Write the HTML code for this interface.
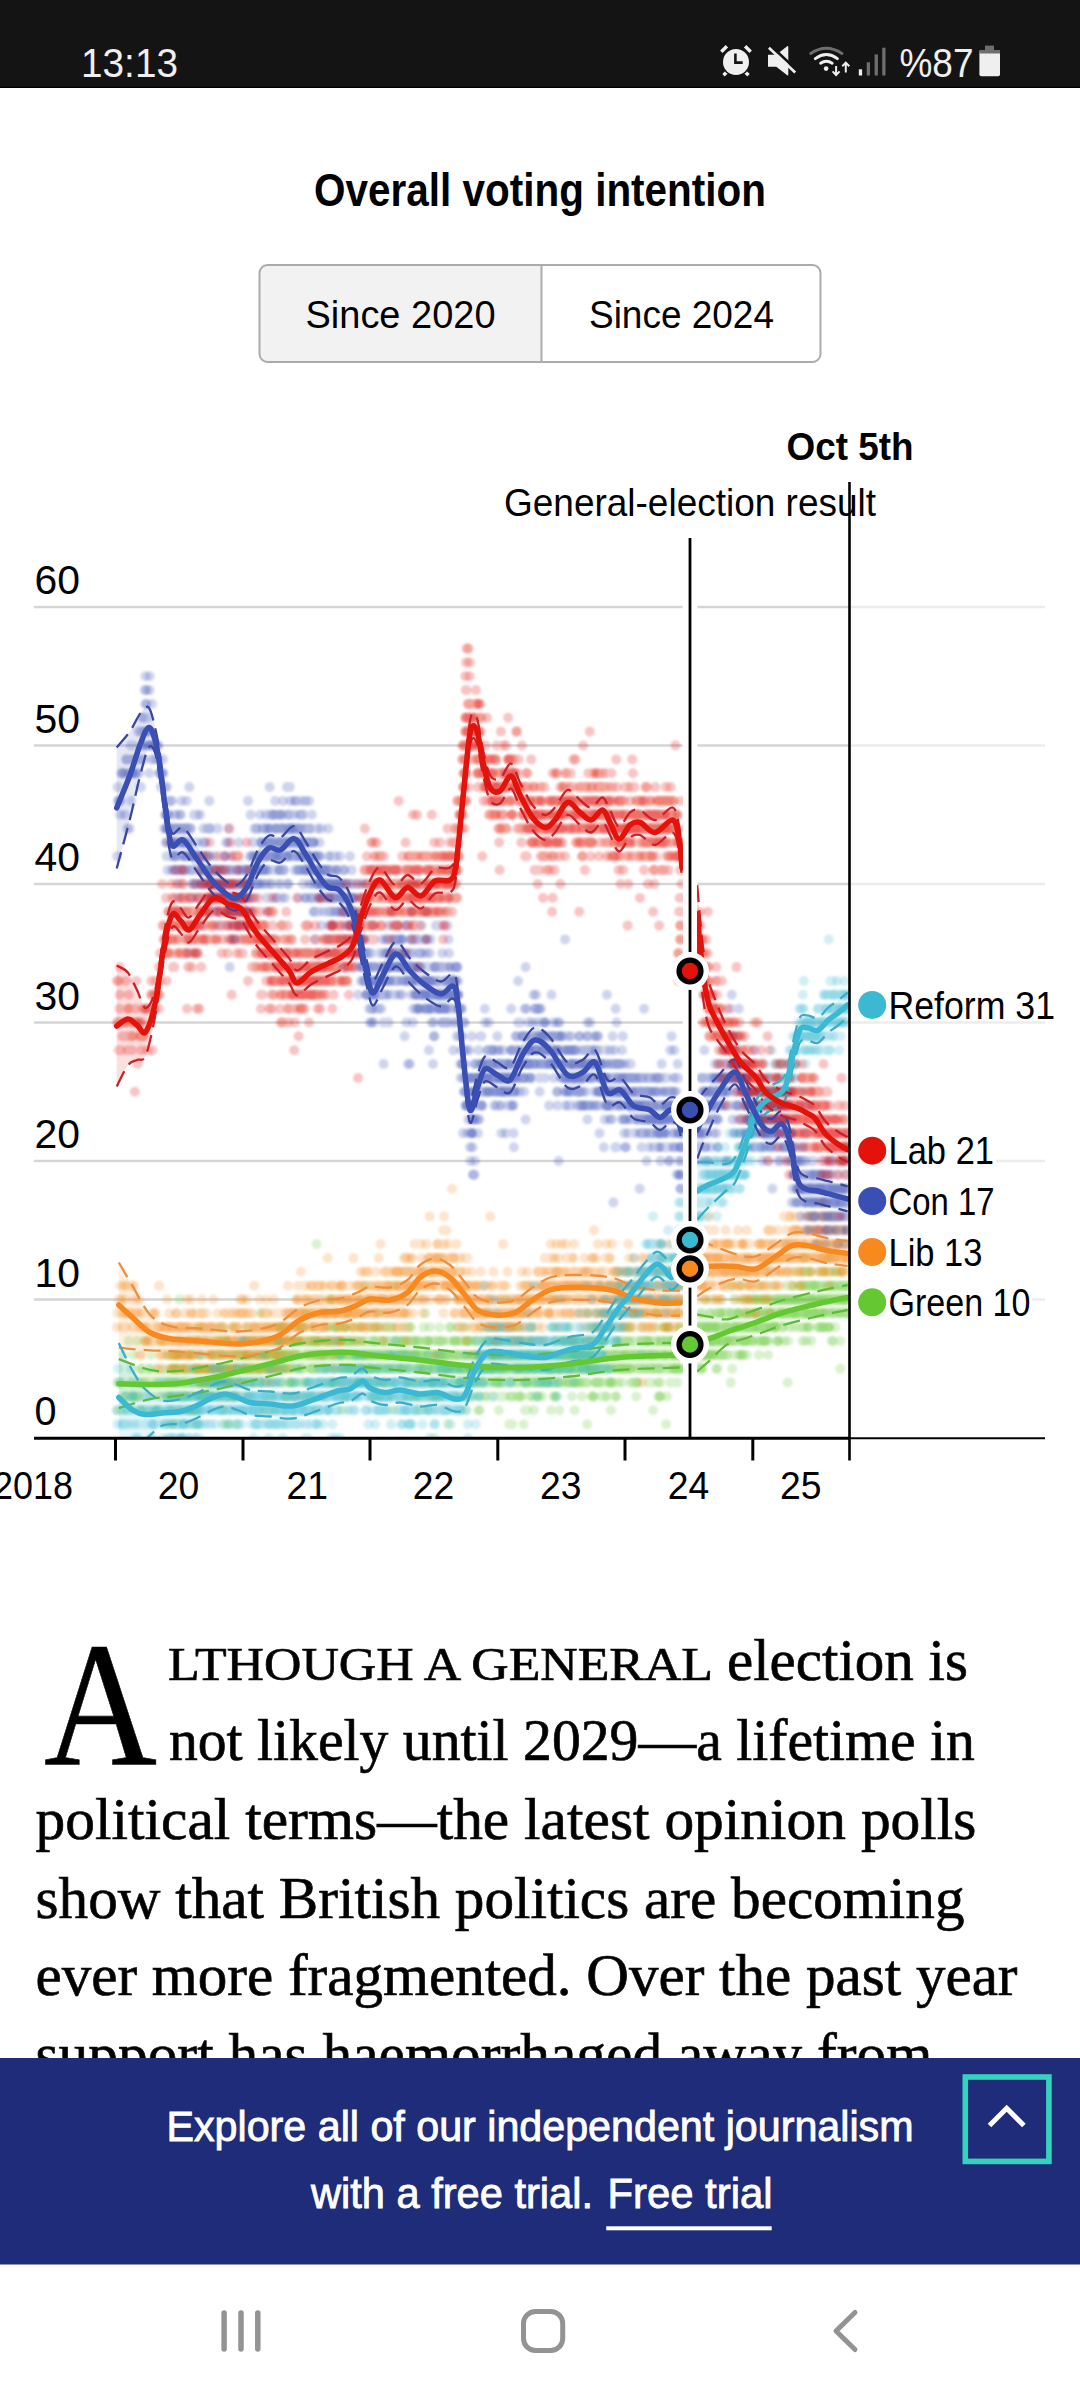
<!DOCTYPE html>
<html><head><meta charset="utf-8"><title>Overall voting intention</title>
<style>
html,body{margin:0;padding:0;background:#fff;width:1080px;height:2400px;overflow:hidden}
svg{display:block;font-family:'Liberation Sans',Arial,sans-serif}
</style></head><body>
<svg width="1080" height="2400" viewBox="0 0 1080 2400">
<rect x="0" y="0" width="1080" height="88" fill="#141414"/><rect x="0" y="86.8" width="1080" height="1.2" fill="#000"/>
<text x="81" y="77.3" font-size="41.5" fill="#efefef" textLength="97" lengthAdjust="spacingAndGlyphs">13:13</text>
<g stroke="#efefef" stroke-width="3.4" fill="none"><path d="M721.3 51.8l5.6-5.6M750.7 51.8l-5.6-5.6M723.5 75.2l4-4M748.5 75.2l-4-4"/></g><circle cx="736" cy="62" r="14.6" fill="#141414"/><circle cx="736" cy="62" r="13" fill="#efefef"/><path d="M735.4 53.5V62.6H742.7" fill="none" stroke="#141414" stroke-width="2.6"/>
<path d="M768 54.8H776.3L787.2 46.2Q788.3 45.6 788.3 47V74.6Q788.3 76 787.2 75.3L776.3 66.7H768Z" fill="#efefef"/><path d="M770.8 45.8L797.1 70.6" stroke="#141414" stroke-width="2.8"/><path d="M768.9 47.8L795.2 72.6" stroke="#efefef" stroke-width="2.7"/>
<g fill="none" stroke-linecap="round" stroke-width="2.9"><path d="M810.7 53.5Q826.3 43 842 53.5" stroke="#6e6e6e"/><path d="M815.3 58.6Q826.4 50.6 837.4 58.6" stroke="#efefef"/><path d="M820.6 63.3Q826.4 59.3 832.2 63.3" stroke="#efefef"/></g><circle cx="826.1" cy="68.6" r="2.3" fill="#efefef"/><path d="M836.1 66v8.2M832.6 71.4l3.5 3.6 3.5-3.6M845.8 72.6v-9M842.3 66.2l3.5-3.6 3.5 3.6" stroke="#efefef" stroke-width="2" fill="none"/>
<rect x="858.8" y="69.3" width="3.3" height="6.2" fill="#efefef"/><rect x="866.7" y="62.3" width="3.3" height="13.2" fill="#6e6e6e"/><rect x="874.6" y="54.4" width="3.3" height="21.1" fill="#6e6e6e"/><rect x="882.2" y="47.7" width="3.3" height="27.8" fill="#6e6e6e"/>
<text x="899.5" y="77.2" font-size="41.5" fill="#efefef" textLength="74" lengthAdjust="spacingAndGlyphs">%87</text>
<rect x="985" y="45.6" width="9" height="6" fill="#6e6e6e"/><rect x="979.4" y="50" width="20.6" height="26.2" rx="2" fill="#efefef"/><rect x="979.4" y="50" width="20.6" height="3.5" fill="#6e6e6e"/>
<text x="540" y="205.7" font-size="46.5" font-weight="700" textLength="452" lengthAdjust="spacingAndGlyphs" text-anchor="middle">Overall voting intention</text>
<path d="M267.5 265h274v97h-274a8 8 0 0 1-8-8v-81a8 8 0 0 1 8-8z" fill="#f2f2f2"/>
<rect x="259.5" y="265" width="561" height="97" rx="8" fill="none" stroke="#ababab" stroke-width="2"/>
<line x1="541.5" y1="265" x2="541.5" y2="362" stroke="#ababab" stroke-width="2"/>
<text x="400.5" y="327.8" font-size="39" textLength="190" lengthAdjust="spacingAndGlyphs" text-anchor="middle">Since 2020</text>
<text x="681.5" y="327.8" font-size="39" textLength="185" lengthAdjust="spacingAndGlyphs" text-anchor="middle">Since 2024</text>
<path d="M34 1299.5H682.5M697.5 1299.5H849" stroke="#d5d5d5" stroke-width="2.6"/>
<path d="M851 1299.5H1045" stroke="#ececec" stroke-width="2.6"/>
<path d="M34 1161H682.5M697.5 1161H849" stroke="#d5d5d5" stroke-width="2.6"/>
<path d="M851 1161H1045" stroke="#ececec" stroke-width="2.6"/>
<path d="M34 1022.5H682.5M697.5 1022.5H849" stroke="#d5d5d5" stroke-width="2.6"/>
<path d="M851 1022.5H1045" stroke="#ececec" stroke-width="2.6"/>
<path d="M34 884H682.5M697.5 884H849" stroke="#d5d5d5" stroke-width="2.6"/>
<path d="M851 884H1045" stroke="#ececec" stroke-width="2.6"/>
<path d="M34 745.5H682.5M697.5 745.5H849" stroke="#d5d5d5" stroke-width="2.6"/>
<path d="M851 745.5H1045" stroke="#ececec" stroke-width="2.6"/>
<path d="M34 607H682.5M697.5 607H849" stroke="#d5d5d5" stroke-width="2.6"/>
<path d="M851 607H1045" stroke="#ececec" stroke-width="2.6"/>
<text x="34.5" y="1425" font-size="40.5" textLength="22" lengthAdjust="spacingAndGlyphs">0</text>
<text x="34.5" y="1286.5" font-size="40.5" textLength="45.5" lengthAdjust="spacingAndGlyphs">10</text>
<text x="34.5" y="1148" font-size="40.5" textLength="45.5" lengthAdjust="spacingAndGlyphs">20</text>
<text x="34.5" y="1009.5" font-size="40.5" textLength="45.5" lengthAdjust="spacingAndGlyphs">30</text>
<text x="34.5" y="871" font-size="40.5" textLength="45.5" lengthAdjust="spacingAndGlyphs">40</text>
<text x="34.5" y="732.5" font-size="40.5" textLength="45.5" lengthAdjust="spacingAndGlyphs">50</text>
<text x="34.5" y="594" font-size="40.5" textLength="45.5" lengthAdjust="spacingAndGlyphs">60</text>
<text x="786.5" y="459.8" font-size="39" font-weight="700" textLength="127" lengthAdjust="spacingAndGlyphs">Oct 5th</text>
<text x="504" y="515.5" font-size="39" textLength="372" lengthAdjust="spacingAndGlyphs">General-election result</text>
<defs><filter id="bl" filterUnits="userSpaceOnUse" x="30" y="540" width="830" height="905"><feGaussianBlur stdDeviation="0.8"/></filter><clipPath id="cc"><rect x="34" y="540" width="815" height="897"/></clipPath></defs>
<g clip-path="url(#cc)"><g filter="url(#bl)"><path d="M170.4 1424.2h0m57.8 0h0m359 0h0M132.1 1410.3h0m55.3 0h0m155 0h0m76.9 0h0m7.8 0h0m39.5 0h0m67.3 0h0m40.8 0h0m36.3 0h0M125.7 1396.5h0m1.5 0h0m2.2 0h0m37.2 0h0m0.8 0h0m17.8 0h0m1 0h0m15.3 0h0m2.5 0h0m4 0h0m5 0h0m22.6 0h0m4.6 0h0m30.9 0h0m14.3 0h0m60.3 0h0m33.7 0h0m59.3 0h0m17 0h0m9 0h0m19.9 0h0m36.8 0h0m16.2 0h0m16.1 0h0m28.3 0h0m9.8 0h0m9.6 0h0m3.9 0h0m53.4 0h0m8.3 0h0M117.3 1382.6h0m1.8 0h0m2.5 0h0m18.6 0h0m6.9 0h0m5.5 0h0m17.4 0h0m1.3 0h0m29.1 0h0m0.4 0h0m5 0h0m1.2 0h0m2.9 0h0m2.6 0h0m1.8 0h0m1.7 0h0m11.7 0h0m0.6 0h0m4 0h0m2.7 0h0m4.9 0h0m2.7 0h0m11.7 0h0m0.8 0h0m1.7 0h0m3.3 0h0m0.7 0h0m10.2 0h0m20 0h0m9.7 0h0m2.1 0h0m17.9 0h0m12.4 0h0m25.4 0h0m22.9 0h0m33.1 0h0m2.3 0h0m0.8 0h0m14.3 0h0m27.9 0h0m0.6 0h0m2.3 0h0m11.1 0h0m1 0h0m0.3 0h0m7 0h0m0.2 0h0m13.5 0h0m1.1 0h0m20.9 0h0m7.2 0h0m1.8 0h0m17.6 0h0m8.6 0h0m4.8 0h0m4.4 0h0m13.1 0h0m3.3 0h0m2.1 0h0m5.1 0h0m0.4 0h0m11.6 0h0m12.6 0h0m0.2 0h0m22.3 0h0m4.8 0h0m32.9 0h0m6.7 0h0M174.4 1368.8h0m12.3 0h0m3 0h0m5.1 0h0m2.7 0h0m1.7 0h0m11.2 0h0m9.8 0h0m10.6 0h0m3.3 0h0m11 0h0m5 0h0m0.8 0h0m4.1 0h0m3.1 0h0m2.9 0h0m8.7 0h0m2.8 0h0m1.2 0h0m8 0h0m2.3 0h0m11.9 0h0m15.6 0h0m1.9 0h0m10.3 0h0m13.3 0h0m11.9 0h0m8.3 0h0m11.5 0h0m2.6 0h0m23.7 0h0m3.4 0h0m0.4 0h0m1.1 0h0m9.3 0h0m3.7 0h0m6.9 0h0m1.3 0h0m12.5 0h0m1.8 0h0m5.5 0h0m4.5 0h0m1.4 0h0m4.3 0h0m5.2 0h0m13 0h0m3.2 0h0m3.9 0h0m2.7 0h0m1.8 0h0m4.7 0h0m2.3 0h0m1.7 0h0m13.6 0h0m0.5 0h0m2.4 0h0m0.5 0h0m3.7 0h0m10.9 0h0m8.1 0h0m4.2 0h0m2.3 0h0m3.7 0h0m8 0h0m12.1 0h0m0.2 0h0m6.8 0h0m1.2 0h0m4.6 0h0m3.4 0h0m1.9 0h0m4.3 0h0m0.7 0h0m3.9 0h0m6.4 0h0m24.2 0h0m3 0h0m7.3 0h0m0.5 0h0m2.7 0h0m5.7 0h0m2.9 0h0m0.7 0h0m1.5 0h0m2 0h0m3.3 0h0m2.3 0h0m1.4 0h0m3.1 0h0m6.4 0h0m1.6 0h0m1.2 0h0m3.3 0h0m2.9 0h0m1.9 0h0m4.7 0h0m0.9 0h0m1.7 0h0m1.2 0h0m0.9 0h0m21.4 0h0m14.4 0h0M151.2 1354.9h0m19.9 0h0m3.8 0h0m15.8 0h0m8.2 0h0m12 0h0m27.8 0h0m0.1 0h0m2.6 0h0m0.5 0h0m24.6 0h0m7.2 0h0m3 0h0m5.4 0h0m4.4 0h0m4.4 0h0m1 0h0m4.3 0h0m19.2 0h0m2.8 0h0m0.5 0h0m2.2 0h0m0.7 0h0m0.4 0h0m3.1 0h0m8.2 0h0m6.7 0h0m0.8 0h0m17.8 0h0m6.4 0h0m2.1 0h0m8.7 0h0m8.9 0h0m0.5 0h0m1.6 0h0m6.2 0h0m7.2 0h0m0.8 0h0m3.4 0h0m0.2 0h0m2.1 0h0m8.6 0h0m0.2 0h0m0.6 0h0m10.6 0h0m7.9 0h0m10.3 0h0m2 0h0m0.6 0h0m3 0h0m6.7 0h0m10.1 0h0m11.6 0h0m0.1 0h0m3 0h0m10.3 0h0m8.8 0h0m6.8 0h0m7.2 0h0m3.9 0h0m0.6 0h0m4.4 0h0m4.8 0h0m5.6 0h0m4.5 0h0m8.1 0h0m8.3 0h0m14.9 0h0m0.2 0h0m3.7 0h0m0.9 0h0m6.6 0h0m2.6 0h0m0.4 0h0m2.1 0h0m29.2 0h0m1 0h0m7.4 0h0m9.1 0h0m2.8 0h0m4.5 0h0m3.7 0h0m7.5 0h0m2.6 0h0m9.4 0h0m0.3 0h0m9.5 0h0m3.7 0h0m0.5 0h0m1.9 0h0m21 0h0m4.6 0h0m6.9 0h0m29.3 0h0m17.3 0h0M144.9 1341h0m81 0h0m16.4 0h0m9.6 0h0m11.9 0h0m0.4 0h0m12.9 0h0m16.9 0h0m6.9 0h0m7.8 0h0m0.8 0h0m1.7 0h0m0.7 0h0m2.9 0h0m0.3 0h0m2.3 0h0m2 0h0m0.1 0h0m10.4 0h0m4.1 0h0m2.4 0h0m2.3 0h0m9.1 0h0m3.4 0h0m1 0h0m13.2 0h0m1.1 0h0m3.9 0h0m4.6 0h0m1 0h0m4.7 0h0m1.8 0h0m20.1 0h0m4.4 0h0m6.9 0h0m11.1 0h0m3.2 0h0m11.5 0h0m14.2 0h0m5.5 0h0m6 0h0m4 0h0m6.4 0h0m1.8 0h0m3.1 0h0m27.9 0h0m3.7 0h0m1 0h0m0.1 0h0m8.5 0h0m6.1 0h0m28 0h0m23.6 0h0m12.4 0h0m1.2 0h0m3.5 0h0m2.2 0h0m4.5 0h0m17.3 0h0m1.6 0h0m8.2 0h0m18 0h0m7.7 0h0m11.4 0h0m3.8 0h0m1 0h0m8.2 0h0m18.2 0h0m3.2 0h0m1.7 0h0m2.5 0h0m4.1 0h0m2.1 0h0m2.5 0h0m0.3 0h0m1.3 0h0m11.6 0h0m2 0h0m3.7 0h0m2.8 0h0m7.6 0h0m7.8 0h0m12.3 0h0m2.8 0h0m10.8 0h0m24.6 0h0M232.8 1327.2h0m40.1 0h0m4.7 0h0m22.3 0h0m3.1 0h0m11.2 0h0m13.5 0h0m32.7 0h0m8.8 0h0m41.9 0h0m12.5 0h0m15.9 0h0m9.8 0h0m61.9 0h0m57.7 0h0m22.5 0h0m27.4 0h0m7.2 0h0m15.9 0h0m0.4 0h0m23 0h0m13.9 0h0m19 0h0m2.8 0h0m2.1 0h0m6.4 0h0m4.4 0h0m12.1 0h0m1.9 0h0m0.9 0h0m3.4 0h0m0.2 0h0m2 0h0m1 0h0m0.1 0h0m0.8 0h0m11.6 0h0m0.4 0h0m0.2 0h0m2.2 0h0m4.1 0h0m3.3 0h0m1.8 0h0m0.5 0h0m2.4 0h0m2.4 0h0m7.3 0h0m0.5 0h0m2 0h0m14.8 0h0m18.8 0h0m1.5 0h0m13.5 0h0m5.3 0h0M346.4 1313.3h0m262.2 0h0m25.8 0h0m6.5 0h0m14.8 0h0m21 0h0m39.5 0h0m4.5 0h0m4.3 0h0m5.1 0h0m6.3 0h0m0.7 0h0m8 0h0m0.6 0h0m1.4 0h0m9.3 0h0m4.3 0h0m1 0h0m1.7 0h0m8.6 0h0m7.3 0h0m0.3 0h0m0.4 0h0m2.5 0h0m2.5 0h0m1.6 0h0m3.4 0h0m1.9 0h0m3.6 0h0m2.9 0h0m1.1 0h0m3.8 0h0m3.2 0h0m1.3 0h0m3.3 0h0m0.8 0h0m0.9 0h0m0.5 0h0m0.8 0h0m1.2 0h0m6.8 0h0m10.6 0h0m1 0h0m12.3 0h0m0.4 0h0m0.9 0h0M711.6 1299.5h0m37.6 0h0m8.4 0h0m9.1 0h0m7.1 0h0m2 0h0m0.9 0h0m4.8 0h0m1.6 0h0m3 0h0m2.6 0h0m5.4 0h0m6 0h0m0.7 0h0m1.6 0h0m4.4 0h0m3.8 0h0m1.8 0h0m10.2 0h0m20 0h0m1.8 0h0M798.6 1285.7h0m10.2 0h0m1.2 0h0m5.8 0h0m12.8 0h0m11.7 0h0m6.4 0h0M628.1 1271.8h0m115.5 0h0m66.5 0h0m8.6 0h0m6.2 0h0m0.3 0h0m5.7 0h0m11.3 0h0M316.6 1244.1h0" stroke="#64c832" stroke-opacity="0.23" stroke-width="10" stroke-linecap="round" fill="none"/><path d="M225 1424.2h0m11.7 0h0m211.1 0h0m75.8 0h0M117 1410.3h0m6.1 0h0m21.1 0h0m14.3 0h0m13.7 0h0m20.8 0h0m0.9 0h0m2.5 0h0m1.3 0h0m280.6 0h0m174.8 0h0M135.7 1396.5h0m2.9 0h0m33.6 0h0m5 0h0m3.2 0h0m4.9 0h0m10.8 0h0m14.1 0h0m8.4 0h0m1 0h0m14 0h0m69.8 0h0m88.2 0h0m25.5 0h0m18.2 0h0m76.4 0h0m21 0h0m61.6 0h0m12.1 0h0m8.9 0h0m45.3 0h0M131.8 1382.6h0m39.9 0h0m3.3 0h0m8.2 0h0m5.1 0h0m14.9 0h0m1.1 0h0m1.9 0h0m8.6 0h0m3.3 0h0m2.8 0h0m0.9 0h0m4.1 0h0m0.1 0h0m1.3 0h0m13.1 0h0m0.5 0h0m7.4 0h0m1.2 0h0m42.3 0h0m2.3 0h0m15.1 0h0m17.9 0h0m3.7 0h0m9.3 0h0m7 0h0m11.6 0h0m10.6 0h0m6.8 0h0m33.9 0h0m6.4 0h0m5.9 0h0m10.1 0h0m13.3 0h0m2.2 0h0m4 0h0m8.3 0h0m7.6 0h0m0.9 0h0m28.8 0h0m13.3 0h0m2.1 0h0m1.9 0h0m2.3 0h0m6.2 0h0m7.2 0h0m2.4 0h0m1.7 0h0m5.9 0h0m9.9 0h0m3.3 0h0m0.6 0h0m2.1 0h0m0.6 0h0m2.2 0h0m5 0h0m3.3 0h0m0.5 0h0m8.9 0h0m18.7 0h0m5.1 0h0m11.1 0h0m6.2 0h0m30.6 0h0m2.8 0h0m136.3 0h0M140.6 1368.8h0m9.6 0h0m19.4 0h0m6.2 0h0m0.1 0h0m17.8 0h0m0 0h0m2.6 0h0m6.6 0h0m3.5 0h0m2.4 0h0m4.8 0h0m1.3 0h0m2.3 0h0m5.6 0h0m1.9 0h0m11.1 0h0m3.4 0h0m0.5 0h0m2.7 0h0m1.4 0h0m0.4 0h0m0.9 0h0m3.6 0h0m0.4 0h0m9.6 0h0m8.3 0h0m1.1 0h0m3.4 0h0m8.1 0h0m0.7 0h0m3.2 0h0m5.6 0h0m0.6 0h0m0.9 0h0m11 0h0m8.4 0h0m6.1 0h0m2.4 0h0m2 0h0m2 0h0m1.7 0h0m9.1 0h0m13.4 0h0m14.1 0h0m2.9 0h0m7.6 0h0m0.9 0h0m4.8 0h0m7.2 0h0m17.8 0h0m0.1 0h0m1.5 0h0m0.7 0h0m0.7 0h0m2.4 0h0m0.5 0h0m9.8 0h0m0.5 0h0m1.7 0h0m3.7 0h0m4.7 0h0m19 0h0m0.7 0h0m1.4 0h0m1.5 0h0m9.4 0h0m3.1 0h0m0.2 0h0m0.4 0h0m10.9 0h0m1.8 0h0m5.5 0h0m0.6 0h0m6.6 0h0m1.5 0h0m1.5 0h0m4.2 0h0m1.8 0h0m7.6 0h0m0.5 0h0m12.8 0h0m1.6 0h0m10.6 0h0m15.7 0h0m3.2 0h0m1 0h0m3 0h0m0.4 0h0m5.5 0h0m1.4 0h0m10.8 0h0m0.3 0h0m3.7 0h0m3.1 0h0m9 0h0m3.1 0h0m16.4 0h0m8.5 0h0m3.5 0h0m1.7 0h0m1 0h0m8.4 0h0m18 0h0m2.9 0h0m6.3 0h0m16 0h0m4.8 0h0m0.3 0h0m23.1 0h0m29.7 0h0m107.8 0h0M166.1 1354.9h0m15 0h0m10.5 0h0m23 0h0m6.1 0h0m11.6 0h0m3.2 0h0m1.8 0h0m8.7 0h0m0.6 0h0m3.1 0h0m1.8 0h0m0.9 0h0m6.5 0h0m4.1 0h0m5 0h0m6.9 0h0m4.1 0h0m8.4 0h0m1.7 0h0m1.3 0h0m5 0h0m2.1 0h0m8.9 0h0m2.7 0h0m5.8 0h0m5.8 0h0m0.7 0h0m1.7 0h0m16.2 0h0m0.3 0h0m9 0h0m5.1 0h0m1.4 0h0m15.1 0h0m12.4 0h0m0.6 0h0m3.7 0h0m1.5 0h0m1.1 0h0m10.2 0h0m2.1 0h0m1.5 0h0m1.5 0h0m3 0h0m4.4 0h0m1.6 0h0m7.5 0h0m16.5 0h0m5.1 0h0m12 0h0m2.2 0h0m5.1 0h0m0.6 0h0m9.3 0h0m0.1 0h0m0.4 0h0m1 0h0m20.2 0h0m4.7 0h0m4.3 0h0m0.8 0h0m11 0h0m0.1 0h0m8.5 0h0m4.7 0h0m3.4 0h0m0.9 0h0m9.2 0h0m2.7 0h0m2.4 0h0m18.8 0h0m7 0h0m3.6 0h0m0.9 0h0m6.7 0h0m5.3 0h0m18.7 0h0m0.5 0h0m3.4 0h0m2.3 0h0m1.2 0h0m7.6 0h0m4.4 0h0m3.7 0h0m0.9 0h0m1.2 0h0m6.2 0h0m1.3 0h0m2.9 0h0m5 0h0m0.5 0h0m2.2 0h0m0.5 0h0m3.4 0h0m13.2 0h0m6.2 0h0m2.4 0h0m1.4 0h0m1.1 0h0m2.1 0h0m21.3 0h0m4.8 0h0m2.8 0h0m6.2 0h0m0.8 0h0m1.9 0h0m1.8 0h0m3.4 0h0m3.1 0h0m11.9 0h0m29 0h0M128.7 1341h0m8.3 0h0m86.5 0h0m2.1 0h0m24.8 0h0m3.3 0h0m8.8 0h0m13.9 0h0m1 0h0m8.8 0h0m1.1 0h0m5.7 0h0m2 0h0m1.4 0h0m0.3 0h0m1 0h0m13.3 0h0m10.4 0h0m21.1 0h0m1.3 0h0m0.3 0h0m3.1 0h0m3.1 0h0m11.2 0h0m13.8 0h0m6.3 0h0m14.5 0h0m4.3 0h0m6.3 0h0m5.4 0h0m2.9 0h0m15.4 0h0m0.8 0h0m2.7 0h0m7.7 0h0m13.1 0h0m13 0h0m19.2 0h0m8.1 0h0m4.7 0h0m20.6 0h0m10.5 0h0m24.9 0h0m1.6 0h0m5.8 0h0m2.4 0h0m7.8 0h0m7 0h0m10.4 0h0m10.1 0h0m0.8 0h0m1.2 0h0m16.6 0h0m1.6 0h0m4.7 0h0m8.1 0h0m5.1 0h0m6.2 0h0m0.2 0h0m2 0h0m13.7 0h0m11.2 0h0m6.1 0h0m1 0h0m20.4 0h0m3.1 0h0m2.9 0h0m7.1 0h0m6.2 0h0m3.4 0h0m3.2 0h0m1.7 0h0m3.4 0h0m0.8 0h0m3.9 0h0m6.3 0h0m3 0h0m2 0h0m12.8 0h0m4.8 0h0m19.9 0h0m27.1 0h0m21.8 0h0M280.8 1327.2h0m1.5 0h0m0.6 0h0m16.4 0h0m1.5 0h0m3.1 0h0m31.5 0h0m11.2 0h0m7.4 0h0m4.1 0h0m16 0h0m55.8 0h0m21.5 0h0m30 0h0m13.8 0h0m20.9 0h0m16.1 0h0m77.2 0h0m54.5 0h0m35.1 0h0m0.9 0h0m1.8 0h0m2.1 0h0m4.2 0h0m1.1 0h0m1.1 0h0m3.8 0h0m4 0h0m1.3 0h0m6.6 0h0m8.9 0h0m6.4 0h0m16.4 0h0m0.2 0h0m0.2 0h0m1.8 0h0m8 0h0m1.9 0h0m4.5 0h0m1.1 0h0m7.5 0h0m11.2 0h0m0.6 0h0m8.4 0h0m14.9 0h0m1.1 0h0m1.8 0h0m3.2 0h0m5.1 0h0M259.9 1313.3h0m47.1 0h0m71.3 0h0m47.2 0h0m192.9 0h0m16.5 0h0m10.4 0h0m11.8 0h0m54 0h0m9 0h0m19 0h0m10.3 0h0m4.1 0h0m3.1 0h0m9.1 0h0m1.2 0h0m3.8 0h0m0.2 0h0m4 0h0m5.7 0h0m9.4 0h0m0.1 0h0m1.1 0h0m5 0h0m7.8 0h0m1.4 0h0m8.8 0h0m10 0h0m16.4 0h0m6.3 0h0m1 0h0M179.4 1299.5h0m150.2 0h0m375.3 0h0m35.7 0h0m10.2 0h0m0.1 0h0m3.1 0h0m9.6 0h0m2.9 0h0m8.1 0h0m3.9 0h0m7 0h0m5.1 0h0m5.3 0h0m5.9 0h0m9.7 0h0m7 0h0m2.3 0h0m1.2 0h0m5.5 0h0m2.3 0h0m5.7 0h0m2.7 0h0m4.8 0h0m2.7 0h0M760.1 1285.7h0m40.5 0h0m1.5 0h0m5.5 0h0m6.3 0h0m5.8 0h0m3.3 0h0m1.8 0h0m0.6 0h0m5.5 0h0m0.5 0h0m3.1 0h0m1.5 0h0m2.5 0h0m0.1 0h0m0.9 0h0m1.6 0h0m0.2 0h0m1.7 0h0m0.8 0h0m1 0h0M802.8 1271.8h0m3.2 0h0m30.2 0h0" stroke="#64c832" stroke-opacity="0.23" stroke-width="10" stroke-linecap="round" fill="none"/><path d="M173.5 1424.2h0m4.1 0h0m0.9 0h0m0 0h0m487.6 0h0M155.5 1410.3h0m24.3 0h0m10.4 0h0m34.3 0h0m40.4 0h0m9.4 0h0m205.4 0h0m45.3 0h0m2.2 0h0M137.5 1396.5h0m31.8 0h0m9.4 0h0m0.2 0h0m2.8 0h0m2.9 0h0m1 0h0m0.3 0h0m17.2 0h0m0.3 0h0m7.2 0h0m8.1 0h0m7.5 0h0m3.2 0h0m4.2 0h0m14.4 0h0m39.8 0h0m24.1 0h0m114.1 0h0m48.1 0h0m35.8 0h0m4.2 0h0m6.2 0h0m21.8 0h0m12.5 0h0m17.3 0h0m20.7 0h0m23.7 0h0m43.2 0h0M145.6 1382.6h0m13.5 0h0m3.2 0h0m1.2 0h0m5.1 0h0m0.3 0h0m0.2 0h0m2.4 0h0m5.5 0h0m6 0h0m0.8 0h0m16.1 0h0m1.4 0h0m0.8 0h0m0.5 0h0m2.7 0h0m11.5 0h0m9.8 0h0m2.8 0h0m18.8 0h0m5.1 0h0m1.2 0h0m1.7 0h0m5.8 0h0m6.3 0h0m13.2 0h0m10.5 0h0m12.6 0h0m53 0h0m26.2 0h0m0.3 0h0m46.9 0h0m0.4 0h0m11.8 0h0m16.6 0h0m6 0h0m8.3 0h0m10.2 0h0m10.3 0h0m0.4 0h0m3.5 0h0m0.1 0h0m0.8 0h0m1.2 0h0m4 0h0m3 0h0m2.3 0h0m15.7 0h0m7.4 0h0m7 0h0m1.5 0h0m3 0h0m1.7 0h0m22.1 0h0m6.1 0h0m9.2 0h0m4 0h0m22.2 0h0m12.6 0h0m14.7 0h0m20.7 0h0M142.5 1368.8h0m6.1 0h0m25.2 0h0m1.1 0h0m1.4 0h0m5.9 0h0m14.8 0h0m11.4 0h0m13.6 0h0m0.5 0h0m5.8 0h0m0.3 0h0m2.7 0h0m0.4 0h0m6.5 0h0m3.6 0h0m1.1 0h0m2.3 0h0m6.8 0h0m0.5 0h0m4.6 0h0m3.1 0h0m5.7 0h0m4.3 0h0m1.5 0h0m0.2 0h0m1.2 0h0m2.1 0h0m11.5 0h0m5.7 0h0m6.7 0h0m43.5 0h0m0.5 0h0m5.9 0h0m1.5 0h0m4.8 0h0m0.6 0h0m3.5 0h0m0.1 0h0m2.2 0h0m1.3 0h0m0.7 0h0m3.8 0h0m1 0h0m2.2 0h0m7 0h0m2.6 0h0m0.1 0h0m1.3 0h0m1.7 0h0m1 0h0m5.1 0h0m5.2 0h0m0.5 0h0m29.2 0h0m18.3 0h0m1.8 0h0m13.2 0h0m4.4 0h0m0.8 0h0m4.5 0h0m0.9 0h0m5.2 0h0m1.1 0h0m7.5 0h0m2.2 0h0m0.5 0h0m0.3 0h0m8 0h0m0.9 0h0m22.9 0h0m9.2 0h0m1.8 0h0m0.9 0h0m5.3 0h0m0.8 0h0m1.3 0h0m12.5 0h0m0.7 0h0m3.2 0h0m7.6 0h0m9.1 0h0m6.7 0h0m2.2 0h0m10.4 0h0m1 0h0m0.1 0h0m6.1 0h0m6.7 0h0m4.1 0h0m2.1 0h0m3.4 0h0m11.1 0h0m0.6 0h0m0.8 0h0m4.5 0h0m0.5 0h0m15 0h0m29.7 0h0m3 0h0m40.2 0h0M133.2 1354.9h0m40.5 0h0m2.7 0h0m1.6 0h0m34.3 0h0m1.1 0h0m4.1 0h0m3.2 0h0m4.2 0h0m21.8 0h0m6.7 0h0m4.8 0h0m7.9 0h0m12.9 0h0m0.7 0h0m5.3 0h0m30.5 0h0m2.4 0h0m5.6 0h0m5 0h0m3.5 0h0m2.3 0h0m2.9 0h0m1.2 0h0m5.8 0h0m4.1 0h0m1.4 0h0m2.7 0h0m1.6 0h0m2.5 0h0m3.2 0h0m2.7 0h0m1.9 0h0m3.2 0h0m4.9 0h0m2.1 0h0m2.1 0h0m2 0h0m0.9 0h0m8.8 0h0m1.4 0h0m11.7 0h0m1.7 0h0m3.2 0h0m6.9 0h0m1.3 0h0m4.9 0h0m0.6 0h0m1 0h0m0.4 0h0m1.8 0h0m5.7 0h0m7 0h0m1 0h0m3.2 0h0m3.4 0h0m5 0h0m3.4 0h0m0.6 0h0m0.5 0h0m5.1 0h0m2.5 0h0m2.5 0h0m1.2 0h0m16.1 0h0m3.1 0h0m6.6 0h0m3 0h0m0.9 0h0m1.6 0h0m4 0h0m9 0h0m2.7 0h0m4.5 0h0m4.4 0h0m0.2 0h0m2.4 0h0m0.9 0h0m6.8 0h0m7.6 0h0m3.7 0h0m2.4 0h0m0.5 0h0m6.2 0h0m9.9 0h0m2.5 0h0m2.9 0h0m3.7 0h0m2.3 0h0m1.1 0h0m4.1 0h0m3.4 0h0m8.8 0h0m0.6 0h0m16.6 0h0m17.9 0h0m27.1 0h0m1.3 0h0m1.1 0h0m4.3 0h0m6.4 0h0m3 0h0m4.8 0h0m31.8 0h0m2.2 0h0m1.4 0h0m2.2 0h0m3.1 0h0m8.9 0h0m4.8 0h0m6.6 0h0m6 0h0m5.9 0h0m1.5 0h0M192.4 1341h0m3.5 0h0m21.3 0h0m9.6 0h0m19 0h0m0.4 0h0m19.2 0h0m2.3 0h0m10.4 0h0m5.2 0h0m0.9 0h0m11.2 0h0m2.9 0h0m0.5 0h0m16 0h0m1.3 0h0m8.2 0h0m2.3 0h0m1.5 0h0m28.6 0h0m31.6 0h0m3.7 0h0m5.1 0h0m0.6 0h0m3.1 0h0m8 0h0m2 0h0m4.1 0h0m4.4 0h0m6.9 0h0m9.8 0h0m1.1 0h0m0.8 0h0m2.3 0h0m3.5 0h0m11.9 0h0m11.4 0h0m9.4 0h0m3.1 0h0m9 0h0m10.5 0h0m13.3 0h0m7.1 0h0m43.3 0h0m4.5 0h0m1.2 0h0m4 0h0m26.5 0h0m2.7 0h0m2.8 0h0m11.4 0h0m25 0h0m2.5 0h0m3.5 0h0m1.3 0h0m12.7 0h0m2.5 0h0m4.2 0h0m2.8 0h0m6.7 0h0m2.9 0h0m31.6 0h0m10.5 0h0m0.1 0h0m0.5 0h0m1.5 0h0m4.9 0h0m3.7 0h0m0.5 0h0m7.7 0h0m3.1 0h0m3.9 0h0m7.1 0h0m2.4 0h0m4.6 0h0m6.4 0h0m10.4 0h0m53.1 0h0m8.6 0h0M199.4 1327.2h0m80.7 0h0m1.1 0h0m49.2 0h0m4.5 0h0m10.1 0h0m36.8 0h0m8.8 0h0m75.2 0h0m23.3 0h0m28.8 0h0m35.2 0h0m41.9 0h0m3.2 0h0m1 0h0m32.1 0h0m37.6 0h0m37.3 0h0m2.5 0h0m7.1 0h0m20.1 0h0m1.4 0h0m5 0h0m2.2 0h0m2.3 0h0m0.6 0h0m1.3 0h0m0.2 0h0m3.8 0h0m18.7 0h0m5.7 0h0m5.8 0h0m24.9 0h0m13.7 0h0m1.9 0h0m11.9 0h0M326.2 1313.3h0m261.3 0h0m115.1 0h0m20.7 0h0m0.8 0h0m1.3 0h0m4.2 0h0m8 0h0m10.6 0h0m1.7 0h0m0.8 0h0m15.6 0h0m2.6 0h0m1.2 0h0m10.3 0h0m3.5 0h0m11.3 0h0m2.6 0h0m5.8 0h0m3.8 0h0m9 0h0m2.2 0h0m2.6 0h0m5.8 0h0m0.1 0h0m1 0h0m6.2 0h0m4.8 0h0M733.7 1299.5h0m0.5 0h0m11.2 0h0m10.2 0h0m5.3 0h0m8.5 0h0m6.7 0h0m1.5 0h0m3.6 0h0m4.2 0h0m3.9 0h0m1.9 0h0m2.6 0h0m1.6 0h0m2 0h0m8.9 0h0m6.2 0h0m5.2 0h0m9 0h0m3.5 0h0m0.3 0h0m0.4 0h0m2.5 0h0m0.5 0h0m3.7 0h0m1 0h0m1.6 0h0m1.7 0h0m1.4 0h0m3.1 0h0M365.3 1285.7h0m367 0h0m54.7 0h0m5 0h0m11.6 0h0m10.3 0h0m11.9 0h0m2.6 0h0m5 0h0M792.9 1271.8h0m0.1 0h0m10.8 0h0m5.9 0h0m25.4 0h0m1.7 0h0M669.5 1258h0m159.5 0h0" stroke="#64c832" stroke-opacity="0.23" stroke-width="10" stroke-linecap="round" fill="none"/><path d="M434.4 1438h0M189.1 1424.2h0m8.4 0h0m311.8 0h0m2.9 0h0M140.9 1410.3h0m11.5 0h0m38.9 0h0m3.2 0h0m197.8 0h0m106.6 0h0m52.1 0h0m8.2 0h0M123.5 1396.5h0m1.7 0h0m8.9 0h0m20.3 0h0m6.5 0h0m9.7 0h0m1.8 0h0m19.6 0h0m8.8 0h0m3.7 0h0m6.9 0h0m18.4 0h0m143 0h0m33.9 0h0m4.7 0h0m7.2 0h0m12 0h0m10.6 0h0m28.8 0h0m10.2 0h0m7.2 0h0m0.3 0h0m6.1 0h0m6.1 0h0m2.9 0h0m1.1 0h0m14.5 0h0m11.5 0h0m8.6 0h0m18.4 0h0m79.4 0h0M119.8 1382.6h0m11.3 0h0m10.1 0h0m15.7 0h0m10.3 0h0m0.9 0h0m5 0h0m2.6 0h0m3.4 0h0m5.2 0h0m1.3 0h0m1.1 0h0m2.1 0h0m4.1 0h0m0.3 0h0m2.2 0h0m2.5 0h0m4.5 0h0m5.1 0h0m1.8 0h0m2.5 0h0m1.6 0h0m1.9 0h0m1 0h0m1.9 0h0m0.1 0h0m5.6 0h0m3.4 0h0m52.6 0h0m4.7 0h0m3.3 0h0m1.3 0h0m0.2 0h0m43.3 0h0m3 0h0m27.7 0h0m2.8 0h0m7.7 0h0m12.6 0h0m4.7 0h0m15.1 0h0m27.1 0h0m3.4 0h0m1.5 0h0m1.6 0h0m19.6 0h0m19.8 0h0m4.1 0h0m7.3 0h0m1.6 0h0m7.3 0h0m1.9 0h0m25.7 0h0m8.2 0h0m1.8 0h0m8.6 0h0m2.7 0h0m10.5 0h0m10.3 0h0m2.2 0h0m7.9 0h0m0.6 0h0m15.1 0h0m5.5 0h0m5.8 0h0m6.8 0h0m17.6 0h0m5.1 0h0m24.3 0h0m70.6 0h0M156.6 1368.8h0m7.8 0h0m9.9 0h0m3.3 0h0m3.2 0h0m5.1 0h0m1 0h0m0.9 0h0m8.9 0h0m1 0h0m1.1 0h0m7.1 0h0m9.8 0h0m6.1 0h0m8.5 0h0m5.8 0h0m7.2 0h0m0 0h0m0.3 0h0m3.8 0h0m5.2 0h0m3 0h0m0.8 0h0m1 0h0m4 0h0m0.2 0h0m1.6 0h0m1.5 0h0m1 0h0m1 0h0m4.7 0h0m2.4 0h0m1 0h0m0.8 0h0m7 0h0m2.1 0h0m16.6 0h0m2.4 0h0m8.8 0h0m3.2 0h0m11.5 0h0m1.8 0h0m12.3 0h0m7.9 0h0m1.9 0h0m0.7 0h0m1.3 0h0m9.8 0h0m4.3 0h0m1 0h0m0.5 0h0m0.8 0h0m2.6 0h0m1.4 0h0m6.5 0h0m8.3 0h0m13.7 0h0m20.8 0h0m0.2 0h0m8.8 0h0m0.9 0h0m6.4 0h0m1.1 0h0m5 0h0m4.2 0h0m11.3 0h0m5.4 0h0m4.8 0h0m15.1 0h0m0.4 0h0m2.6 0h0m2.1 0h0m10.1 0h0m3 0h0m16.4 0h0m0.9 0h0m4 0h0m2.8 0h0m20.9 0h0m0.7 0h0m2.3 0h0m3.2 0h0m2.8 0h0m6.5 0h0m0.3 0h0m4.8 0h0m1.5 0h0m13.1 0h0m0.7 0h0m0.3 0h0m1.5 0h0m0.9 0h0m0.4 0h0m3.5 0h0m3.6 0h0m2.7 0h0m0.4 0h0m1.1 0h0m3.5 0h0m2.4 0h0m1.4 0h0m0.9 0h0m0.5 0h0m5.6 0h0m5.5 0h0m0.3 0h0m2.1 0h0m1 0h0m0.5 0h0m2.3 0h0m1 0h0m11.4 0h0m2.1 0h0m14.2 0h0m1 0h0m2.3 0h0m0.8 0h0m3.8 0h0m0.4 0h0m7 0h0m5.2 0h0m6.2 0h0m17.5 0h0m1.9 0h0M123.6 1354.9h0m54.2 0h0m10.4 0h0m14.7 0h0m17 0h0m4.4 0h0m0.2 0h0m3.5 0h0m6.2 0h0m3.5 0h0m5.3 0h0m2.3 0h0m4.4 0h0m16.7 0h0m4.2 0h0m5.2 0h0m5.2 0h0m2.2 0h0m2.7 0h0m7.4 0h0m4.5 0h0m7.9 0h0m1.9 0h0m2.2 0h0m3.3 0h0m4.1 0h0m3 0h0m2.1 0h0m1.7 0h0m0.2 0h0m1 0h0m0.5 0h0m3.1 0h0m0.5 0h0m3 0h0m1.1 0h0m4.5 0h0m4.3 0h0m0.2 0h0m7 0h0m2.6 0h0m3.5 0h0m0.7 0h0m4.6 0h0m1.2 0h0m4.6 0h0m1 0h0m4.6 0h0m6.1 0h0m2.8 0h0m12.4 0h0m0.3 0h0m2.2 0h0m0.9 0h0m1.8 0h0m1.8 0h0m4.4 0h0m4.8 0h0m6.8 0h0m0.8 0h0m12 0h0m3.2 0h0m8.7 0h0m0.6 0h0m0.6 0h0m4 0h0m24.1 0h0m6.7 0h0m3.6 0h0m12.1 0h0m0.4 0h0m15.1 0h0m0.7 0h0m6.6 0h0m0.4 0h0m3.5 0h0m8.1 0h0m2 0h0m16.6 0h0m5.4 0h0m3.5 0h0m0.2 0h0m5.3 0h0m1.9 0h0m3.5 0h0m9.6 0h0m6.7 0h0m3.4 0h0m10.8 0h0m5.6 0h0m1.4 0h0m1.4 0h0m7.9 0h0m1.5 0h0m1.9 0h0m3.7 0h0m7.2 0h0m0.1 0h0m2 0h0m4.1 0h0m5.2 0h0m6.1 0h0m0.2 0h0m3.3 0h0m1.7 0h0m10.4 0h0m3.3 0h0m10.6 0h0m0.2 0h0m4.1 0h0m0.5 0h0m2.6 0h0m17.4 0h0m6 0h0m5.5 0h0m7.1 0h0m4.6 0h0m20.9 0h0M160 1341h0m38.3 0h0m20.7 0h0m36.4 0h0m0.5 0h0m3.6 0h0m9.5 0h0m0.6 0h0m5.5 0h0m3.3 0h0m1.3 0h0m8.8 0h0m0.9 0h0m1.9 0h0m0.3 0h0m1.4 0h0m9.3 0h0m0.4 0h0m2.6 0h0m1.7 0h0m1.3 0h0m2 0h0m1.2 0h0m2.6 0h0m1.8 0h0m1.6 0h0m8.2 0h0m6 0h0m2.3 0h0m8 0h0m0.3 0h0m3.4 0h0m0.6 0h0m2.1 0h0m9.3 0h0m0.1 0h0m14.7 0h0m1.8 0h0m9.8 0h0m3.2 0h0m8.1 0h0m8 0h0m14.4 0h0m1.2 0h0m9.1 0h0m21.2 0h0m10.4 0h0m2.6 0h0m5.5 0h0m3.8 0h0m15.2 0h0m0.6 0h0m2.5 0h0m6.8 0h0m5.1 0h0m0.3 0h0m3.4 0h0m32.7 0h0m5.3 0h0m20.6 0h0m6.1 0h0m15.1 0h0m14.9 0h0m3.6 0h0m14 0h0m9.9 0h0m14 0h0m2.8 0h0m2.1 0h0m5.2 0h0m0 0h0m0.9 0h0m0.5 0h0m3.1 0h0m0.9 0h0m6.9 0h0m1 0h0m6.8 0h0m27.9 0h0m11.5 0h0m2.7 0h0m1.5 0h0m4.1 0h0m1.6 0h0m3.8 0h0m2.1 0h0m16.7 0h0m0.5 0h0m3.7 0h0m3.9 0h0m10.1 0h0m2.2 0h0m12.4 0h0m11.6 0h0m17.5 0h0m0.5 0h0M221.6 1327.2h0m25.4 0h0m88.9 0h0m2.5 0h0m6.9 0h0m31.2 0h0m9.1 0h0m1.7 0h0m5.1 0h0m11.1 0h0m2 0h0m3.8 0h0m48.6 0h0m166.5 0h0m4.2 0h0m27.7 0h0m11.4 0h0m12 0h0m21.3 0h0m3.5 0h0m3.3 0h0m1.9 0h0m4.6 0h0m0.3 0h0m2.1 0h0m4.6 0h0m6.8 0h0m10.1 0h0m1.7 0h0m2.6 0h0m3.3 0h0m1.3 0h0m0.2 0h0m2.5 0h0m1.8 0h0m3.3 0h0m0.9 0h0m5.3 0h0m4.2 0h0m9 0h0m1.5 0h0m23.6 0h0m1.9 0h0m5.7 0h0m12.1 0h0m9.3 0h0M597.3 1313.3h0m103.1 0h0m9.4 0h0m7.2 0h0m2.8 0h0m0.2 0h0m11.1 0h0m1.3 0h0m5.7 0h0m1.5 0h0m2.4 0h0m1 0h0m1.9 0h0m8.1 0h0m4 0h0m2.2 0h0m11.1 0h0m11.7 0h0m0.3 0h0m1 0h0m1.3 0h0m1.5 0h0m2.1 0h0m5.7 0h0m14.5 0h0m0.9 0h0m5.5 0h0m1.7 0h0m0.9 0h0m6.3 0h0m6.9 0h0m9 0h0m5.6 0h0m0.9 0h0m1.6 0h0M331.8 1299.5h0m173.8 0h0m215.4 0h0m35.5 0h0m6.5 0h0m2.6 0h0m14 0h0m1.3 0h0m2.3 0h0m5.3 0h0m3.9 0h0m4.4 0h0m2.2 0h0m9.9 0h0m3.1 0h0m5.5 0h0m2.1 0h0m3.5 0h0m1.1 0h0m1.7 0h0m1.7 0h0m4.7 0h0m4.5 0h0m2.2 0h0m4 0h0m1 0h0m3 0h0M394.3 1285.7h0m347.5 0h0m31.5 0h0m20.3 0h0m11.3 0h0m5.5 0h0m2.4 0h0m4.3 0h0m3.3 0h0m11.6 0h0m2.8 0h0m6.4 0h0m5.3 0h0M823.7 1271.8h0M804.5 1258h0" stroke="#64c832" stroke-opacity="0.23" stroke-width="10" stroke-linecap="round" fill="none"/><path d="M220.3 1396.5h0m75 0h0M201.5 1382.6h0m24.3 0h0m3.9 0h0m42.4 0h0M172.8 1368.8h0m12.3 0h0m17.7 0h0m11.4 0h0m2.5 0h0m18.2 0h0m11.8 0h0m6.2 0h0m30.8 0h0m5.5 0h0m44.5 0h0m183.3 0h0M141.5 1354.9h0m31.8 0h0m1.8 0h0m0.5 0h0m4.1 0h0m3.5 0h0m6.9 0h0m3 0h0m17.3 0h0m18.6 0h0m0.4 0h0m18.5 0h0m1.3 0h0m7.6 0h0m4.7 0h0m13.9 0h0m87.7 0h0m130.9 0h0m7.4 0h0M148.3 1341h0m28.4 0h0m1.5 0h0m1.7 0h0m6.2 0h0m13.3 0h0m1.6 0h0m0.5 0h0m2.2 0h0m11.6 0h0m2.8 0h0m10.5 0h0m6.8 0h0m7.5 0h0m6.1 0h0m7.2 0h0m2.3 0h0m7.6 0h0m16.2 0h0m1.9 0h0m13.8 0h0m9.6 0h0m9.5 0h0m23.2 0h0m43.1 0h0m82.4 0h0m29.7 0h0m2.7 0h0m0.6 0h0m13 0h0m5 0h0m54.7 0h0m17 0h0m91 0h0M132.6 1327.2h0m3.8 0h0m9.9 0h0m8.4 0h0m1.6 0h0m3.7 0h0m10.8 0h0m5.5 0h0m5.3 0h0m4.4 0h0m6.7 0h0m9.7 0h0m7.7 0h0m9.1 0h0m36.3 0h0m4.8 0h0m8 0h0m2.7 0h0m0.5 0h0m6 0h0m5.4 0h0m2.2 0h0m2.3 0h0m14.7 0h0m2.1 0h0m9.7 0h0m3.5 0h0m8.8 0h0m12.8 0h0m12.7 0h0m9.8 0h0m24.7 0h0m93.7 0h0m0.7 0h0m0.6 0h0m6.5 0h0m4.1 0h0m5.1 0h0m7.1 0h0m3.8 0h0m21.7 0h0m29.2 0h0m26.3 0h0m25.6 0h0m13.3 0h0m28.7 0h0m1.1 0h0m8.8 0h0M128.3 1313.3h0m1.6 0h0m12.3 0h0m34.4 0h0m14.7 0h0m41.6 0h0m1.4 0h0m14.3 0h0m14.9 0h0m4.3 0h0m23.3 0h0m4.5 0h0m7.9 0h0m18.9 0h0m13 0h0m0.4 0h0m13.2 0h0m3.6 0h0m6.8 0h0m11.7 0h0m2.6 0h0m12.8 0h0m7.3 0h0m0.5 0h0m4 0h0m6.4 0h0m3.3 0h0m55.3 0h0m5.2 0h0m10 0h0m5.4 0h0m0.4 0h0m1.2 0h0m1.5 0h0m1 0h0m21.8 0h0m0.2 0h0m2.8 0h0m2.6 0h0m2.7 0h0m3.8 0h0m5.8 0h0m4 0h0m17.3 0h0m21.4 0h0m12.5 0h0m5 0h0m15.4 0h0m17.7 0h0m0.6 0h0m6 0h0m7.4 0h0m5.7 0h0m0.4 0h0m15.3 0h0m8.8 0h0m12.3 0h0m1.5 0h0m76.5 0h0M118.6 1299.5h0m72.5 0h0m51.3 0h0m24 0h0m31.3 0h0m4 0h0m1.7 0h0m5 0h0m0.6 0h0m5.6 0h0m0.3 0h0m3.7 0h0m1.4 0h0m2.8 0h0m2.4 0h0m8.7 0h0m8.5 0h0m4.8 0h0m12.7 0h0m6.7 0h0m3.9 0h0m1 0h0m0 0h0m8.6 0h0m1 0h0m8.2 0h0m7.6 0h0m0.4 0h0m2.9 0h0m5.9 0h0m4.8 0h0m14.4 0h0m12.9 0h0m2.9 0h0m17.2 0h0m5.8 0h0m0.1 0h0m6.9 0h0m2.4 0h0m1.7 0h0m6.6 0h0m6 0h0m0.1 0h0m11.5 0h0m11.6 0h0m5.3 0h0m3 0h0m3 0h0m0.6 0h0m5.4 0h0m5 0h0m21.7 0h0m9.1 0h0m9.2 0h0m5.8 0h0m0.5 0h0m2 0h0m3.3 0h0m2 0h0m4.1 0h0m14.2 0h0m7.1 0h0m5.9 0h0m15.2 0h0m4.1 0h0m1.3 0h0m11 0h0m2 0h0m1.2 0h0m5.5 0h0m18.9 0h0m1.1 0h0m1.4 0h0m37.3 0h0m18.4 0h0m13.4 0h0m11.9 0h0m8.3 0h0M124.4 1285.7h0m9.6 0h0m198.1 0h0m9.5 0h0m4.9 0h0m3.9 0h0m8.3 0h0m29.9 0h0m6.8 0h0m13.2 0h0m0.1 0h0m0.2 0h0m4.8 0h0m3.4 0h0m2.8 0h0m10.5 0h0m15 0h0m3.8 0h0m0.5 0h0m4 0h0m1.6 0h0m1.8 0h0m1.9 0h0m4.2 0h0m5 0h0m9.1 0h0m4.2 0h0m0.4 0h0m1.5 0h0m16.5 0h0m6 0h0m20.5 0h0m17.1 0h0m1.9 0h0m13.2 0h0m6.7 0h0m1.8 0h0m3.2 0h0m2.1 0h0m8.8 0h0m1.8 0h0m2.4 0h0m2.7 0h0m12.9 0h0m8.2 0h0m3.9 0h0m4.6 0h0m3.8 0h0m3 0h0m3.7 0h0m2.7 0h0m4.6 0h0m0.7 0h0m2.2 0h0m1.5 0h0m0.8 0h0m10.2 0h0m1.3 0h0m4.6 0h0m2.3 0h0m4.4 0h0m16.4 0h0m22.9 0h0m6.8 0h0m0 0h0m1.1 0h0m14.3 0h0m11.8 0h0m1 0h0m12.5 0h0m3.9 0h0m5.8 0h0m8.8 0h0m8.2 0h0m52.4 0h0M364.1 1271.8h0m5.4 0h0m6.4 0h0m10.3 0h0m8.6 0h0m5.4 0h0m6.6 0h0m2.4 0h0m14.4 0h0m3.9 0h0m0.6 0h0m4.8 0h0m7.3 0h0m2.3 0h0m9.2 0h0m3.2 0h0m4.2 0h0m0.8 0h0m77.6 0h0m5.8 0h0m13.9 0h0m8.2 0h0m9.1 0h0m3.3 0h0m9.7 0h0m12.6 0h0m12.9 0h0m5.1 0h0m19.4 0h0m6.2 0h0m12.2 0h0m0.8 0h0m0.9 0h0m8.7 0h0m5.1 0h0m7.4 0h0m0.8 0h0m20.6 0h0m0.3 0h0m1.2 0h0m0.2 0h0m2.3 0h0m20.6 0h0m9.4 0h0m1.6 0h0m3.8 0h0m1.3 0h0m1.1 0h0m0.5 0h0m3.5 0h0m2 0h0m0.4 0h0m5.3 0h0m17.8 0h0m5.3 0h0m10.2 0h0m0.9 0h0m2.8 0h0m6.9 0h0m5.9 0h0m5.5 0h0m18.4 0h0m5.2 0h0m10.2 0h0m4.2 0h0M410.3 1258h0m17.8 0h0m3.3 0h0m3 0h0m4.1 0h0m1.4 0h0m5.7 0h0m5.5 0h0m2.8 0h0m10.5 0h0m2.9 0h0m91.3 0h0m26.1 0h0m116.3 0h0m3.2 0h0m0.4 0h0m1.3 0h0m3.8 0h0m3.3 0h0m7 0h0m4 0h0m2.5 0h0m3.6 0h0m0.2 0h0m0.5 0h0m0.1 0h0m18.2 0h0m3.1 0h0m2.7 0h0m7.4 0h0m0.1 0h0m0.7 0h0m0.6 0h0m0.7 0h0m0.7 0h0m0.5 0h0m5 0h0m5.8 0h0m2.9 0h0m0.1 0h0m0.5 0h0m0.9 0h0m1 0h0m1.5 0h0m0.3 0h0m3.7 0h0m3.1 0h0m4.9 0h0m0.6 0h0m2 0h0m2.7 0h0m0.6 0h0m0.2 0h0m7 0h0m7.6 0h0m3.9 0h0m1.1 0h0m5.7 0h0m1 0h0m1.7 0h0m1.5 0h0m0.1 0h0m2.1 0h0m0.5 0h0m2 0h0m0.3 0h0m7.8 0h0M437.9 1244.1h0m128 0h0m102.1 0h0m30.4 0h0m20.8 0h0m8.6 0h0m2.2 0h0m12.3 0h0m20.9 0h0m3.8 0h0m7.6 0h0m10.1 0h0m7.1 0h0m3.3 0h0m2.4 0h0m7.2 0h0m13.8 0h0m10.6 0h0m9.9 0h0M698.5 1230.2h0m94.1 0h0m4.1 0h0m12.3 0h0m3.3 0h0m0.6 0h0m1.2 0h0m3.3 0h0m8.1 0h0m4.6 0h0m3.7 0h0m6.4 0h0m2.8 0h0M444.2 1216.4h0m265 0h0m87 0h0m3.5 0h0m24.4 0h0" stroke="#f7891f" stroke-opacity="0.23" stroke-width="10" stroke-linecap="round" fill="none"/><path d="M233.7 1396.5h0M202.6 1382.6h0m9.7 0h0m3.7 0h0m2.6 0h0m3.6 0h0m2.7 0h0m12.3 0h0m28.3 0h0M161.1 1368.8h0m11.1 0h0m5.9 0h0m21.7 0h0m6.3 0h0m6.5 0h0m8.1 0h0m5 0h0m1.1 0h0m17.5 0h0m7 0h0m7.8 0h0m10 0h0M168.6 1354.9h0m2.5 0h0m2.7 0h0m0.8 0h0m3.4 0h0m4 0h0m4.1 0h0m2.4 0h0m1 0h0m2.8 0h0m1.3 0h0m1 0h0m16.3 0h0m6.3 0h0m5.5 0h0m7.1 0h0m3.6 0h0m6.6 0h0m5 0h0m11.6 0h0m0.9 0h0m51.9 0h0m0.4 0h0m12.2 0h0m10.6 0h0m103.8 0h0M144.4 1341h0m19.8 0h0m13.2 0h0m3.9 0h0m15.5 0h0m2.1 0h0m5 0h0m0.4 0h0m2.9 0h0m2.4 0h0m21.5 0h0m0.5 0h0m0.6 0h0m1 0h0m7.9 0h0m4.2 0h0m0.2 0h0m4.8 0h0m2.9 0h0m4.2 0h0m2.3 0h0m0.3 0h0m2.5 0h0m7.4 0h0m2.7 0h0m6.5 0h0m9 0h0m0.7 0h0m5.3 0h0m4.4 0h0m28.6 0h0m2.2 0h0m8.1 0h0m1.8 0h0m2 0h0m12.9 0h0m52.6 0h0m89.8 0h0m16.9 0h0m19.1 0h0M144.3 1327.2h0m1.6 0h0m16.8 0h0m0.1 0h0m2.8 0h0m1.7 0h0m0.7 0h0m3.4 0h0m8.3 0h0m2.9 0h0m0.2 0h0m6.4 0h0m6.5 0h0m2 0h0m1.8 0h0m0.9 0h0m7.2 0h0m1.2 0h0m1.1 0h0m0.5 0h0m2 0h0m19.1 0h0m0.9 0h0m4.2 0h0m18.1 0h0m0.6 0h0m11.6 0h0m17.4 0h0m1 0h0m11 0h0m27 0h0m29.5 0h0m7.5 0h0m3.4 0h0m15.5 0h0m91.6 0h0m3.3 0h0m7.3 0h0m8.4 0h0m5.9 0h0m1.4 0h0m9.8 0h0m6 0h0m1.3 0h0m1.5 0h0m3 0h0m23.8 0h0m58.1 0h0m7.9 0h0m6 0h0m8.1 0h0m6.3 0h0m0.8 0h0m14.1 0h0m3.5 0h0m17.9 0h0m6.1 0h0m3.8 0h0M126.6 1313.3h0m4.3 0h0m7 0h0m18.1 0h0m20.1 0h0m25.8 0h0m22.2 0h0m16.4 0h0m22.1 0h0m3.8 0h0m21.7 0h0m1.7 0h0m4.7 0h0m2.4 0h0m2.7 0h0m1.9 0h0m8.8 0h0m5.9 0h0m1.9 0h0m5.7 0h0m2 0h0m5.5 0h0m3 0h0m3.1 0h0m0.7 0h0m5.4 0h0m0.7 0h0m2.3 0h0m5.9 0h0m0.6 0h0m1.1 0h0m0.2 0h0m0.4 0h0m3.4 0h0m3.7 0h0m3.4 0h0m10 0h0m6.9 0h0m5.7 0h0m3.9 0h0m7.4 0h0m1.4 0h0m3.1 0h0m19.4 0h0m31.1 0h0m21.6 0h0m6.5 0h0m2.2 0h0m6.2 0h0m10.4 0h0m11.4 0h0m9.6 0h0m4.1 0h0m3.2 0h0m2.8 0h0m4 0h0m0.3 0h0m0.6 0h0m11.3 0h0m12.3 0h0m36.8 0h0m0.8 0h0m6.9 0h0m28.3 0h0m4.9 0h0m10.5 0h0m21.5 0h0m8.5 0h0m1.6 0h0M273.9 1299.5h0m33.2 0h0m22.8 0h0m10.5 0h0m6.8 0h0m0.7 0h0m3.1 0h0m6.7 0h0m10.2 0h0m0.9 0h0m0.3 0h0m3.8 0h0m2.1 0h0m1 0h0m2.4 0h0m0.2 0h0m6.2 0h0m0.7 0h0m5 0h0m0.3 0h0m1.5 0h0m0.4 0h0m25.2 0h0m12.8 0h0m26.6 0h0m1.2 0h0m10.5 0h0m1.1 0h0m2 0h0m1.5 0h0m7.4 0h0m1.1 0h0m3.5 0h0m3.6 0h0m5.1 0h0m7.5 0h0m3.8 0h0m14 0h0m3 0h0m0.6 0h0m7.1 0h0m4 0h0m6.6 0h0m10.3 0h0m1.2 0h0m2.4 0h0m2.6 0h0m3.7 0h0m44 0h0m2.8 0h0m8.6 0h0m2.5 0h0m1.3 0h0m1 0h0m6.7 0h0m5.6 0h0m5.8 0h0m6.7 0h0m3 0h0m15.8 0h0m0.8 0h0m2.1 0h0m11.3 0h0m2 0h0m25.7 0h0m7 0h0m30.7 0h0m8 0h0m12.9 0h0M120.3 1285.7h0m133.9 0h0m33.8 0h0m10.2 0h0m4.8 0h0m2.5 0h0m12.4 0h0m3.4 0h0m9 0h0m0.6 0h0m5.7 0h0m19.6 0h0m0.9 0h0m6.7 0h0m8.1 0h0m9.6 0h0m8.4 0h0m2.9 0h0m4.1 0h0m3.8 0h0m4 0h0m2.4 0h0m10.5 0h0m6.1 0h0m3 0h0m1.7 0h0m0.3 0h0m4.9 0h0m5.5 0h0m1.1 0h0m5.7 0h0m2.7 0h0m6.7 0h0m1.6 0h0m1 0h0m9.6 0h0m3.9 0h0m1.8 0h0m18.1 0h0m32.4 0h0m4.3 0h0m2.3 0h0m0.5 0h0m6.5 0h0m6.6 0h0m0.3 0h0m3.1 0h0m3.7 0h0m4.3 0h0m0.8 0h0m11.4 0h0m0.2 0h0m7 0h0m3 0h0m3.9 0h0m4.5 0h0m4 0h0m5.4 0h0m3.1 0h0m11.6 0h0m6.9 0h0m19.3 0h0m1.2 0h0m18.8 0h0m2.2 0h0m3.7 0h0m3.3 0h0m7.3 0h0m4.7 0h0m2.1 0h0m22.3 0h0m49 0h0m29.2 0h0m21 0h0M360.8 1271.8h0m36 0h0m5.9 0h0m2.1 0h0m1 0h0m4.8 0h0m1.8 0h0m4.5 0h0m0.9 0h0m1.6 0h0m21.7 0h0m7 0h0m2.7 0h0m2.2 0h0m18.5 0h0m50.6 0h0m16.3 0h0m3.1 0h0m8.9 0h0m7.6 0h0m5.7 0h0m20 0h0m19.3 0h0m0.6 0h0m0.5 0h0m2.7 0h0m8.3 0h0m0.7 0h0m7.3 0h0m12.2 0h0m24.3 0h0m8.9 0h0m7.1 0h0m36.4 0h0m0.7 0h0m2.8 0h0m9.8 0h0m1.1 0h0m2.6 0h0m0.1 0h0m2.4 0h0m3.1 0h0m1 0h0m0.8 0h0m12.7 0h0m8.3 0h0m7.6 0h0m0.1 0h0m0.6 0h0m12 0h0m9 0h0m13.5 0h0m11.6 0h0m10.2 0h0m1.6 0h0m0.1 0h0m16.5 0h0M327.7 1258h0m25.8 0h0m25.3 0h0m26.6 0h0m24.6 0h0m0.2 0h0m6.4 0h0m5.6 0h0m7.7 0h0m0.5 0h0m2.2 0h0m3.3 0h0m4.3 0h0m94.1 0h0m19.1 0h0m18.6 0h0m18.2 0h0m19 0h0m12.6 0h0m37 0h0m26.9 0h0m11.2 0h0m1 0h0m16.2 0h0m4.6 0h0m4.6 0h0m0.3 0h0m5.3 0h0m11.4 0h0m4.2 0h0m1.7 0h0m0.7 0h0m1.5 0h0m5.6 0h0m4.2 0h0m0.3 0h0m3.5 0h0m1.5 0h0m0.2 0h0m5.8 0h0m13.7 0h0m1.4 0h0m18.6 0h0m1 0h0m0.2 0h0m4.6 0h0m1.2 0h0m8.1 0h0m1.6 0h0m4 0h0m3.7 0h0M414.6 1244.1h0m6.3 0h0m140.7 0h0m36.2 0h0m62.3 0h0m52.4 0h0m14.6 0h0m17.8 0h0m4.7 0h0m11.2 0h0m7.1 0h0m2.8 0h0m14.2 0h0m0.7 0h0m0.8 0h0m19.1 0h0m2.1 0h0m3.2 0h0m0.4 0h0m6.3 0h0m0.5 0h0m6.9 0h0m9.8 0h0m3.5 0h0M725.8 1230.2h0m20.7 0h0m48.6 0h0m9.2 0h0m5.9 0h0m8.7 0h0m6.3 0h0m0.8 0h0m9.9 0h0m6.3 0h0m2.8 0h0m2.3 0h0M808.2 1216.4h0m13.6 0h0m11.5 0h0M820.4 1202.5h0M452.1 1188.7h0m347.9 0h0" stroke="#f7891f" stroke-opacity="0.23" stroke-width="10" stroke-linecap="round" fill="none"/><path d="M322.2 1396.5h0M158.1 1368.8h0m12.9 0h0m6.6 0h0m3.6 0h0m14 0h0m1.8 0h0m5.2 0h0m4.5 0h0m5.5 0h0m8.6 0h0m3.9 0h0m0.8 0h0m8.7 0h0m0.3 0h0m4.5 0h0m37.6 0h0M159.7 1354.9h0m1.8 0h0m4.9 0h0m3.4 0h0m4.3 0h0m8.5 0h0m1 0h0m0.4 0h0m3.9 0h0m19.8 0h0m40 0h0m1.2 0h0m8.1 0h0m4 0h0m3.4 0h0m4.2 0h0m4.7 0h0m2.4 0h0m2.3 0h0m3.3 0h0m13.8 0h0M146.9 1341h0m14 0h0m3.7 0h0m7.2 0h0m8.8 0h0m5.9 0h0m1.8 0h0m16.6 0h0m17.7 0h0m3.8 0h0m1.4 0h0m0.3 0h0m0.8 0h0m6.2 0h0m11.3 0h0m23.8 0h0m1.9 0h0m7.4 0h0m4.8 0h0m2.9 0h0m0.1 0h0m26.9 0h0m1.2 0h0m13.3 0h0m2.5 0h0m9.8 0h0m21.3 0h0m163.7 0h0m151.1 0h0M117 1327.2h0m22.9 0h0m2.9 0h0m15.7 0h0m7.6 0h0m0.7 0h0m0.6 0h0m11.4 0h0m0.6 0h0m5.3 0h0m18.5 0h0m8.4 0h0m7.4 0h0m1 0h0m1.8 0h0m1.8 0h0m11 0h0m3.5 0h0m0.4 0h0m6.4 0h0m1.1 0h0m5.5 0h0m0.3 0h0m3 0h0m7.4 0h0m2.3 0h0m9 0h0m2 0h0m4.7 0h0m1.2 0h0m0.4 0h0m3 0h0m2.1 0h0m4 0h0m0.3 0h0m2.3 0h0m0.2 0h0m6.4 0h0m0.4 0h0m11.3 0h0m3.3 0h0m8.4 0h0m2 0h0m17.3 0h0m11.7 0h0m11.8 0h0m6.9 0h0m4.7 0h0m18.8 0h0m10.8 0h0m50.2 0h0m5.3 0h0m11.4 0h0m0.6 0h0m12.8 0h0m16.6 0h0m0.4 0h0m4.3 0h0m3.6 0h0m8.4 0h0m14.4 0h0m2.2 0h0m60.8 0h0m11.3 0h0m38.4 0h0m20.9 0h0m2.6 0h0m4.7 0h0m4.3 0h0M122.1 1313.3h0m31.7 0h0m15.5 0h0m22.4 0h0m25.7 0h0m20.1 0h0m6.4 0h0m42 0h0m6.5 0h0m2.1 0h0m0.7 0h0m6 0h0m3.4 0h0m3.4 0h0m3.5 0h0m0.3 0h0m0.2 0h0m1.1 0h0m8.9 0h0m2.6 0h0m3.4 0h0m8.2 0h0m8.4 0h0m5 0h0m5.8 0h0m1.2 0h0m9.7 0h0m6.1 0h0m0.5 0h0m1.9 0h0m10.5 0h0m2.2 0h0m3.9 0h0m0.2 0h0m6.3 0h0m6.6 0h0m39 0h0m21.1 0h0m4.3 0h0m7.2 0h0m6.9 0h0m3.4 0h0m6.3 0h0m2.3 0h0m2.7 0h0m1.9 0h0m3.9 0h0m1.8 0h0m8.7 0h0m3 0h0m0.1 0h0m4.3 0h0m16.6 0h0m1 0h0m11.1 0h0m3.2 0h0m2.7 0h0m8.9 0h0m8.3 0h0m3.2 0h0m0.4 0h0m13.1 0h0m5.5 0h0m6.9 0h0m29.6 0h0m13.2 0h0m1 0h0m5.8 0h0m5.9 0h0m5.3 0h0m6.1 0h0m1.3 0h0m0.4 0h0m4.7 0h0m0.4 0h0m3.1 0h0m66.3 0h0m10.3 0h0m14.3 0h0M121.6 1299.5h0m12.9 0h0m52.4 0h0m14.9 0h0m38.3 0h0m1.9 0h0m54.4 0h0m16.7 0h0m2.7 0h0m0.9 0h0m3.8 0h0m11.3 0h0m5.2 0h0m8.8 0h0m2.5 0h0m6.9 0h0m7.3 0h0m4.8 0h0m3.3 0h0m12.2 0h0m9.3 0h0m1 0h0m1.6 0h0m3.8 0h0m3.4 0h0m7.7 0h0m5.8 0h0m4.2 0h0m2.1 0h0m17.1 0h0m7.5 0h0m11.4 0h0m8.7 0h0m22.5 0h0m2.1 0h0m9.4 0h0m5.5 0h0m2.4 0h0m2.7 0h0m6.3 0h0m3.7 0h0m3.9 0h0m1 0h0m14.5 0h0m6 0h0m2.9 0h0m4.3 0h0m14.6 0h0m8.9 0h0m2.6 0h0m7.7 0h0m1.2 0h0m0.6 0h0m2.1 0h0m2 0h0m1.3 0h0m4.5 0h0m27.5 0h0m4.8 0h0m10 0h0m4 0h0m3.3 0h0m2.7 0h0m3.6 0h0m0.1 0h0m1.2 0h0m1.5 0h0m0.5 0h0m0.1 0h0m1 0h0m1.7 0h0m2.6 0h0m0.6 0h0m0.5 0h0m2 0h0m9.7 0h0m3 0h0m18.3 0h0m24.2 0h0M127.3 1285.7h0m4.8 0h0m27 0h0m151.8 0h0m2.7 0h0m5.4 0h0m23.1 0h0m34.8 0h0m0.2 0h0m7.3 0h0m1.4 0h0m13.7 0h0m2.2 0h0m9.3 0h0m0.6 0h0m0 0h0m4.4 0h0m2.4 0h0m4.1 0h0m0.9 0h0m0.6 0h0m11 0h0m9.5 0h0m2.9 0h0m9 0h0m0.1 0h0m2.5 0h0m1.6 0h0m0 0h0m1.5 0h0m1.4 0h0m0.6 0h0m2.6 0h0m0.7 0h0m0.4 0h0m1.5 0h0m9.4 0h0m6 0h0m2.7 0h0m16.3 0h0m30.1 0h0m1.8 0h0m2.5 0h0m1.9 0h0m2.6 0h0m9.9 0h0m10.1 0h0m3.7 0h0m1.8 0h0m0.6 0h0m5 0h0m1.9 0h0m8.5 0h0m3.9 0h0m11.1 0h0m8.1 0h0m4.3 0h0m4.3 0h0m2.2 0h0m5.6 0h0m2 0h0m17.1 0h0m3.6 0h0m20.1 0h0m8.8 0h0m3.3 0h0m20.3 0h0m7.4 0h0m8 0h0m6.2 0h0m0.6 0h0m0.4 0h0m1.5 0h0m9.1 0h0m0.4 0h0m8.9 0h0m5.6 0h0m10.1 0h0m8 0h0m10.5 0h0m25 0h0M367 1271.8h0m16.9 0h0m4.1 0h0m1.6 0h0m1.4 0h0m7.5 0h0m20.1 0h0m3.4 0h0m11.4 0h0m32.5 0h0m27.5 0h0m33.9 0h0m19.9 0h0m6.8 0h0m5.6 0h0m26.5 0h0m0.1 0h0m8.6 0h0m22.1 0h0m0.7 0h0m7.5 0h0m72.9 0h0m8.1 0h0m0.1 0h0m1.5 0h0m0.3 0h0m0.9 0h0m2.2 0h0m3.5 0h0m0.3 0h0m4.3 0h0m1 0h0m0.6 0h0m1.9 0h0m4.2 0h0m1.6 0h0m4.1 0h0m1.2 0h0m1.1 0h0m5.2 0h0m6.7 0h0m9.8 0h0m0.1 0h0m1.6 0h0m1.6 0h0m2.8 0h0m5.4 0h0m3.9 0h0m8.2 0h0m6.8 0h0m9.6 0h0m2.7 0h0m23.3 0h0m20.7 0h0M403.9 1258h0m3.4 0h0m13.9 0h0m15.7 0h0m4.8 0h0m103.2 0h0m2.8 0h0m3.8 0h0m44.5 0h0m9.6 0h0m3.3 0h0m25.2 0h0m10.4 0h0m16.2 0h0m42.9 0h0m6.5 0h0m5.6 0h0m2.6 0h0m12.9 0h0m0.2 0h0m1.6 0h0m0.2 0h0m0.7 0h0m0.6 0h0m10.3 0h0m5.1 0h0m1.6 0h0m2.2 0h0m2.4 0h0m1.7 0h0m1.1 0h0m2.2 0h0m1.4 0h0m1.8 0h0m3.2 0h0m2 0h0m1 0h0m1.5 0h0m0.3 0h0m1.9 0h0m0.5 0h0m1.2 0h0m0.7 0h0m3.2 0h0m5.3 0h0m5.8 0h0m1.7 0h0m6.2 0h0m2.3 0h0m3.7 0h0m1.3 0h0m0.6 0h0m7.7 0h0m6.6 0h0m1 0h0m4.3 0h0m3.3 0h0m2.1 0h0m1 0h0m2.3 0h0m9.1 0h0m1.6 0h0m1.7 0h0M380.6 1244.1h0m67.7 0h0m8.1 0h0m46.6 0h0m47.8 0h0m23.3 0h0m37.8 0h0m16.3 0h0m71 0h0m0.5 0h0m0.3 0h0m14.1 0h0m10.7 0h0m3.3 0h0m14.5 0h0m16.2 0h0m0.7 0h0m13.5 0h0m0.5 0h0m3.7 0h0m5.6 0h0m5 0h0m3 0h0m2.8 0h0m2 0h0m3.2 0h0m3.3 0h0m0.5 0h0m14.4 0h0m2.5 0h0m16.9 0h0m0.5 0h0m4.4 0h0m2.3 0h0m1.3 0h0m0.5 0h0M593.9 1230.2h0m111.6 0h0m3.1 0h0m5.7 0h0m53.6 0h0m3.8 0h0m22.5 0h0m3.3 0h0m16.2 0h0m14.5 0h0m2.2 0h0m0.8 0h0m3.2 0h0m4.8 0h0m2.7 0h0M784.2 1216.4h0m4.1 0h0m0.7 0h0m20.8 0h0m3.6 0h0m10.3 0h0m7.6 0h0M823.1 1202.5h0" stroke="#f7891f" stroke-opacity="0.23" stroke-width="10" stroke-linecap="round" fill="none"/><path d="M239 1382.6h0m403.2 0h0M184.2 1368.8h0m3.3 0h0m6.7 0h0m5.5 0h0m6 0h0m2.6 0h0m21.4 0h0m18 0h0m12.3 0h0m7.5 0h0m3.1 0h0m4.2 0h0M139.1 1354.9h0m1 0h0m21.6 0h0m15.2 0h0m8.8 0h0m5.1 0h0m7.8 0h0m14.6 0h0m2.7 0h0m5.4 0h0m14.5 0h0m4.1 0h0m3.4 0h0m22.3 0h0m10.7 0h0m2.8 0h0m1.6 0h0m5.9 0h0m3.1 0h0m182.8 0h0m5 0h0m35.9 0h0M149.9 1341h0m1.6 0h0m6.1 0h0m5.6 0h0m7 0h0m19.7 0h0m2.3 0h0m0.3 0h0m3 0h0m13.4 0h0m5.1 0h0m0.5 0h0m5.2 0h0m1.8 0h0m2.3 0h0m3.5 0h0m8.8 0h0m7.6 0h0m4 0h0m2.2 0h0m1 0h0m3 0h0m4.2 0h0m2.6 0h0m2.5 0h0m1 0h0m7.7 0h0m1.3 0h0m4.7 0h0m3 0h0m2.5 0h0m2.2 0h0m1.1 0h0m3.8 0h0m0.8 0h0m1.7 0h0m9.7 0h0m16.9 0h0m18.6 0h0m1.8 0h0m153.2 0h0m26.4 0h0m23.7 0h0M122.5 1327.2h0m3.3 0h0m39.8 0h0m2.2 0h0m1.2 0h0m3.8 0h0m7.7 0h0m7.1 0h0m10.7 0h0m2.1 0h0m1.2 0h0m3.1 0h0m0.6 0h0m6.6 0h0m3.3 0h0m8.2 0h0m11.4 0h0m2.1 0h0m10.7 0h0m4.7 0h0m6.8 0h0m3.1 0h0m3 0h0m3.6 0h0m6.1 0h0m0.7 0h0m1.6 0h0m1.3 0h0m2.5 0h0m0.4 0h0m0.4 0h0m1.1 0h0m13.4 0h0m2.6 0h0m5.7 0h0m1.9 0h0m0.5 0h0m5 0h0m8.6 0h0m14.4 0h0m1.2 0h0m2.6 0h0m4.7 0h0m0.9 0h0m18.5 0h0m5.5 0h0m6.1 0h0m21.5 0h0m5.4 0h0m60.3 0h0m34.7 0h0m4.2 0h0m2.2 0h0m3.8 0h0m2.9 0h0m3.6 0h0m11.7 0h0m68.3 0h0m34.8 0h0m2.4 0h0m1.2 0h0m1.7 0h0m6.9 0h0m3.4 0h0m6.4 0h0m2.3 0h0m15.7 0h0M117.4 1313.3h0m6.8 0h0m11.4 0h0m17.2 0h0m32.7 0h0m0.4 0h0m10.3 0h0m3.3 0h0m2.8 0h0m4 0h0m19.9 0h0m4 0h0m0.1 0h0m11.3 0h0m3.7 0h0m6.7 0h0m22.2 0h0m3 0h0m2.9 0h0m5.5 0h0m6 0h0m0.3 0h0m1 0h0m6.2 0h0m4.5 0h0m0.4 0h0m0.3 0h0m8.4 0h0m6.5 0h0m1.4 0h0m0.4 0h0m5.6 0h0m2 0h0m1.1 0h0m3.5 0h0m2.1 0h0m8 0h0m2 0h0m0.2 0h0m1.1 0h0m3.6 0h0m5.8 0h0m1.5 0h0m1.1 0h0m0.2 0h0m3.8 0h0m1.9 0h0m0.4 0h0m1.1 0h0m12.4 0h0m26.6 0h0m8.1 0h0m42 0h0m4.5 0h0m2.8 0h0m2.7 0h0m11.8 0h0m1.2 0h0m1.4 0h0m3.2 0h0m3.5 0h0m10.8 0h0m8.3 0h0m5.3 0h0m9.1 0h0m7.4 0h0m2.4 0h0m10.1 0h0m0.5 0h0m3.8 0h0m5.4 0h0m0.4 0h0m15.9 0h0m3.9 0h0m9.3 0h0m1 0h0m3 0h0m17.8 0h0m7 0h0m3.3 0h0m8.9 0h0m1.1 0h0m1.4 0h0m8.1 0h0m3.9 0h0m11 0h0m2 0h0m6.1 0h0m1.7 0h0m0.1 0h0m5.6 0h0m1.4 0h0m0.9 0h0m0.5 0h0m1.8 0h0m2 0h0m2.4 0h0M125.4 1299.5h0m13.8 0h0m27.9 0h0m46.2 0h0m33.5 0h0m12.4 0h0m38.3 0h0m7.3 0h0m0.3 0h0m34.5 0h0m2.8 0h0m6.9 0h0m2.2 0h0m8 0h0m10.8 0h0m6.2 0h0m3.2 0h0m3 0h0m0.6 0h0m12.9 0h0m6 0h0m20.9 0h0m17.5 0h0m6.2 0h0m13.4 0h0m1.7 0h0m4.8 0h0m2.5 0h0m1 0h0m2.7 0h0m6.7 0h0m8.9 0h0m1.1 0h0m25.1 0h0m3.5 0h0m10.7 0h0m3.8 0h0m2.1 0h0m1.6 0h0m6.5 0h0m3.1 0h0m6.6 0h0m7.4 0h0m3 0h0m1.5 0h0m2.4 0h0m25.7 0h0m1.3 0h0m0.4 0h0m3.7 0h0m6.3 0h0m9 0h0m0.5 0h0m12.2 0h0m10 0h0m2 0h0m5.9 0h0m3.5 0h0m2.9 0h0m3.7 0h0m0.3 0h0m0.6 0h0m0.7 0h0m6.6 0h0m6.1 0h0m3.8 0h0m1.4 0h0m0.9 0h0m0.9 0h0m29.2 0h0m13.2 0h0m25 0h0m4.4 0h0M311.5 1285.7h0m12.9 0h0m16.3 0h0m17.8 0h0m2.9 0h0m3.3 0h0m5.3 0h0m7.5 0h0m9.6 0h0m0.2 0h0m1.7 0h0m9.4 0h0m1.1 0h0m3.6 0h0m1.3 0h0m0.6 0h0m4.3 0h0m4.7 0h0m1 0h0m9.5 0h0m1.3 0h0m5.2 0h0m1.2 0h0m13.2 0h0m5 0h0m5.8 0h0m1.9 0h0m7.2 0h0m9.5 0h0m1.8 0h0m16.2 0h0m27.6 0h0m5.1 0h0m3 0h0m13.6 0h0m5.1 0h0m1.3 0h0m3.6 0h0m10 0h0m3.7 0h0m5.4 0h0m3.5 0h0m1.3 0h0m4.6 0h0m0.4 0h0m3.6 0h0m8.1 0h0m0.1 0h0m0.4 0h0m3.7 0h0m3.9 0h0m0.9 0h0m0.3 0h0m5.7 0h0m3.8 0h0m9 0h0m6.1 0h0m0 0h0m1 0h0m3.1 0h0m1.3 0h0m0.5 0h0m10.8 0h0m15.2 0h0m0.5 0h0m9.4 0h0m5.8 0h0m6 0h0m21.7 0h0m21.7 0h0m6.1 0h0m8.9 0h0m1.2 0h0m8.8 0h0m15.4 0h0m27.6 0h0M300.9 1271.8h0m94.4 0h0m3.6 0h0m6.4 0h0m5.5 0h0m2.1 0h0m7.6 0h0m2.7 0h0m1.8 0h0m7 0h0m2.6 0h0m1.1 0h0m0.4 0h0m8.8 0h0m9.9 0h0m6.4 0h0m19.5 0h0m26.8 0h0m48.3 0h0m13.8 0h0m4.6 0h0m8.1 0h0m6.6 0h0m1 0h0m0.4 0h0m24.7 0h0m2.1 0h0m11.4 0h0m1.7 0h0m10.8 0h0m1.8 0h0m10.6 0h0m19.1 0h0m6.6 0h0m21.5 0h0m2.3 0h0m0.5 0h0m1.1 0h0m0.6 0h0m2 0h0m2 0h0m4 0h0m0.3 0h0m6.2 0h0m6.1 0h0m6.8 0h0m4.6 0h0m1.1 0h0m5.5 0h0m1.8 0h0m5.2 0h0m2.1 0h0m2 0h0m0.5 0h0m10.7 0h0m15 0h0m38 0h0m9.6 0h0m10.4 0h0m1.6 0h0m0.8 0h0M412.1 1258h0m17.1 0h0m7.1 0h0m0.9 0h0m16.1 0h0m113.2 0h0m2 0h0m3.4 0h0m21 0h0m85.7 0h0m23.6 0h0m7.6 0h0m1.9 0h0m3.7 0h0m1 0h0m7.2 0h0m16.1 0h0m1.2 0h0m0.6 0h0m1.5 0h0m3.3 0h0m15.8 0h0m6.7 0h0m4.1 0h0m0.9 0h0m1.4 0h0m4.3 0h0m9.3 0h0m0.4 0h0m2.7 0h0m0.6 0h0m0.5 0h0m1.8 0h0m2.3 0h0m6.2 0h0m0.5 0h0m6.9 0h0m0.1 0h0m4.1 0h0m6.7 0h0m2.2 0h0m4.6 0h0m6.9 0h0m10.9 0h0m0.4 0h0M426.6 1244.1h0m10.8 0h0m6.5 0h0m112.6 0h0m49.8 0h0m99.3 0h0m11 0h0m5.3 0h0m5.2 0h0m7.3 0h0m7.2 0h0m17.4 0h0m2 0h0m0.9 0h0m27.6 0h0m3 0h0m1.8 0h0m19.8 0h0m1.8 0h0m1.5 0h0m4.9 0h0m0.7 0h0m8.5 0h0m5.9 0h0m0.6 0h0m1.7 0h0m6.1 0h0m1.6 0h0M443.1 1230.2h0m3.2 0h0m291.6 0h0m31.2 0h0m9.1 0h0m7.8 0h0m12.4 0h0m7.8 0h0m1.4 0h0m7.8 0h0m1.6 0h0m10.1 0h0m2.7 0h0M429.6 1216.4h0m60.6 0h0m300.1 0h0m19.3 0h0m2.3 0h0m0.4 0h0m4.1 0h0" stroke="#f7891f" stroke-opacity="0.23" stroke-width="10" stroke-linecap="round" fill="none"/><path d="M150.7 1438h0m18.5 0h0m1.8 0h0m11 0h0m149.4 0h0M122.1 1424.2h0m3 0h0m28.2 0h0m3.5 0h0m1.3 0h0m13.6 0h0m11.9 0h0m14.8 0h0m8.9 0h0m8 0h0m22.8 0h0m17.8 0h0m13 0h0m5.3 0h0m3.3 0h0m1.7 0h0m0.6 0h0m1.7 0h0m24 0h0m0.6 0h0m11.8 0h0m50.5 0h0m41.3 0h0M117 1410.3h0m9.1 0h0m23.1 0h0m9.6 0h0m9.5 0h0m2.1 0h0m5 0h0m4.4 0h0m0.7 0h0m2.5 0h0m12.1 0h0m0.5 0h0m4.4 0h0m12.2 0h0m8.5 0h0m2.4 0h0m6.8 0h0m6.9 0h0m5.8 0h0m8.7 0h0m3.7 0h0m4 0h0m1.4 0h0m0.7 0h0m0.5 0h0m8.4 0h0m1.1 0h0m2.2 0h0m0.3 0h0m11.7 0h0m0.6 0h0m1.4 0h0m5.3 0h0m5.7 0h0m0.9 0h0m2.5 0h0m1.3 0h0m7.7 0h0m3.8 0h0m1.8 0h0m4.4 0h0m1.5 0h0m4.1 0h0m1.2 0h0m0.3 0h0m27.1 0h0m10.2 0h0m0.8 0h0m11.1 0h0m5 0h0m1.1 0h0m16.5 0h0m1.2 0h0m5.3 0h0m5.4 0h0m0.2 0h0m2.6 0h0m15.2 0h0m8.4 0h0m3.3 0h0m1.9 0h0m2 0h0m1.6 0h0m18.7 0h0M131.6 1396.5h0m35 0h0m0.4 0h0m5.7 0h0m0.7 0h0m8.3 0h0m7.3 0h0m9.9 0h0m2.9 0h0m0.3 0h0m2.4 0h0m5.5 0h0m38.9 0h0m5.2 0h0m4.8 0h0m0.5 0h0m4.2 0h0m12.1 0h0m8.1 0h0m5.5 0h0m4.5 0h0m5.8 0h0m2.1 0h0m0.5 0h0m0.4 0h0m6.7 0h0m4.2 0h0m3.3 0h0m5.1 0h0m3 0h0m7.9 0h0m8.1 0h0m0.3 0h0m1.5 0h0m2.2 0h0m1 0h0m0.2 0h0m2.3 0h0m6.4 0h0m2.4 0h0m4.8 0h0m7.4 0h0m4.1 0h0m7.3 0h0m2.6 0h0m2.7 0h0m1.1 0h0m2.2 0h0m2.4 0h0m2.3 0h0m2.4 0h0m1.8 0h0m5.1 0h0m11.4 0h0m15.2 0h0m3 0h0m11.1 0h0m0.4 0h0m16.9 0h0m0.9 0h0m1.3 0h0m0.3 0h0m92.7 0h0M119 1382.6h0m41.4 0h0m15.4 0h0m2 0h0m16.2 0h0m3 0h0m2.1 0h0m4.8 0h0m1.6 0h0m5.9 0h0m6.5 0h0m0.9 0h0m3.4 0h0m6.6 0h0m20.5 0h0m0.6 0h0m57.8 0h0m6.5 0h0m4.5 0h0m5.5 0h0m1.7 0h0m4.6 0h0m0.3 0h0m0.4 0h0m12.1 0h0m0.5 0h0m0.6 0h0m5.4 0h0m4.4 0h0m3.1 0h0m0.2 0h0m0.8 0h0m3.9 0h0m2.9 0h0m1.5 0h0m5.3 0h0m2.6 0h0m10.2 0h0m10.3 0h0m7.4 0h0m1.7 0h0m0.9 0h0m2.7 0h0m3.3 0h0m0.3 0h0m2.4 0h0m9.4 0h0m0.6 0h0m0.2 0h0m1 0h0m0.3 0h0m0.5 0h0m0.4 0h0m4.5 0h0m8.8 0h0m2.8 0h0m0.8 0h0m0.2 0h0m10.1 0h0m2.6 0h0m2.1 0h0m1.7 0h0m7.1 0h0m1.8 0h0m78.5 0h0m26.3 0h0M192.5 1368.8h0m20.3 0h0m1.6 0h0m22 0h0m9.1 0h0m23.6 0h0m28.1 0h0m32.3 0h0m4.6 0h0m4 0h0m8.8 0h0m11.2 0h0m0.1 0h0m1.6 0h0m1.1 0h0m24.3 0h0m4.3 0h0m3 0h0m7.9 0h0m1.7 0h0m15.7 0h0m35.4 0h0m3.4 0h0m30.3 0h0m1.3 0h0m3.8 0h0m21.6 0h0m1.3 0h0m1.4 0h0m9.2 0h0m1.4 0h0m0.7 0h0m12.2 0h0m9.8 0h0m2.2 0h0m0.3 0h0m6.9 0h0m0.4 0h0m7.6 0h0m2.4 0h0m8.2 0h0m13.3 0h0m6.5 0h0m3.1 0h0m2.8 0h0M339.8 1354.9h0m15.7 0h0m8.6 0h0m7.8 0h0m5.8 0h0m8.3 0h0m2.3 0h0m26 0h0m59.7 0h0m11.8 0h0m9.2 0h0m7.7 0h0m1.1 0h0m2 0h0m3.2 0h0m1 0h0m9.5 0h0m8.3 0h0m0.5 0h0m2.7 0h0m1.7 0h0m3.6 0h0m2.4 0h0m1.1 0h0m1.1 0h0m2.1 0h0m8.3 0h0m5.6 0h0m0.2 0h0m1.4 0h0m1.9 0h0m14.1 0h0m0.5 0h0m1.7 0h0m1.2 0h0m1.7 0h0m2.6 0h0m2.4 0h0m7.1 0h0m0.7 0h0m8.3 0h0m1.5 0h0M190 1341h0m51.5 0h0m36.9 0h0m210.4 0h0m1 0h0m0.8 0h0m3.4 0h0m6.5 0h0m6.1 0h0m0.9 0h0m5.7 0h0m0.8 0h0m2.9 0h0m5.4 0h0m11.8 0h0m5.3 0h0m2.6 0h0m1.9 0h0m2.9 0h0m16 0h0m8 0h0m2.1 0h0m2 0h0m11.4 0h0m6 0h0m2.2 0h0m7.5 0h0m13.4 0h0M290.9 1327.2h0m279.5 0h0m6 0h0m3.3 0h0m26.8 0h0m0.4 0h0m2.6 0h0m0.6 0h0m10.4 0h0M496.8 1313.3h0m105.5 0h0m7.4 0h0m2.3 0h0m10.4 0h0m8.1 0h0m1.3 0h0m3.1 0h0m30.9 0h0M559.4 1299.5h0m44.8 0h0m15.4 0h0m5.1 0h0m1.8 0h0m0.3 0h0m1.3 0h0m9.6 0h0m6.2 0h0m6.2 0h0m14.2 0h0m17.3 0h0M533.9 1285.7h0m96.4 0h0m11.7 0h0m3 0h0m3.8 0h0m18.1 0h0m1.8 0h0m5.6 0h0m4.4 0h0M640.4 1271.8h0m1.1 0h0m6.6 0h0m1.5 0h0m6.3 0h0m10.8 0h0m1.5 0h0m3 0h0m3.9 0h0m1.1 0h0m4.7 0h0M652 1258h0m2.8 0h0m2.1 0h0m0.3 0h0m0.6 0h0m3.3 0h0m11.8 0h0m2.6 0h0m2.9 0h0M645.8 1244.1h0m15.9 0h0m17.2 0h0m1.1 0h0M681 1230.2h0M653 1216.4h0m45.7 0h0m18 0h0M681.2 1202.5h0M702.6 1188.7h0m1.1 0h0m5.3 0h0m3.2 0h0m0.8 0h0m10.1 0h0M708.5 1174.8h0m1.7 0h0m2.5 0h0m2.1 0h0m0.6 0h0m4.5 0h0m0.5 0h0m5.8 0h0m3.5 0h0m0.4 0h0m1.2 0h0m1.4 0h0m2.6 0h0m5.5 0h0m3 0h0M706.4 1161h0m15 0h0m0.4 0h0m2.1 0h0m4.7 0h0m19.7 0h0M739.5 1147.2h0m2.8 0h0m1.8 0h0m1.7 0h0m15.3 0h0M737.5 1133.3h0m10.7 0h0m5.1 0h0M756.9 1119.5h0m1.4 0h0M752.1 1105.6h0m1.6 0h0m0.1 0h0m2.6 0h0m5.6 0h0m2.4 0h0m4.3 0h0m6.1 0h0m1.1 0h0M760.1 1091.8h0m1.4 0h0m2.1 0h0m3.1 0h0m7 0h0m2.8 0h0m2 0h0m2.2 0h0m0.3 0h0m0.8 0h0m1.6 0h0m2.4 0h0m1.5 0h0m3 0h0M791.7 1077.9h0m1.8 0h0M783.1 1064h0m13.1 0h0M795.9 1050.2h0m9.4 0h0m4.4 0h0M792.7 1036.3h0m3.1 0h0m1 0h0m3.6 0h0m6.2 0h0m2.2 0h0m2.5 0h0m4 0h0m1.3 0h0m2.7 0h0m0.5 0h0m0.2 0h0m3.1 0h0m12.4 0h0m4.2 0h0m0.8 0h0M798.6 1022.5h0m8.4 0h0m4.8 0h0m0.6 0h0m0.4 0h0m0.5 0h0m5 0h0m2 0h0m0.9 0h0m0.1 0h0m0.3 0h0m8.2 0h0m7.8 0h0m4 0h0m1.4 0h0m2.3 0h0m0.9 0h0M817.4 1008.7h0m3.3 0h0m1.4 0h0m1.8 0h0m8.7 0h0m3.8 0h0m0.8 0h0m3.6 0h0m6.9 0h0M824.7 994.8h0m4.1 0h0m5.2 0h0m1.7 0h0m5.3 0h0m3.7 0h0m3.2 0h0M837 981h0M828.8 939.4h0" stroke="#3bb9d3" stroke-opacity="0.23" stroke-width="10" stroke-linecap="round" fill="none"/><path d="M167.7 1438h0m0 0h0m2.2 0h0m6.8 0h0m6 0h0m5.2 0h0m8.7 0h0m2.8 0h0m83.4 0h0m57.4 0h0m89.3 0h0M117.5 1424.2h0m20.9 0h0m6.9 0h0m7.3 0h0m13.4 0h0m10.5 0h0m2.7 0h0m3 0h0m2 0h0m0.7 0h0m2.5 0h0m6.5 0h0m5.7 0h0m23 0h0m32.9 0h0m0.5 0h0m1.9 0h0m3.8 0h0m9 0h0m4.1 0h0m12.3 0h0m1.2 0h0m6.7 0h0m0.8 0h0m0.6 0h0m14 0h0m4.5 0h0m8.2 0h0m52.2 0h0m15.6 0h0m0.6 0h0m16.7 0h0m4 0h0M120.7 1410.3h0m15.7 0h0m6.1 0h0m4.7 0h0m10.6 0h0m9.6 0h0m4.8 0h0m1 0h0m6.7 0h0m7 0h0m1.5 0h0m4.7 0h0m0.6 0h0m0.3 0h0m2.1 0h0m5.4 0h0m10.3 0h0m8.5 0h0m5.1 0h0m5 0h0m2.9 0h0m6.9 0h0m1.5 0h0m3.1 0h0m3.6 0h0m6.1 0h0m2.7 0h0m10.3 0h0m2.2 0h0m0.3 0h0m11.2 0h0m2.3 0h0m1.8 0h0m8.3 0h0m9.1 0h0m12.8 0h0m4.3 0h0m8.2 0h0m19.9 0h0m18.8 0h0m20.8 0h0m18.9 0h0m8.9 0h0m2.1 0h0m4.8 0h0m14.2 0h0m6.4 0h0m4.4 0h0m0.3 0h0m10.5 0h0m1.2 0h0m1 0h0M133.1 1396.5h0m15.8 0h0m11.4 0h0m13.6 0h0m2.5 0h0m0.7 0h0m13.1 0h0m4 0h0m3.7 0h0m5.6 0h0m1.6 0h0m1.7 0h0m2.6 0h0m1.5 0h0m2.7 0h0m8 0h0m3.4 0h0m2.4 0h0m1.1 0h0m0.3 0h0m3.2 0h0m0.8 0h0m1.7 0h0m0.3 0h0m3 0h0m5.6 0h0m8.2 0h0m3.4 0h0m1.1 0h0m8.7 0h0m0.9 0h0m4.8 0h0m2.5 0h0m4.4 0h0m5 0h0m0.4 0h0m0.6 0h0m3.8 0h0m1.1 0h0m2.1 0h0m3.4 0h0m1.4 0h0m3 0h0m1 0h0m0.4 0h0m9.7 0h0m0.8 0h0m15 0h0m2.9 0h0m7 0h0m6 0h0m6.4 0h0m5.4 0h0m4.7 0h0m2.3 0h0m0.1 0h0m7.8 0h0m0.8 0h0m1.9 0h0m2.2 0h0m2.4 0h0m4.3 0h0m1.7 0h0m1.7 0h0m1.7 0h0m0.2 0h0m2.8 0h0m11.6 0h0m2 0h0m0.5 0h0m2.7 0h0m1 0h0m4.1 0h0m3.3 0h0m21.4 0h0m1 0h0m0.1 0h0m0.2 0h0m9.3 0h0m5.8 0h0m1.6 0h0m2.2 0h0m1.4 0h0m23.6 0h0m13.8 0h0m43.4 0h0M138.1 1382.6h0m79.3 0h0m2.4 0h0m0.4 0h0m0.7 0h0m0.3 0h0m1.4 0h0m0.2 0h0m4 0h0m2.5 0h0m5.8 0h0m2.9 0h0m3 0h0m2.9 0h0m11.6 0h0m6.7 0h0m0.9 0h0m4.7 0h0m7.7 0h0m19.3 0h0m11.9 0h0m6 0h0m8.1 0h0m3.1 0h0m8.4 0h0m1.8 0h0m1.6 0h0m0.6 0h0m1.1 0h0m1.1 0h0m3.5 0h0m4 0h0m1.6 0h0m2.1 0h0m1 0h0m1.1 0h0m0.2 0h0m0.8 0h0m4.1 0h0m2 0h0m2 0h0m2.4 0h0m7.5 0h0m1.2 0h0m1.3 0h0m4 0h0m16 0h0m2.9 0h0m4.6 0h0m5.4 0h0m6.9 0h0m0.9 0h0m3.3 0h0m3.7 0h0m0.9 0h0m10.6 0h0m5.7 0h0m7 0h0m8.8 0h0m3.9 0h0m1.1 0h0m1.3 0h0m6.3 0h0m6.7 0h0m0.5 0h0m6.1 0h0m2.5 0h0m6.2 0h0m21.8 0h0m47.5 0h0M118.3 1368.8h0m101.3 0h0m20.3 0h0m40.4 0h0m40.2 0h0m4.3 0h0m10 0h0m6.2 0h0m1.6 0h0m8.6 0h0m14.2 0h0m0.5 0h0m3 0h0m7.5 0h0m43.7 0h0m12.4 0h0m4.9 0h0m8.5 0h0m6.6 0h0m6.5 0h0m13.2 0h0m4.2 0h0m1.3 0h0m2.2 0h0m13.5 0h0m6.5 0h0m3.5 0h0m18.9 0h0m2.1 0h0m0.7 0h0m1.7 0h0m8.2 0h0m6.7 0h0m0.6 0h0m0.8 0h0m4.2 0h0m2.9 0h0m2.5 0h0m2.7 0h0m5 0h0m1.9 0h0m0.8 0h0m0.8 0h0m4 0h0m14.2 0h0m4.4 0h0m8.9 0h0M394.6 1354.9h0m85.6 0h0m16.4 0h0m7.5 0h0m2.1 0h0m0.8 0h0m3.4 0h0m0.9 0h0m10.2 0h0m1.1 0h0m7.8 0h0m0.4 0h0m1.3 0h0m1.1 0h0m3.4 0h0m7.9 0h0m2.1 0h0m1.9 0h0m9.8 0h0m1.1 0h0m1.7 0h0m0.2 0h0m2.7 0h0m3.1 0h0m0.1 0h0m9.4 0h0m1.2 0h0m2.3 0h0m0.7 0h0m0.8 0h0m4.1 0h0m5.4 0h0m9.2 0h0M335.9 1341h0m59.3 0h0m80.9 0h0m13.1 0h0m15.6 0h0m13.9 0h0m10.3 0h0m7 0h0m2 0h0m3.3 0h0m2.8 0h0m4.2 0h0m1.7 0h0m4.8 0h0m6.1 0h0m4 0h0m10.9 0h0m3.9 0h0m5.1 0h0m0.7 0h0m1.9 0h0m1.7 0h0m8.6 0h0m5.6 0h0m2 0h0m1.8 0h0m5.5 0h0m4.4 0h0M492.8 1327.2h0m5.2 0h0m2.7 0h0m29.5 0h0m26 0h0m4.9 0h0m2.7 0h0m32.8 0h0m1.5 0h0m7.3 0h0m3.2 0h0m1.6 0h0m0.6 0h0m5.2 0h0m4.4 0h0m2.5 0h0M487.6 1313.3h0m117.4 0h0m0.8 0h0m2.2 0h0m9.3 0h0m5.5 0h0m17 0h0M618.5 1299.5h0m3.6 0h0m2 0h0m3.7 0h0m2.3 0h0m0.5 0h0m4.6 0h0m4.7 0h0m6.5 0h0m12.7 0h0m4.9 0h0M484.1 1285.7h0m103.1 0h0m33.8 0h0m2.6 0h0m10.9 0h0m0.1 0h0m2.8 0h0m2.2 0h0m8.1 0h0m24.9 0h0m2.1 0h0M627.2 1271.8h0m15.4 0h0m2.9 0h0m14.5 0h0m7.5 0h0m2.6 0h0m10.6 0h0M650.3 1258h0m10.8 0h0m1.9 0h0m3.3 0h0m0 0h0m2 0h0m7.8 0h0m1.3 0h0M648.3 1244.1h0m4.3 0h0m7.8 0h0m18.6 0h0m0.7 0h0M678.9 1216.4h0m20.4 0h0m2.5 0h0m1.1 0h0m4 0h0M711.5 1202.5h0M700.7 1188.7h0m0.7 0h0m4.7 0h0m11.6 0h0m5.1 0h0m5 0h0M704.9 1174.8h0m0.8 0h0m2.3 0h0m1.5 0h0m6.8 0h0m0.1 0h0m1.8 0h0m0.3 0h0m4.2 0h0m9 0h0m1.6 0h0m1.2 0h0m1.3 0h0m5.5 0h0m4.5 0h0M713.6 1161h0m15.2 0h0m0.1 0h0m1.3 0h0m3.2 0h0m1.3 0h0m0.4 0h0m1.1 0h0m1 0h0m1.6 0h0m1 0h0m1.8 0h0m0.4 0h0M738 1147.2h0m9.7 0h0M744.6 1133.3h0m2.6 0h0m0.3 0h0m3.7 0h0m3.2 0h0m13.6 0h0M747.7 1119.5h0m13.3 0h0m10.2 0h0m1.9 0h0M751.7 1105.6h0m8.7 0h0m6.7 0h0m3 0h0m14.1 0h0M757.9 1091.8h0m8.1 0h0m18.2 0h0m2.2 0h0m17 0h0M770.8 1077.9h0m14 0h0m1.9 0h0M779.1 1064h0m1.2 0h0m8.2 0h0m2.2 0h0m2.2 0h0m2.2 0h0m10.7 0h0M791.2 1050.2h0m3.7 0h0m15.8 0h0m9.4 0h0m4.2 0h0m6.3 0h0M798.3 1036.3h0m2.9 0h0m3.3 0h0m1.2 0h0m5.9 0h0m4.1 0h0m3.2 0h0m12.8 0h0m1.3 0h0M801.8 1022.5h0m5.5 0h0m0.6 0h0m0.4 0h0m3 0h0m2.4 0h0m4.5 0h0m4.3 0h0m1.3 0h0m2.1 0h0m0.7 0h0m15.4 0h0M803.9 1008.7h0m23.5 0h0m1.8 0h0m1.9 0h0m2.6 0h0m0.7 0h0m0.4 0h0m5.1 0h0m5.5 0h0M823.7 994.8h0m9.2 0h0m13.7 0h0" stroke="#3bb9d3" stroke-opacity="0.23" stroke-width="10" stroke-linecap="round" fill="none"/><path d="M137.8 1438h0m14.6 0h0m28.9 0h0m72.4 0h0m15 0h0m36.6 0h0m2.4 0h0M133.8 1424.2h0m30 0h0m10.7 0h0m9.1 0h0m12.5 0h0m14.9 0h0m20.4 0h0m5.6 0h0m4.8 0h0m9.5 0h0m5 0h0m1.8 0h0m0.3 0h0m6.6 0h0m1.6 0h0m2.8 0h0m14.5 0h0m2.4 0h0m4.2 0h0m1 0h0m6.3 0h0m2.5 0h0m15.7 0h0m85.2 0h0m34.1 0h0m32.5 0h0M127.8 1410.3h0m2.6 0h0m9.7 0h0m15.9 0h0m5.4 0h0m9.5 0h0m0 0h0m2.1 0h0m2.2 0h0m2.3 0h0m1.1 0h0m10.7 0h0m8.9 0h0m3.2 0h0m1.3 0h0m2.9 0h0m0.4 0h0m0.2 0h0m1.5 0h0m1.4 0h0m7.8 0h0m5 0h0m12.2 0h0m8.2 0h0m10.3 0h0m4.9 0h0m1.7 0h0m17.6 0h0m7.7 0h0m4.2 0h0m2.4 0h0m0.8 0h0m0.9 0h0m11.6 0h0m0.6 0h0m0.2 0h0m0.4 0h0m1.9 0h0m8.4 0h0m3.1 0h0m9.5 0h0m6.7 0h0m3.5 0h0m33.8 0h0m5.3 0h0m4.1 0h0m3.4 0h0m18.8 0h0m24.7 0h0m2.1 0h0m2.1 0h0m10.7 0h0m2.3 0h0m1.4 0h0m3.7 0h0m1 0h0m4.6 0h0m3.7 0h0M178.7 1396.5h0m3.6 0h0m0.8 0h0m15.2 0h0m1.9 0h0m1 0h0m4.7 0h0m7.3 0h0m3.1 0h0m2 0h0m5.5 0h0m2.2 0h0m0.3 0h0m7.7 0h0m2 0h0m0.7 0h0m11.2 0h0m2.9 0h0m7.7 0h0m5.5 0h0m2.2 0h0m5.6 0h0m13.3 0h0m8.9 0h0m13.1 0h0m0.3 0h0m5.5 0h0m4.8 0h0m1.7 0h0m0.7 0h0m16.5 0h0m1.8 0h0m6.8 0h0m10.8 0h0m17.9 0h0m5.6 0h0m2.1 0h0m5.1 0h0m1.9 0h0m19.4 0h0m11.4 0h0m2.2 0h0m14.1 0h0m3 0h0m12.7 0h0m0.2 0h0m2.1 0h0m4.9 0h0m5.4 0h0m2.9 0h0m11.5 0h0M165.1 1382.6h0m43.8 0h0m6 0h0m1 0h0m2.2 0h0m1 0h0m10.8 0h0m3.2 0h0m0.3 0h0m0.5 0h0m6.4 0h0m3.7 0h0m8.9 0h0m7.6 0h0m11.6 0h0m0.9 0h0m3 0h0m13.6 0h0m20.3 0h0m9.4 0h0m1.1 0h0m0.6 0h0m1 0h0m0.7 0h0m2.5 0h0m1.7 0h0m6.6 0h0m9.3 0h0m10 0h0m0.7 0h0m4.4 0h0m0.9 0h0m2.9 0h0m2.7 0h0m3.2 0h0m13.5 0h0m1.6 0h0m6.1 0h0m6.4 0h0m9.9 0h0m19 0h0m2.6 0h0m4.9 0h0m0.7 0h0m4.3 0h0m0.6 0h0m2.4 0h0m6.4 0h0m2.5 0h0m0.5 0h0m13.8 0h0m1.1 0h0m0.3 0h0m4.5 0h0m0.3 0h0m0.5 0h0m1 0h0m3.8 0h0m7.7 0h0m0.5 0h0m18.6 0h0m3.6 0h0m6.1 0h0m29.1 0h0m13.5 0h0M223.4 1368.8h0m0.6 0h0m95 0h0m24.8 0h0m1.9 0h0m5 0h0m10.3 0h0m10.1 0h0m22.5 0h0m5 0h0m0.6 0h0m7.5 0h0m34.1 0h0m4.1 0h0m3 0h0m0.8 0h0m14.2 0h0m2.8 0h0m0.2 0h0m2.2 0h0m2 0h0m4.1 0h0m4.6 0h0m4.6 0h0m6.8 0h0m0.8 0h0m4.5 0h0m4.9 0h0m8.2 0h0m7 0h0m3.3 0h0m1.8 0h0m12.5 0h0m7.5 0h0m3.6 0h0m1.8 0h0m2.8 0h0m33.9 0h0m5.6 0h0m10.2 0h0m12 0h0M200.6 1354.9h0m62 0h0m79.4 0h0m14.8 0h0m6.7 0h0m34.3 0h0m3.9 0h0m26.1 0h0m38.1 0h0m16.4 0h0m7.4 0h0m1.4 0h0m1.1 0h0m5.8 0h0m0.5 0h0m9.4 0h0m4.1 0h0m1.1 0h0m1.4 0h0m3.1 0h0m0.3 0h0m2.1 0h0m3.3 0h0m0.1 0h0m0.2 0h0m2.3 0h0m0.5 0h0m12.7 0h0m6.5 0h0m7.4 0h0m2.8 0h0m18 0h0m7.4 0h0m2.5 0h0m9.3 0h0m4.2 0h0m4.4 0h0M244.3 1341h0m251.8 0h0m7 0h0m7.9 0h0m1.5 0h0m2.2 0h0m17.3 0h0m6.4 0h0m7 0h0m2.4 0h0m6.3 0h0m10.4 0h0m3.9 0h0m4.9 0h0m1.1 0h0m1.1 0h0m11.4 0h0m2.7 0h0m0.2 0h0m2.1 0h0m2.3 0h0m17.2 0h0m4.9 0h0M502 1327.2h0m3.5 0h0m3.9 0h0m14.6 0h0m5.6 0h0m2.9 0h0m20.3 0h0m2.6 0h0m10.6 0h0m0.6 0h0m14.2 0h0m7.1 0h0m2.3 0h0m6.1 0h0m9.3 0h0m3.9 0h0M614 1313.3h0m0.8 0h0m10.6 0h0m5.7 0h0m0.4 0h0m4 0h0M620 1299.5h0m1.7 0h0m11.1 0h0m1 0h0m1.5 0h0m5.7 0h0m6 0h0m15.5 0h0m5.2 0h0m2 0h0M599.3 1285.7h0m10 0h0m11 0h0m8.4 0h0m1.1 0h0m1.3 0h0m7.2 0h0m6 0h0m6.9 0h0m3.2 0h0m8.9 0h0m7.7 0h0m0.5 0h0m2.3 0h0m1.1 0h0m5.7 0h0M619 1271.8h0m12.2 0h0m0.4 0h0m1.7 0h0m3.5 0h0m6 0h0m4 0h0m3.8 0h0m1.1 0h0m3.7 0h0m9 0h0m2.6 0h0m0.6 0h0m3.5 0h0m1.2 0h0m4.4 0h0m2.6 0h0m0.9 0h0M663.8 1258h0m0.9 0h0m9.4 0h0m5.2 0h0m1.9 0h0M662.2 1244.1h0m9.8 0h0M668.2 1230.2h0m10.5 0h0m0.1 0h0M698 1216.4h0m2.5 0h0M719.9 1202.5h0m1.1 0h0M704.7 1188.7h0m0.6 0h0m1.5 0h0m3 0h0m0.7 0h0m1.5 0h0m2.1 0h0m0.4 0h0m2.8 0h0m9.3 0h0m3.2 0h0m2.4 0h0m0.3 0h0m7.9 0h0M703.2 1174.8h0m1.8 0h0m1.1 0h0m0.5 0h0m9.3 0h0m3.4 0h0m1.6 0h0m0.9 0h0m0.8 0h0m2.1 0h0m0.5 0h0m4.6 0h0m0.8 0h0m7.6 0h0m4.5 0h0M706.5 1161h0m11.6 0h0m9.9 0h0m9.5 0h0m1.6 0h0m2.9 0h0m2.4 0h0m8.1 0h0M718.9 1147.2h0m6.2 0h0m15.6 0h0m2.8 0h0m2.1 0h0m0.8 0h0m0.4 0h0M729.4 1133.3h0m10.8 0h0m9.3 0h0m1.1 0h0m5.3 0h0M749.8 1119.5h0m3.1 0h0m1.6 0h0m0.5 0h0m4 0h0m0.8 0h0m3 0h0m7.5 0h0M751.8 1105.6h0m1.7 0h0m11.7 0h0m8.8 0h0m6.2 0h0M757.8 1091.8h0m0.2 0h0m0.9 0h0m8.5 0h0m0.7 0h0m4 0h0m0.7 0h0m2.5 0h0m0.7 0h0m1.6 0h0m4 0h0m2.1 0h0m5.4 0h0m3.1 0h0M779.7 1077.9h0m3.2 0h0m1 0h0m1.5 0h0m2.4 0h0m2 0h0m1 0h0M776.9 1064h0m5 0h0m9.4 0h0m2.6 0h0m1.2 0h0M771.6 1050.2h0m25 0h0m1.4 0h0m5.4 0h0m10.6 0h0m14.5 0h0m10.8 0h0M796.3 1036.3h0m0.7 0h0m2.2 0h0m1.1 0h0m8.2 0h0m0.7 0h0m1.3 0h0m5.8 0h0m2.6 0h0m2.7 0h0m3.8 0h0m2.7 0h0M805 1022.5h0m4.9 0h0m13.3 0h0m0.5 0h0m1 0h0m11.8 0h0m5 0h0M800.8 1008.7h0m1.8 0h0m15.8 0h0m13.6 0h0m6.6 0h0m3.7 0h0m1.7 0h0m1.4 0h0m1.7 0h0M827 994.8h0m6.2 0h0m2.8 0h0m2.1 0h0m0.6 0h0m4.7 0h0m1.9 0h0M830.4 981h0m2 0h0" stroke="#3bb9d3" stroke-opacity="0.23" stroke-width="10" stroke-linecap="round" fill="none"/><path d="M135.6 1438h0m26.6 0h0m10.8 0h0m8.1 0h0m8.6 0h0m4.9 0h0m0.4 0h0m140.6 0h0m132.4 0h0M123.1 1424.2h0m5.7 0h0m23.2 0h0m13.5 0h0m1.9 0h0m15.8 0h0m8.8 0h0m5.3 0h0m1.6 0h0m4 0h0m25.7 0h0m49.1 0h0m54.7 0h0m70.5 0h0m6.9 0h0m12.6 0h0m11.6 0h0m16.6 0h0m25.2 0h0M141 1410.3h0m14.7 0h0m11.6 0h0m1.6 0h0m16 0h0m0.4 0h0m0.6 0h0m4.9 0h0m2.3 0h0m3 0h0m1.2 0h0m10.7 0h0m0.1 0h0m9.9 0h0m3.2 0h0m7.9 0h0m9.9 0h0m7.5 0h0m3.4 0h0m2.8 0h0m0.3 0h0m3.3 0h0m6.6 0h0m3.9 0h0m2.8 0h0m10.1 0h0m5.1 0h0m0.7 0h0m6.7 0h0m3 0h0m5.3 0h0m2.9 0h0m4.5 0h0m3.1 0h0m17.7 0h0m7.9 0h0m14.3 0h0m2.4 0h0m25.8 0h0m17.1 0h0m4.2 0h0m6.6 0h0m1.5 0h0m5.1 0h0m2.3 0h0m3 0h0m8 0h0m0.3 0h0m1.2 0h0m26.3 0h0m5 0h0M124.8 1396.5h0m0.5 0h0m7.6 0h0m11.3 0h0m2.4 0h0m23.2 0h0m12.8 0h0m2.9 0h0m0.9 0h0m4.9 0h0m6.2 0h0m5.3 0h0m2.9 0h0m1.7 0h0m1.1 0h0m1.1 0h0m2.9 0h0m2.9 0h0m8.9 0h0m3.5 0h0m3 0h0m0.3 0h0m4.5 0h0m11.8 0h0m4.7 0h0m12.2 0h0m3.7 0h0m10.6 0h0m15.5 0h0m7.1 0h0m2.7 0h0m2.8 0h0m4.7 0h0m0.6 0h0m1.4 0h0m1.7 0h0m6.7 0h0m3.9 0h0m1.5 0h0m10.3 0h0m4.3 0h0m6.4 0h0m7.8 0h0m14.2 0h0m0.9 0h0m3.1 0h0m0.6 0h0m1.4 0h0m3.9 0h0m2.2 0h0m2.8 0h0m5 0h0m7.1 0h0m1.1 0h0m0.7 0h0m0.9 0h0m2.9 0h0m0.3 0h0m4.6 0h0m0.7 0h0m2.6 0h0m5.5 0h0m2.2 0h0m4.9 0h0m2.3 0h0m4.6 0h0m1.3 0h0m5.6 0h0m2.6 0h0m0.6 0h0m7.9 0h0m1.5 0h0m0.2 0h0m4.4 0h0m10.9 0h0m4.1 0h0m1.5 0h0m0.7 0h0M192 1382.6h0m1 0h0m6.1 0h0m10.9 0h0m4.3 0h0m6.3 0h0m11.8 0h0m5.4 0h0m0.9 0h0m7.3 0h0m0.2 0h0m0.8 0h0m5 0h0m7.9 0h0m6 0h0m11.3 0h0m1.1 0h0m2.4 0h0m16.8 0h0m10.8 0h0m8.9 0h0m12.5 0h0m3.7 0h0m5.8 0h0m2.7 0h0m0.3 0h0m6.9 0h0m9.9 0h0m3.5 0h0m1.5 0h0m4.8 0h0m0.3 0h0m5.5 0h0m1.2 0h0m1.2 0h0m6.9 0h0m4.2 0h0m5.2 0h0m3 0h0m11.5 0h0m1.9 0h0m1.2 0h0m2.4 0h0m1.6 0h0m1 0h0m1.4 0h0m0.9 0h0m3.2 0h0m0.2 0h0m5.2 0h0m7.9 0h0m7.5 0h0m19.1 0h0m0.9 0h0m0.6 0h0m2.3 0h0m2.2 0h0m5.5 0h0m1.7 0h0m2.9 0h0m47.2 0h0m2.1 0h0m10.5 0h0m5 0h0m3.7 0h0m0.7 0h0m1.6 0h0M131.1 1368.8h0m82.8 0h0m56.9 0h0m55.7 0h0m28.1 0h0m0.6 0h0m6.4 0h0m16.9 0h0m10 0h0m22 0h0m17.9 0h0m10.8 0h0m7.1 0h0m24.6 0h0m4.4 0h0m1.4 0h0m1.5 0h0m2.8 0h0m0.5 0h0m3.8 0h0m12.7 0h0m0.7 0h0m2.3 0h0m13.2 0h0m1.1 0h0m1.2 0h0m0.6 0h0m18.3 0h0m8.1 0h0m0.8 0h0m5 0h0m1.8 0h0m1 0h0m1.4 0h0m5.4 0h0m0.9 0h0m5.9 0h0m6 0h0m11.7 0h0m1.7 0h0m17.6 0h0m5 0h0M360.2 1354.9h0m0.7 0h0m29.7 0h0m15.3 0h0m33.6 0h0m38.7 0h0m2.3 0h0m0.2 0h0m2.4 0h0m1.2 0h0m6.3 0h0m3.9 0h0m4.9 0h0m15.2 0h0m6 0h0m0.9 0h0m5.6 0h0m2.2 0h0m0.1 0h0m2.1 0h0m3.3 0h0m2.8 0h0m5.5 0h0m0.9 0h0m4.1 0h0m10 0h0m4.7 0h0m5.9 0h0m0.9 0h0m1.9 0h0m1.2 0h0m6.1 0h0m5 0h0m0.6 0h0m9.3 0h0m7.8 0h0m40.3 0h0M483 1341h0m2 0h0m1.9 0h0m2.7 0h0m5.9 0h0m1.9 0h0m11.2 0h0m9.6 0h0m5.5 0h0m0.9 0h0m6.2 0h0m8 0h0m15.7 0h0m1.3 0h0m0.4 0h0m2.5 0h0m7 0h0m4.3 0h0m2.1 0h0m7.3 0h0m24 0h0m0.4 0h0M486.2 1327.2h0m1.3 0h0m1.9 0h0m4.7 0h0m4.3 0h0m52.3 0h0m9.7 0h0m1.6 0h0m3.4 0h0m23.3 0h0m7 0h0m3.2 0h0m1 0h0m3.9 0h0m0.8 0h0m0.6 0h0m1 0h0m4.8 0h0m2.5 0h0m0.3 0h0m0.9 0h0m2.8 0h0M527.3 1313.3h0m51.8 0h0m7.6 0h0m8.3 0h0m8.4 0h0m6.3 0h0m3.3 0h0m2.8 0h0m9.6 0h0m13.3 0h0M494.2 1299.5h0m97.5 0h0m15.3 0h0m7.5 0h0m6.8 0h0m1.4 0h0m1.5 0h0m0.7 0h0m7.5 0h0m1.6 0h0m2.1 0h0m14.2 0h0m20.3 0h0m2.1 0h0M617.9 1285.7h0m11.5 0h0m4.7 0h0m2.1 0h0m7 0h0m5.5 0h0m0.5 0h0m3.9 0h0m4.3 0h0m1.9 0h0m8.2 0h0M623.3 1271.8h0m2.7 0h0m3.2 0h0m8.4 0h0m1.5 0h0m0.1 0h0m2.6 0h0m2.7 0h0m3 0h0m9 0h0m3 0h0m1.1 0h0m4.7 0h0m3.9 0h0m6.7 0h0m0.8 0h0m1.3 0h0m0.5 0h0M633.9 1258h0m18.2 0h0m3.3 0h0m3 0h0m0.4 0h0m1.5 0h0m13.3 0h0m4 0h0m2 0h0M649.3 1244.1h0m2.3 0h0m1.3 0h0m0.9 0h0m3.3 0h0m22.6 0h0M680.6 1216.4h0M678.8 1202.5h0m19.4 0h0m0.2 0h0m2.6 0h0m1 0h0m2.2 0h0m2.5 0h0m0.5 0h0m16.2 0h0M698.7 1188.7h0m1.2 0h0m0.8 0h0m7.1 0h0m4.8 0h0m1.4 0h0m1.8 0h0m6.6 0h0m2.3 0h0m8.5 0h0m0.2 0h0m0.6 0h0m4.8 0h0M710.6 1174.8h0m0.5 0h0m2 0h0m8.5 0h0m2.8 0h0m1.6 0h0m0.9 0h0m4.5 0h0m1 0h0m12.4 0h0M704 1161h0m11.2 0h0m12 0h0m0.9 0h0m8.5 0h0M717.4 1147.2h0m23.4 0h0m4.4 0h0m4 0h0M733.9 1133.3h0m12.8 0h0m2 0h0m2.9 0h0m10.9 0h0M750.3 1119.5h0m7 0h0m1.9 0h0m1.5 0h0m2.4 0h0m0.4 0h0m4.7 0h0m1.1 0h0m0.3 0h0M755.5 1105.6h0m1.4 0h0m7.1 0h0m9.2 0h0m3.8 0h0m0.9 0h0m7.2 0h0m1.1 0h0m0.4 0h0M764.7 1091.8h0m1.9 0h0m2.3 0h0m1.6 0h0m2.1 0h0m3.8 0h0m1.4 0h0m0.4 0h0m0.7 0h0m6.9 0h0m2.5 0h0M765.7 1077.9h0m13.5 0h0m3.2 0h0m6.4 0h0m3.1 0h0m2.6 0h0M764.4 1064h0m10.1 0h0m17.4 0h0m1.6 0h0M789.5 1050.2h0m3.3 0h0m13.4 0h0m10.7 0h0m1.1 0h0M797.5 1036.3h0m4.7 0h0m7.2 0h0m5.4 0h0M807.6 1022.5h0m5.2 0h0m1.6 0h0m2.8 0h0m15.4 0h0m1 0h0m1 0h0m4.9 0h0m7.7 0h0M799.6 1008.7h0m26.4 0h0m0.3 0h0m14.4 0h0m2.5 0h0M802.9 994.8h0m39.5 0h0M803.8 981h0m40.5 0h0" stroke="#3bb9d3" stroke-opacity="0.23" stroke-width="10" stroke-linecap="round" fill="none"/><path d="M815.9 1244.1h0M825.8 1230.2h0m4.7 0h0M806.4 1216.4h0m8.1 0h0m15.3 0h0m1 0h0m0.4 0h0m2.9 0h0m2.6 0h0m9 0h0M613.4 1202.5h0m195.2 0h0m0.5 0h0m2.6 0h0m4.6 0h0m0.9 0h0m3.7 0h0m5.8 0h0m13.7 0h0m2.3 0h0m0.8 0h0m3.1 0h0m1.1 0h0M639.7 1188.7h0m153 0h0m2.4 0h0m2.6 0h0m0.5 0h0m1.6 0h0m2 0h0m1.9 0h0m1.3 0h0m3.1 0h0m1.4 0h0m0.1 0h0m1.8 0h0m1.9 0h0m3.5 0h0m2.5 0h0m0.9 0h0m0.9 0h0m11.5 0h0m9.2 0h0m0.2 0h0M679.9 1174.8h0m116.2 0h0m0.7 0h0m1.2 0h0m12.6 0h0m3.9 0h0m3.1 0h0m3.9 0h0M558.7 1161h0m110.1 0h0m98.2 0h0m1 0h0m9.8 0h0m12.4 0h0m4.1 0h0m4.5 0h0m0.8 0h0m0.5 0h0m44.6 0h0M472.6 1147.2h0m187.1 0h0m15.4 0h0m23.6 0h0m1.1 0h0m53.5 0h0m7.6 0h0m9.6 0h0m8.5 0h0m12.3 0h0m0.1 0h0m2.9 0h0m1 0h0M472.4 1133.3h0m127.1 0h0m28.7 0h0m6.4 0h0m22.7 0h0m2.2 0h0m5.6 0h0m13.9 0h0m0.7 0h0m21 0h0m12.8 0h0m20.5 0h0m29.1 0h0m4.4 0h0m2.6 0h0m0.9 0h0m0.9 0h0m4.4 0h0m3.2 0h0m1.1 0h0m3.4 0h0m4.4 0h0M468.4 1119.5h0m2.8 0h0m5.4 0h0m1.1 0h0m134.1 0h0m9.9 0h0m6.9 0h0m8.4 0h0m5 0h0m4.6 0h0m3.4 0h0m0.5 0h0m1.3 0h0m1.1 0h0m5.3 0h0m3.5 0h0m2.6 0h0m8.5 0h0m6.1 0h0m1.4 0h0m0.9 0h0m16.8 0h0m16.2 0h0m0.9 0h0m26.4 0h0m0.7 0h0m4.2 0h0m9.1 0h0m0.1 0h0m3.6 0h0m2.3 0h0m0.8 0h0m12.9 0h0m0.5 0h0m3.5 0h0m1.6 0h0m0.7 0h0m0.9 0h0m0.9 0h0M466.1 1105.6h0m5.4 0h0m10.6 0h0m12.1 0h0m19.3 0h0m71.3 0h0m8.1 0h0m14.7 0h0m0.5 0h0m10 0h0m1.4 0h0m11.1 0h0m4.1 0h0m0.5 0h0m0.4 0h0m2.7 0h0m5.6 0h0m6.6 0h0m1.5 0h0m3 0h0m9.3 0h0m5.1 0h0m3.1 0h0m3.9 0h0m0.6 0h0m23.5 0h0m3.2 0h0m7.4 0h0m1.8 0h0m0.9 0h0m7 0h0m27.1 0h0m0.6 0h0m1.4 0h0m1.3 0h0m0.3 0h0m1.5 0h0m1.3 0h0m1.4 0h0m3.5 0h0m0.9 0h0m2.8 0h0m6.9 0h0m3.2 0h0m1.4 0h0m0.7 0h0m0.1 0h0m5.1 0h0m4.7 0h0m2.4 0h0m0.5 0h0M463.7 1091.8h0m1 0h0m0.9 0h0m0.9 0h0m1.7 0h0m7 0h0m3.3 0h0m0.8 0h0m4.1 0h0m2.2 0h0m0.7 0h0m3.3 0h0m10.5 0h0m4.9 0h0m1.6 0h0m1.6 0h0m3.3 0h0m2.4 0h0m43.4 0h0m12 0h0m2.2 0h0m5.1 0h0m1.6 0h0m1.3 0h0m6.2 0h0m8.2 0h0m7.7 0h0m3 0h0m3.2 0h0m0.3 0h0m1 0h0m8.8 0h0m3.8 0h0m0.5 0h0m12.2 0h0m2.1 0h0m3.8 0h0m6.8 0h0m4.1 0h0m12.7 0h0m39.7 0h0m0.7 0h0m5.5 0h0m0.4 0h0m0.6 0h0m7.7 0h0m5.8 0h0m0.5 0h0m1.1 0h0m0.5 0h0m17.3 0h0m0.5 0h0m4.7 0h0m1.2 0h0m4.5 0h0m0.5 0h0m16.7 0h0m8.4 0h0m2 0h0m7.4 0h0M470.1 1077.9h0m6.8 0h0m0.3 0h0m1.8 0h0m8.3 0h0m12.8 0h0m0.8 0h0m3.4 0h0m1.4 0h0m2.8 0h0m2.3 0h0m1.5 0h0m1 0h0m2.1 0h0m0.6 0h0m14 0h0m34 0h0m2.2 0h0m8.1 0h0m4.4 0h0m3.8 0h0m6.7 0h0m2.2 0h0m1.3 0h0m7.4 0h0m5.8 0h0m2.5 0h0m1 0h0m4.7 0h0m0.5 0h0m1.4 0h0m3.2 0h0m5.6 0h0m2.8 0h0m0.3 0h0m6.6 0h0m2.1 0h0m11.6 0h0m5.8 0h0m2.2 0h0m3.7 0h0m42.7 0h0m8.7 0h0m0.3 0h0m5.9 0h0m3.2 0h0m0.3 0h0m0.6 0h0m3.5 0h0m2.1 0h0m2.6 0h0m1.2 0h0m5 0h0m0.4 0h0m1.8 0h0m1.5 0h0m3.3 0h0m1.9 0h0m23.6 0h0M408 1064h0m25 0h0m27.3 0h0m1.1 0h0m1.1 0h0m1.8 0h0m1.2 0h0m17 0h0m4.1 0h0m5.4 0h0m17.8 0h0m9.4 0h0m0.4 0h0m0.2 0h0m0.7 0h0m6.4 0h0m4.6 0h0m4.1 0h0m7 0h0m2 0h0m2.5 0h0m5.1 0h0m6.1 0h0m0.6 0h0m1.3 0h0m1.5 0h0m10.9 0h0m4.9 0h0m6.7 0h0m0.7 0h0m3.6 0h0m3.8 0h0m8.7 0h0m12.1 0h0m1.9 0h0m2.4 0h0m7.3 0h0m106.8 0h0m5.4 0h0m1 0h0m1.3 0h0m1.3 0h0m0.5 0h0M460.8 1050.2h0m2.9 0h0m14.8 0h0m14.5 0h0m0.6 0h0m1.1 0h0m2.6 0h0m13.4 0h0m6.2 0h0m0.4 0h0m0.3 0h0m11.6 0h0m13.7 0h0m1.4 0h0m3.1 0h0m0.3 0h0m7.6 0h0m2 0h0m10 0h0m1.6 0h0m1.7 0h0m12.8 0h0m5 0h0m2.5 0h0m1 0h0m18.6 0h0m125.9 0h0M404.7 1036.3h0m55 0h0m2.1 0h0m9.8 0h0m45.2 0h0m4.4 0h0m2.7 0h0m0.8 0h0m10.9 0h0m6.8 0h0m1.6 0h0m6.6 0h0m3.8 0h0m1.6 0h0m4.3 0h0m19.7 0h0m16.1 0h0m1.3 0h0m25.4 0h0m105.3 0h0m4.5 0h0M369.8 1022.5h0m13.6 0h0m4.8 0h0m0.4 0h0m24.3 0h0m18.9 0h0m24 0h0m4.3 0h0m4 0h0m21 0h0m33 0h0m2.1 0h0m12.7 0h0m12.6 0h0m14.1 0h0m30.7 0h0M413.2 1008.7h0m4.3 0h0m8.7 0h0m4.9 0h0m4 0h0m2.2 0h0m4.4 0h0m3.8 0h0m13.1 0h0m0.7 0h0m1.9 0h0m74.6 0h0m3.7 0h0M366.4 994.8h0m10.2 0h0m0.5 0h0m0.5 0h0m1.2 0h0m1.2 0h0m4.2 0h0m0.5 0h0m14.7 0h0m16.2 0h0m3.9 0h0m3.1 0h0m4 0h0m5.7 0h0m4.3 0h0m0.5 0h0m2.7 0h0m2.8 0h0m9 0h0m0.4 0h0m0.2 0h0m0.4 0h0m1.5 0h0m0.4 0h0m4.2 0h0m148.2 0h0M371.8 981h0m3.2 0h0m0.3 0h0m3.6 0h0m1.4 0h0m8.1 0h0m20.2 0h0m5.9 0h0m7.3 0h0m6.1 0h0m10.1 0h0m5.4 0h0m1.5 0h0m1.5 0h0m5.3 0h0m1.8 0h0m4.7 0h0M362.4 967.1h0m3.4 0h0m17 0h0m4.1 0h0m5 0h0m7.7 0h0m1.6 0h0m1.2 0h0m15.4 0h0m0.7 0h0m1.3 0h0m15.3 0h0m5 0h0m3.6 0h0m1.7 0h0m10.6 0h0M326.4 953.2h0m33.6 0h0m23.7 0h0m6.5 0h0m1.8 0h0m4.4 0h0m0.4 0h0m6.3 0h0m5.5 0h0m0.6 0h0m4.3 0h0m2.7 0h0m5.7 0h0m20.3 0h0M230.6 939.4h0m84.2 0h0m41.1 0h0m8.1 0h0m23.1 0h0m0.5 0h0m4.1 0h0m6.9 0h0m16.7 0h0m0.6 0h0m10.1 0h0M218.3 925.6h0m0.2 0h0m1.9 0h0m8.3 0h0m12 0h0m4.2 0h0m76.2 0h0m23.3 0h0m3.7 0h0m99.4 0h0M227.4 911.7h0m0.2 0h0m13.2 0h0m8.6 0h0m17.2 0h0m46.9 0h0m22.3 0h0m8.7 0h0m2.5 0h0m0.7 0h0m5.6 0h0m0.5 0h0m0.3 0h0M206.5 897.9h0m9.3 0h0m3.5 0h0m2.2 0h0m2.3 0h0m10.4 0h0m1.1 0h0m4.4 0h0m6.2 0h0m20.6 0h0m2.9 0h0m15.8 0h0m19.8 0h0m6.7 0h0m9.9 0h0m4 0h0m6.1 0h0m2.4 0h0m12.6 0h0m5.8 0h0m9.5 0h0M178.3 884h0m13.7 0h0m0.7 0h0m7 0h0m6.4 0h0m6.4 0h0m9.7 0h0m18 0h0m5.9 0h0m4 0h0m0.2 0h0m4 0h0m1.8 0h0m2 0h0m7.5 0h0m43.3 0h0m0.1 0h0m8.7 0h0m1.4 0h0m2.7 0h0m0.4 0h0m4 0h0m1.6 0h0m2.2 0h0m0.8 0h0m7.2 0h0m1.2 0h0m6.2 0h0m0.5 0h0m0.4 0h0m15.3 0h0M172 870.1h0m11.6 0h0m7.5 0h0m14.7 0h0m5 0h0m1.4 0h0m2.7 0h0m0.7 0h0m1.8 0h0m1.1 0h0m13.4 0h0m6.1 0h0m9.6 0h0m3.2 0h0m0.8 0h0m6.6 0h0m0.5 0h0m0.3 0h0m8.4 0h0m5.1 0h0m6.3 0h0m26.2 0h0m6.1 0h0m7.2 0h0m3.9 0h0m1.8 0h0m3.8 0h0m1.8 0h0m5.2 0h0m9.7 0h0M183.7 856.3h0m0.5 0h0m1.3 0h0m2 0h0m4.7 0h0m2.2 0h0m5.9 0h0m1.2 0h0m3 0h0m51.3 0h0m1.3 0h0m1.4 0h0m3.7 0h0m5.7 0h0m6.4 0h0m0.1 0h0m1.1 0h0m16 0h0m3.8 0h0m0.4 0h0m3.9 0h0m2.2 0h0m7.3 0h0m7.2 0h0m2.8 0h0m12.1 0h0m4.2 0h0m14.6 0h0M166.1 842.5h0m2 0h0m8.1 0h0m3.6 0h0m0.3 0h0m3.9 0h0m4.6 0h0m72.6 0h0m19.8 0h0m0.1 0h0m3.7 0h0m1.2 0h0m2.1 0h0m5.3 0h0m3.7 0h0m22.5 0h0M167.8 828.6h0m86.6 0h0m3.4 0h0m7.1 0h0m3.5 0h0m7.4 0h0m6.2 0h0m4.3 0h0m5.1 0h0m0.2 0h0m36.6 0h0M120.2 814.8h0m46 0h0m1.8 0h0m13 0h0m79.1 0h0m14 0h0m0.8 0h0m2 0h0m5.9 0h0m5.9 0h0m12.6 0h0M120.1 800.9h0m0.6 0h0m10.5 0h0m38.7 0h0m78.2 0h0m48.1 0h0M122.4 773.2h0m13.1 0h0m1 0h0m24.9 0h0M126.2 759.4h0m4.2 0h0m28.3 0h0M130.6 745.5h0m2.3 0h0m10.3 0h0m10.2 0h0m4 0h0M138.5 731.6h0m4.7 0h0m3.4 0h0M145.4 704h0M149.7 676.2h0" stroke="#3a4fb4" stroke-opacity="0.23" stroke-width="10" stroke-linecap="round" fill="none"/><path d="M809.4 1230.2h0m18.2 0h0m9.5 0h0m5.2 0h0M810.6 1216.4h0m2.5 0h0m2 0h0m6 0h0m4 0h0m3.9 0h0m6.9 0h0m1.6 0h0m3.1 0h0M791.8 1202.5h0m6.7 0h0m6.5 0h0m5.6 0h0m6.6 0h0m1.6 0h0m1.6 0h0m2.3 0h0m9.3 0h0m3.4 0h0m3.4 0h0m0.6 0h0m1.7 0h0M681 1188.7h0m115.5 0h0m4.4 0h0m2.5 0h0m0.5 0h0m6.2 0h0m1.8 0h0m4.6 0h0m3.7 0h0m2.1 0h0m1.8 0h0m2.7 0h0m0.8 0h0m1.9 0h0m6.8 0h0m6.1 0h0m0.4 0h0m3.3 0h0M676.8 1174.8h0m116.4 0h0m0.7 0h0m1.9 0h0m6.7 0h0m3.5 0h0m6.7 0h0m4.9 0h0m6.7 0h0m3.3 0h0M470.5 1161h0m309.7 0h0m0.8 0h0m10.9 0h0m2.8 0h0m2.3 0h0m27.5 0h0m19.4 0h0M615.2 1147.2h0m1.4 0h0m64.4 0h0m24.6 0h0m60.2 0h0m17.1 0h0m7 0h0m1.8 0h0m11.3 0h0M470.8 1133.3h0m168.8 0h0m3.9 0h0m7 0h0m1.8 0h0m6.6 0h0m9.1 0h0m6.3 0h0m24.9 0h0m2.4 0h0m1.3 0h0m4 0h0m57.7 0h0m2.1 0h0m9.8 0h0m0.9 0h0m8.4 0h0m4.3 0h0m2.1 0h0M474.9 1119.5h0m129.9 0h0m18.9 0h0m14.2 0h0m2.5 0h0m3.7 0h0m5.4 0h0m2.3 0h0m1.9 0h0m0.2 0h0m0.3 0h0m6.3 0h0m3.8 0h0m2.5 0h0m3.3 0h0m3 0h0m7.3 0h0m29.4 0h0m7.8 0h0m29.6 0h0m3.5 0h0m4.3 0h0m1.8 0h0m1.4 0h0m1.9 0h0m3.4 0h0m1 0h0m7.9 0h0m0.9 0h0m1.9 0h0m1 0h0m7.7 0h0m1.1 0h0m0.3 0h0m0.4 0h0m0.9 0h0m3.7 0h0M465.5 1105.6h0m4 0h0m0.3 0h0m10.7 0h0m16.3 0h0m2 0h0m9.1 0h0m2.8 0h0m71.2 0h0m14 0h0m8.3 0h0m3.4 0h0m15.6 0h0m0.9 0h0m0.4 0h0m5.6 0h0m0.5 0h0m1.4 0h0m0.4 0h0m1.9 0h0m7 0h0m1 0h0m2 0h0m0.7 0h0m0.9 0h0m0.8 0h0m19.6 0h0m0.2 0h0m1.1 0h0m1.5 0h0m8.6 0h0m1.1 0h0m1.6 0h0m1.1 0h0m20.1 0h0m2 0h0m0.6 0h0m5.3 0h0m3.4 0h0m1.9 0h0m9.5 0h0m13.7 0h0m7.5 0h0m5.6 0h0m1.6 0h0m2.2 0h0m3.2 0h0m3.9 0h0m9.7 0h0m4.1 0h0m2.9 0h0M466 1091.8h0m2.7 0h0m3.2 0h0m15.4 0h0m7.9 0h0m7.5 0h0m0.1 0h0m1.9 0h0m4.4 0h0m7.3 0h0m7.8 0h0m42.3 0h0m10.2 0h0m3.1 0h0m3.1 0h0m16 0h0m3 0h0m3.2 0h0m6.4 0h0m6.8 0h0m3.2 0h0m12 0h0m7.7 0h0m1.4 0h0m0.7 0h0m0.6 0h0m2.1 0h0m1.7 0h0m8.8 0h0m8.1 0h0m3.6 0h0m2.6 0h0m1.2 0h0m30.2 0h0m2.8 0h0m1.1 0h0m2.5 0h0m1.9 0h0m1 0h0m3.3 0h0m0.9 0h0m0.3 0h0m1 0h0m1 0h0m0.2 0h0m0.4 0h0m4.7 0h0m3.7 0h0m6.9 0h0m0 0h0m1.8 0h0m13.3 0h0m2.8 0h0m26.4 0h0m1.5 0h0M463.4 1077.9h0m8.9 0h0m3.8 0h0m9.5 0h0m7.8 0h0m2.5 0h0m6.3 0h0m0.2 0h0m1 0h0m2 0h0m4.1 0h0m0.3 0h0m4.2 0h0m4.6 0h0m6.6 0h0m6.5 0h0m7.9 0h0m5.3 0h0m15.9 0h0m0.4 0h0m2.2 0h0m6 0h0m4 0h0m0.6 0h0m8.8 0h0m6.8 0h0m9.9 0h0m3.4 0h0m0.5 0h0m2.1 0h0m18.2 0h0m5.3 0h0m3.4 0h0m23.4 0h0m1.2 0h0m19.3 0h0m1.9 0h0m23.1 0h0m5.1 0h0m1.1 0h0m3.8 0h0m1.9 0h0m6.3 0h0m1 0h0m1.9 0h0m2.1 0h0m7.3 0h0m4 0h0m7.7 0h0m2.1 0h0m0.9 0h0m0.4 0h0M462.3 1064h0m12.3 0h0m6.7 0h0m16.8 0h0m1.6 0h0m4.2 0h0m3.8 0h0m1.3 0h0m14.2 0h0m0.1 0h0m4.5 0h0m1.4 0h0m11.1 0h0m3.2 0h0m1.7 0h0m6.4 0h0m2.9 0h0m0.4 0h0m4.1 0h0m11.2 0h0m2 0h0m8.5 0h0m2.5 0h0m1.1 0h0m4.4 0h0m1.9 0h0m5.8 0h0m2.2 0h0m0.2 0h0m2.2 0h0m9 0h0m1.7 0h0m2.5 0h0m5.7 0h0m41.8 0h0m57.4 0h0m0.8 0h0m12 0h0m0 0h0m3.3 0h0m4.4 0h0M453.2 1050.2h0m34.9 0h0m3.4 0h0m1.2 0h0m10.1 0h0m0.5 0h0m17.6 0h0m9.8 0h0m5.6 0h0m0.4 0h0m12.7 0h0m7.5 0h0m2.9 0h0m3.9 0h0m1.6 0h0m6.3 0h0m3.7 0h0m3.8 0h0m6.7 0h0m2.1 0h0m5.7 0h0m1.7 0h0m1.5 0h0m77.5 0h0m48.5 0h0m4.5 0h0m5.2 0h0M433.9 1036.3h0m88.6 0h0m5.9 0h0m0.7 0h0m3.5 0h0m7.3 0h0m2.7 0h0m1.1 0h0m1.1 0h0m1.4 0h0m2.4 0h0m4.1 0h0m6.8 0h0m3 0h0m16.5 0h0m8.8 0h0M406.3 1022.5h0m55.1 0h0m2.8 0h0m24.6 0h0m54.7 0h0m44 0h0m29 0h0M375.9 1008.7h0m2.6 0h0m41.1 0h0m10.9 0h0m2.2 0h0m8.2 0h0m5.2 0h0m2.1 0h0m2 0h0m0.4 0h0m6.9 0h0m53.7 0h0m15.4 0h0m12 0h0m2.3 0h0M358 994.8h0m13.5 0h0m0.9 0h0m0.9 0h0m2.1 0h0m1.2 0h0m3 0h0m3.1 0h0m0.7 0h0m4.4 0h0m27.1 0h0m9.1 0h0m0.4 0h0m3 0h0m4.2 0h0m5.5 0h0m0.6 0h0m2 0h0m0.2 0h0m1.4 0h0m4 0h0m3.2 0h0m3.2 0h0m1.2 0h0m3 0h0m1.5 0h0m76.1 0h0m18 0h0M360.9 981h0m1.3 0h0m7.4 0h0m6.2 0h0m0.5 0h0m0.6 0h0m1.1 0h0m7.1 0h0m4.5 0h0m12.7 0h0m0.4 0h0m14.1 0h0m7.1 0h0m1 0h0m3.4 0h0m0.1 0h0m1.9 0h0m3.3 0h0m2.2 0h0m0.5 0h0m0.8 0h0m11 0h0m3 0h0m2.1 0h0m2 0h0M343.8 967.1h0m18.3 0h0m4.5 0h0m7.5 0h0m13.6 0h0m1.2 0h0m3.4 0h0m1.6 0h0m2 0h0m0.5 0h0m2.3 0h0m3.6 0h0m2.2 0h0m4.2 0h0m3.9 0h0m2.6 0h0m0.3 0h0m6.3 0h0m3.6 0h0m2.4 0h0m5.5 0h0m1.5 0h0m0.7 0h0m3.2 0h0m3 0h0m7.7 0h0m76.2 0h0M196.4 953.2h0m152.9 0h0m10.7 0h0m4.8 0h0m3.2 0h0m0.5 0h0m0.1 0h0m1.7 0h0m1.3 0h0m8.3 0h0m5.6 0h0m1.9 0h0m5.4 0h0m5.3 0h0m0.1 0h0m0.9 0h0m6.6 0h0m20.5 0h0M328.4 939.4h0m31.2 0h0m26.5 0h0m8.6 0h0m6.1 0h0m10.1 0h0m4.1 0h0m4.3 0h0m3.8 0h0M200.5 925.6h0m32.3 0h0m1.9 0h0m1.4 0h0m4.4 0h0m3.9 0h0m2.9 0h0m81.3 0h0m1.4 0h0m2.1 0h0m1 0h0m17.2 0h0m0.9 0h0m6.2 0h0m0.9 0h0m0.7 0h0m29.5 0h0m47.5 0h0m3.8 0h0M206 911.7h0m22.2 0h0m4.8 0h0m0.8 0h0m13.2 0h0m81.8 0h0m3.2 0h0m7 0h0m1.7 0h0m3 0h0m2.5 0h0m8.9 0h0M210.4 897.9h0m1.5 0h0m5.3 0h0m0.7 0h0m3 0h0m1.4 0h0m1.7 0h0m0.4 0h0m0.2 0h0m1.1 0h0m5.4 0h0m0.6 0h0m1.4 0h0m10.4 0h0m0.4 0h0m1.4 0h0m3.6 0h0m27.5 0h0m22.1 0h0m19.9 0h0m10.8 0h0m12.5 0h0m6.7 0h0m3.6 0h0m1 0h0M201 884h0m2.7 0h0m12.2 0h0m0.9 0h0m4.8 0h0m1.5 0h0m7.2 0h0m0 0h0m5.1 0h0m4 0h0m9.2 0h0m14.4 0h0m7.1 0h0m7.4 0h0m10 0h0m24.7 0h0m4.2 0h0m1.8 0h0m8.7 0h0m1 0h0m2.5 0h0m2.2 0h0m3.6 0h0m0.5 0h0m0.8 0h0m3.7 0h0M174.1 870.1h0m4.5 0h0m6.8 0h0m16.2 0h0m3.1 0h0m6.7 0h0m1.9 0h0m1 0h0m0.7 0h0m6.9 0h0m6 0h0m1.6 0h0m1.1 0h0m8.8 0h0m1.8 0h0m4.8 0h0m6.5 0h0m5.1 0h0m2.7 0h0m1.5 0h0m1.6 0h0m31.2 0h0m5.9 0h0m4.4 0h0m17.8 0h0m2.1 0h0m13.7 0h0m5 0h0M166.7 856.3h0m1.7 0h0m2.9 0h0m1.1 0h0m1.3 0h0m1.9 0h0m11.6 0h0m3.4 0h0m0.3 0h0m4.3 0h0m19.3 0h0m9.4 0h0m25.7 0h0m1.4 0h0m7 0h0m20.6 0h0m1.7 0h0m1.4 0h0m6.1 0h0m10.3 0h0m1.8 0h0m4.2 0h0m2.9 0h0m0.6 0h0m0.5 0h0m5.1 0h0m1.8 0h0m5.1 0h0m19.8 0h0M170.4 842.5h0m0.6 0h0m3.1 0h0m8.1 0h0m3.7 0h0m9.2 0h0m0.5 0h0m1.6 0h0m31 0h0m24 0h0m1.1 0h0m6.5 0h0m9.1 0h0m3 0h0m6.2 0h0m1.2 0h0m0.7 0h0m4.2 0h0m1.3 0h0m1.1 0h0m3.4 0h0m0.6 0h0m1.3 0h0m3.1 0h0m3.5 0h0m0.1 0h0m2.4 0h0m2.5 0h0m3.9 0h0m1.6 0h0m5 0h0M167.2 828.6h0m3.3 0h0m2.4 0h0m3.8 0h0m3.6 0h0m4.7 0h0m2.9 0h0m1 0h0m2 0h0m12.4 0h0m6.5 0h0m52.9 0h0m1.7 0h0m12.1 0h0m5.9 0h0m10.5 0h0m4.7 0h0m2.6 0h0m20.8 0h0M175.1 814.8h0m95.4 0h0m3 0h0m5.4 0h0m9.6 0h0m5.1 0h0M118.8 800.9h0m90.5 0h0m65.9 0h0m15 0h0m15.4 0h0M117.6 787.1h0m23.4 0h0m26 0h0m22.3 0h0m97.7 0h0m2.8 0h0M121.2 773.2h0m1.7 0h0m8 0h0m1.3 0h0m1.4 0h0M137.8 759.4h0m2.6 0h0m11 0h0m10.8 0h0m0.9 0h0M141.5 745.5h0m8.5 0h0m8.2 0h0M140.9 731.6h0M149.6 690.1h0M145.5 676.2h0" stroke="#3a4fb4" stroke-opacity="0.23" stroke-width="10" stroke-linecap="round" fill="none"/><path d="M844.8 1244.1h0M806.3 1230.2h0m9.6 0h0m4.8 0h0m3.8 0h0m22.4 0h0M800.5 1216.4h0m12.9 0h0m2.1 0h0m7.9 0h0m5.1 0h0m2.5 0h0m2 0h0m0.5 0h0m0.3 0h0m1.9 0h0m2.7 0h0M795.4 1202.5h0m8.8 0h0m9.1 0h0m1 0h0m10.2 0h0m0.8 0h0m9 0h0m0.5 0h0m0.2 0h0m3.1 0h0m1.4 0h0m4.9 0h0m3.1 0h0M680.2 1188.7h0m117 0h0m0.1 0h0m1.6 0h0m0.3 0h0m2.5 0h0m1.6 0h0m4.3 0h0m1.1 0h0m0.6 0h0m0.9 0h0m0.9 0h0m6.9 0h0m5 0h0m0.8 0h0m2.6 0h0m2.6 0h0m7.6 0h0m0.3 0h0m0.2 0h0m3.2 0h0m0.9 0h0m1.9 0h0m2.5 0h0m2.4 0h0M472.9 1174.8h0m1.6 0h0m204.1 0h0m115 0h0m20.8 0h0m3.7 0h0m1.4 0h0m5.2 0h0m7.5 0h0m5.4 0h0m7.5 0h0m2 0h0M474.9 1161h0m171.7 0h0m23 0h0m9.1 0h0m21.3 0h0m8.3 0h0m17.2 0h0m36.8 0h0m25.9 0h0m5.5 0h0m4.1 0h0m3.9 0h0m3.8 0h0m26.7 0h0m7.9 0h0m1.5 0h0M470 1147.2h0m43.9 0h0m89.9 0h0m21.2 0h0m16.6 0h0m7.3 0h0m13.4 0h0m3.2 0h0m0.4 0h0m2.5 0h0m11.1 0h0m1 0h0m30.3 0h0m43 0h0m4.3 0h0m5.3 0h0m0.2 0h0m10.9 0h0m9.1 0h0m3.4 0h0m2.3 0h0m12.8 0h0M463 1133.3h0m10 0h0m5.1 0h0m27.8 0h0m7.6 0h0m135 0h0m4.6 0h0m1.7 0h0m4.1 0h0m3.9 0h0m11 0h0m6.6 0h0m0.4 0h0m0.5 0h0m17.7 0h0m17.7 0h0m22.9 0h0m3.1 0h0m7.4 0h0m14.2 0h0m1 0h0m3.1 0h0m0.6 0h0m0.1 0h0m0.9 0h0m3.3 0h0m0.7 0h0m9.9 0h0m2 0h0m1.3 0h0m1.7 0h0m2.2 0h0m14.7 0h0M471.1 1119.5h0m1.8 0h0m0.3 0h0m114.3 0h0m42.8 0h0m4.6 0h0m1.1 0h0m6.9 0h0m0.2 0h0m2.9 0h0m1.3 0h0m1.1 0h0m6.2 0h0m1 0h0m3.5 0h0m1.7 0h0m8.2 0h0m6.9 0h0m3.7 0h0m18.7 0h0m5.1 0h0m1.3 0h0m1.8 0h0m0.5 0h0m11 0h0m20.2 0h0m5.2 0h0m6.8 0h0m1.5 0h0m2.5 0h0m6 0h0m4 0h0m1.9 0h0m2.9 0h0m8 0h0m0.3 0h0m6.7 0h0m2.5 0h0M467.1 1105.6h0m3.7 0h0m1 0h0m29.3 0h0m10.8 0h0m0.6 0h0m36.6 0h0m19.4 0h0m2.4 0h0m9.2 0h0m6.1 0h0m2.1 0h0m18.1 0h0m0.1 0h0m4.1 0h0m9.6 0h0m9.1 0h0m0.7 0h0m0.6 0h0m8 0h0m18.4 0h0m2 0h0m5.3 0h0m5.9 0h0m8.7 0h0m22.6 0h0m4.3 0h0m2 0h0m1.1 0h0m3.2 0h0m1.9 0h0m0.4 0h0m5.3 0h0m15.3 0h0m1.5 0h0m9.5 0h0m6.7 0h0m0.6 0h0m3.3 0h0m0.7 0h0m6.5 0h0m20.7 0h0m22.4 0h0M464.8 1091.8h0m3.1 0h0m2.4 0h0m0.7 0h0m17.4 0h0m7 0h0m0.6 0h0m4.9 0h0m3.2 0h0m2.8 0h0m0.3 0h0m12.3 0h0m37.7 0h0m10.4 0h0m29.7 0h0m0.8 0h0m4 0h0m3.1 0h0m8.7 0h0m1.4 0h0m5.4 0h0m1.9 0h0m4.5 0h0m10.1 0h0m0.3 0h0m1.7 0h0m2.4 0h0m5.4 0h0m2.5 0h0m1.8 0h0m7 0h0m1.7 0h0m14 0h0m32.6 0h0m21.7 0h0m10.1 0h0m4.1 0h0m5.4 0h0m2.4 0h0m15.6 0h0m15.8 0h0M466.5 1077.9h0m1.4 0h0m1.9 0h0m1.3 0h0m6.9 0h0m2.9 0h0m4.9 0h0m1.8 0h0m1.5 0h0m1.2 0h0m6.3 0h0m0.9 0h0m1.6 0h0m3.2 0h0m7.7 0h0m10.4 0h0m1.4 0h0m1.3 0h0m1.3 0h0m4.9 0h0m24.6 0h0m15.5 0h0m2.1 0h0m2.8 0h0m2.9 0h0m3 0h0m1.7 0h0m4.7 0h0m12.3 0h0m3.8 0h0m0.7 0h0m2.1 0h0m12.7 0h0m1.6 0h0m5.9 0h0m0.9 0h0m4.3 0h0m1.6 0h0m3.5 0h0m2.5 0h0m0.3 0h0m3.5 0h0m16.3 0h0m4.6 0h0m1.5 0h0m2 0h0m47.8 0h0m0.9 0h0m8.2 0h0m1.2 0h0m3.2 0h0m0.6 0h0m4 0h0m0.1 0h0m2.9 0h0m3.2 0h0m1.3 0h0m3.2 0h0m4.3 0h0m12 0h0M410 1064h0m69.9 0h0m2 0h0m8.2 0h0m0.6 0h0m0.5 0h0m4.8 0h0m2.7 0h0m4.9 0h0m2.9 0h0m6.7 0h0m1.7 0h0m0.5 0h0m3.6 0h0m7.6 0h0m1.1 0h0m1.5 0h0m5.9 0h0m4.3 0h0m8.1 0h0m3.7 0h0m12.1 0h0m5.2 0h0m0.2 0h0m1.5 0h0m2.9 0h0m0.6 0h0m8.2 0h0m11.5 0h0m1.9 0h0m3.2 0h0m4.9 0h0m4.3 0h0m21.5 0h0m1.5 0h0m84.3 0h0m10.8 0h0m4.9 0h0m6.9 0h0m0.1 0h0m5.1 0h0m3.6 0h0M428.9 1050.2h0m40.5 0h0m29.7 0h0m13.7 0h0m4.5 0h0m10.2 0h0m3.5 0h0m2.5 0h0m0.3 0h0m1.1 0h0m1.8 0h0m4.3 0h0m4.6 0h0m0.8 0h0m11.3 0h0m11.1 0h0m6 0h0m47.3 0h0m82.3 0h0m23 0h0m27.4 0h0M480.5 1036.3h0m0.8 0h0m16.1 0h0m18.2 0h0m23.7 0h0m2.7 0h0m20 0h0m6.1 0h0m18.8 0h0m7.3 0h0m77.4 0h0M373.6 1022.5h0m68.3 0h0m5.5 0h0m81.1 0h0m0.6 0h0m28.5 0h0M371.4 1008.7h0m1.7 0h0m8.2 0h0m37 0h0m5.9 0h0m2.5 0h0m1.7 0h0m10.5 0h0m8.1 0h0m7.5 0h0m5 0h0m0.2 0h0m25.1 0h0m39.7 0h0m9.9 0h0m0.5 0h0m2.5 0h0M366.6 994.8h0m0.4 0h0m3.8 0h0m18.8 0h0m5.5 0h0m16.2 0h0m5.2 0h0m4.6 0h0m2.5 0h0m1.5 0h0m13.2 0h0m0.3 0h0m1 0h0m0.6 0h0m4.1 0h0m4.6 0h0m8.2 0h0m0.5 0h0m78.5 0h0M363.4 981h0m4.9 0h0m6.2 0h0m6.5 0h0m4.8 0h0m5.8 0h0m1.6 0h0m4.5 0h0m7.7 0h0m1.4 0h0m4.8 0h0m13.4 0h0m6.6 0h0m22.5 0h0m1.5 0h0m62.5 0h0M229.8 967.1h0m131 0h0m4.2 0h0m5.6 0h0m0.1 0h0m7.9 0h0m2.3 0h0m6.2 0h0m2.9 0h0m7.5 0h0m2.5 0h0m7.6 0h0m7.8 0h0m39.7 0h0m1.5 0h0M188.7 953.2h0m176.9 0h0m23.6 0h0m14.6 0h0m15.7 0h0m0.4 0h0m0.5 0h0m28.6 0h0M235.1 939.4h0m106.7 0h0m19.9 0h0m32.1 0h0m2.6 0h0m4.2 0h0m1 0h0m9.1 0h0m19.8 0h0m134.6 0h0M347.2 925.6h0m0.3 0h0m3.5 0h0m4.7 0h0m0.5 0h0m1.2 0h0m1.5 0h0m48.4 0h0m1 0h0m13.4 0h0M216.8 911.7h0m2.9 0h0m5.3 0h0m4.1 0h0m6.6 0h0m2.7 0h0m0.3 0h0m5.5 0h0m2.2 0h0m2 0h0m75.5 0h0m7.3 0h0m6.9 0h0m1.5 0h0m5.4 0h0m3.3 0h0m43.4 0h0m19.2 0h0m15.1 0h0M197.6 897.9h0m15.3 0h0m5.5 0h0m1.3 0h0m5.4 0h0m4 0h0m3.3 0h0m0.2 0h0m0.2 0h0m3.5 0h0m0.9 0h0m2.7 0h0m2.7 0h0m0.4 0h0m1.1 0h0m4.6 0h0m3 0h0m3.1 0h0m55.9 0h0m3.7 0h0m2.4 0h0m8.8 0h0m7.2 0h0m1 0h0m7.5 0h0m1.9 0h0m2 0h0m8.2 0h0M195.8 884h0m3.4 0h0m1 0h0m0.4 0h0m1.8 0h0m4.3 0h0m3.8 0h0m8.2 0h0m2.4 0h0m2 0h0m5.4 0h0m1.6 0h0m0.1 0h0m12.1 0h0m0.5 0h0m1.7 0h0m2 0h0m3.7 0h0m1.1 0h0m2.2 0h0m3.4 0h0m3.7 0h0m58.8 0h0m1.3 0h0m0.7 0h0m3.8 0h0m3.1 0h0m0.4 0h0m1.1 0h0m4.5 0h0m0.7 0h0m1.7 0h0m0.2 0h0m5.2 0h0m1.9 0h0m7 0h0m5.1 0h0m57.7 0h0M175.9 870.1h0m27.1 0h0m5.5 0h0m4 0h0m1.4 0h0m2.5 0h0m5.3 0h0m4.8 0h0m10.2 0h0m8.4 0h0m5.3 0h0m3 0h0m0.5 0h0m4.4 0h0m5.7 0h0m0.7 0h0m14.4 0h0m5 0h0m13.6 0h0m5.1 0h0m0.8 0h0m1.8 0h0m1.9 0h0m4.9 0h0m3.8 0h0m4 0h0m4.4 0h0m2 0h0m0.2 0h0m3.8 0h0M117 856.3h0m56.9 0h0m0.3 0h0m3.4 0h0m3.1 0h0m11 0h0m1.4 0h0m1.7 0h0m2.5 0h0m0.7 0h0m0.6 0h0m6.3 0h0m4 0h0m22.1 0h0m22.1 0h0m12.9 0h0m5.4 0h0m0.4 0h0m1.5 0h0m0.5 0h0m4.1 0h0m1.9 0h0m7.5 0h0m15.3 0h0m14.6 0h0M177.5 842.5h0m5.1 0h0m19.6 0h0m2.9 0h0m21 0h0m40.3 0h0m2.1 0h0m3.6 0h0m17.6 0h0m11.7 0h0m2.2 0h0m4.8 0h0m2.1 0h0m1.2 0h0m0.9 0h0M129.5 828.6h0m36.5 0h0m3.8 0h0m4.6 0h0m2.6 0h0m3 0h0m2.6 0h0m3.8 0h0m0.1 0h0m21.2 0h0m2.4 0h0m7.6 0h0m39 0h0m13.9 0h0m5.6 0h0m6 0h0m7.4 0h0m7.4 0h0m8.2 0h0m4.5 0h0M124.9 814.8h0m40.7 0h0m13.4 0h0m15 0h0m3 0h0m68.9 0h0m1 0h0m5.9 0h0m8.6 0h0m17.8 0h0m4.6 0h0m8 0h0M169.5 800.9h0m2.6 0h0m14.6 0h0m107.7 0h0m7.6 0h0m7.2 0h0M269.8 787.1h0M123.8 773.2h0m8.3 0h0m27.1 0h0m3.1 0h0M126.6 759.4h0m0.1 0h0m6.1 0h0m2.6 0h0m8.4 0h0M146.3 745.5h0m1.7 0h0m2.6 0h0M148.8 731.6h0M142.2 717.8h0M152.1 704h0M144.7 690.1h0" stroke="#3a4fb4" stroke-opacity="0.23" stroke-width="10" stroke-linecap="round" fill="none"/><path d="M825.7 1244.1h0m11.5 0h0M835.4 1230.2h0m10.8 0h0M827.1 1216.4h0m16.1 0h0m2.7 0h0M797.4 1202.5h0m7 0h0m0.3 0h0m2 0h0m0.6 0h0m0.8 0h0m3.9 0h0m2 0h0m8.4 0h0m3.7 0h0m1.8 0h0m4.8 0h0m0.5 0h0m1.5 0h0M772.4 1188.7h0m25.8 0h0m4.1 0h0m6 0h0m1.5 0h0m4.1 0h0m0.9 0h0m2.7 0h0m1.2 0h0m0.2 0h0m1.3 0h0m0.2 0h0m2.7 0h0m1 0h0m4.6 0h0m0.2 0h0m2.6 0h0m0.1 0h0m0.4 0h0m5.4 0h0m1.4 0h0m4.6 0h0M473.4 1174.8h0m208 0h0m111.5 0h0m0.5 0h0m2.3 0h0m9 0h0m6.6 0h0m10.6 0h0m6.4 0h0M660.4 1161h0m20.8 0h0m118.2 0h0m1.8 0h0m3 0h0m6.9 0h0m1.3 0h0m1.2 0h0m16.6 0h0m1.3 0h0M626.1 1147.2h0m27.4 0h0m4.2 0h0m15.3 0h0m7.2 0h0m1.3 0h0m23.8 0h0m12.3 0h0m53.2 0h0m14.6 0h0m2 0h0m1.6 0h0m2.4 0h0m1.6 0h0m52 0h0M467.5 1133.3h0m4.3 0h0m29.6 0h0m122.9 0h0m16.9 0h0m4 0h0m15.1 0h0m1.1 0h0m2.6 0h0m14.6 0h0m1.5 0h0m22.6 0h0m2.7 0h0m1 0h0m38.7 0h0m11.2 0h0m1.4 0h0m3.5 0h0m4.2 0h0m1.2 0h0m0.5 0h0m2.1 0h0m1.8 0h0m1.9 0h0m2.3 0h0m2.9 0h0m0.6 0h0m6.1 0h0m0.8 0h0m1.1 0h0m5.6 0h0M474.1 1119.5h0m5.3 0h0m46.2 0h0m84 0h0m15.8 0h0m23.7 0h0m5.6 0h0m4.8 0h0m3.4 0h0m2.6 0h0m0.3 0h0m0.4 0h0m0.3 0h0m8.9 0h0m1 0h0m4.6 0h0m19 0h0m0.9 0h0m3.8 0h0m27.9 0h0m16.6 0h0m2.3 0h0m5.9 0h0m1.2 0h0m17.2 0h0m0.8 0h0m0.2 0h0m9.3 0h0M467.2 1105.6h0m2.1 0h0m0.8 0h0m5.4 0h0m0.2 0h0m6.5 0h0m75.4 0h0m8.1 0h0m11.3 0h0m1.5 0h0m2.8 0h0m2.4 0h0m6.2 0h0m0.1 0h0m8.2 0h0m9.3 0h0m0.6 0h0m0.9 0h0m2.7 0h0m0.5 0h0m1.1 0h0m3.1 0h0m10.1 0h0m6.6 0h0m2.6 0h0m1.6 0h0m6.1 0h0m5.9 0h0m1 0h0m2.8 0h0m1.7 0h0m5.2 0h0m1.9 0h0m10.2 0h0m28.2 0h0m5 0h0m4.9 0h0m15.7 0h0m3.4 0h0m8.3 0h0m3.4 0h0m0.4 0h0m2.2 0h0m0.7 0h0m9 0h0m20.8 0h0m9.1 0h0M474.5 1091.8h0m2.2 0h0m3.6 0h0m2.6 0h0m0.9 0h0m7.9 0h0m5.5 0h0m4.6 0h0m10.3 0h0m2.2 0h0m25.4 0h0m24.5 0h0m7.1 0h0m8.6 0h0m18.8 0h0m10.1 0h0m1.2 0h0m2.1 0h0m2.7 0h0m2.3 0h0m3.5 0h0m3 0h0m1.1 0h0m5.2 0h0m1.8 0h0m0.3 0h0m21.8 0h0m1.7 0h0m12.5 0h0m3.4 0h0m3.4 0h0m1.6 0h0m28 0h0m5.3 0h0m2.3 0h0m1.6 0h0m2.9 0h0m6.2 0h0m19.7 0h0m2.6 0h0m2.5 0h0m2.4 0h0m2.3 0h0m4.1 0h0m5 0h0m20.3 0h0M460.8 1077.9h0m4.5 0h0m3.9 0h0m3.7 0h0m0.8 0h0m2.7 0h0m4.9 0h0m3.1 0h0m0.3 0h0m7 0h0m4.9 0h0m1.3 0h0m1.4 0h0m1.9 0h0m5 0h0m3.6 0h0m4.9 0h0m7.1 0h0m2 0h0m38.5 0h0m0.8 0h0m2.8 0h0m0.3 0h0m0.9 0h0m0.2 0h0m5.7 0h0m2.9 0h0m0.5 0h0m1.7 0h0m0.4 0h0m14.1 0h0m10.2 0h0m3.7 0h0m0.1 0h0m0.2 0h0m4.6 0h0m3.9 0h0m3.7 0h0m2.3 0h0m19 0h0m2.8 0h0m3.8 0h0m3.9 0h0m22.8 0h0m42.6 0h0m1.3 0h0m1.6 0h0m0.2 0h0m2.3 0h0m0.6 0h0m0.3 0h0m0.9 0h0m3.5 0h0m2.4 0h0m0.7 0h0m0.5 0h0m0.9 0h0m1 0h0m0.9 0h0m7.9 0h0m1.5 0h0m4.2 0h0m1.8 0h0M383.6 1064h0m78.9 0h0m12.9 0h0m7.9 0h0m0.7 0h0m0.7 0h0m2.9 0h0m7 0h0m5.4 0h0m0.5 0h0m7.2 0h0m13.4 0h0m5.8 0h0m1.2 0h0m3.9 0h0m2 0h0m0.5 0h0m15.8 0h0m3.2 0h0m2.2 0h0m2.9 0h0m5.8 0h0m7.6 0h0m4.4 0h0m6.6 0h0m0.4 0h0m0.5 0h0m0.8 0h0m0.1 0h0m0.4 0h0m1.1 0h0m5.1 0h0m4.8 0h0m0.7 0h0m3.3 0h0m4.6 0h0m12.4 0h0m3.6 0h0m56.9 0h0m55.5 0h0m0.4 0h0m0.6 0h0m4.2 0h0m3.4 0h0m10.1 0h0M465 1050.2h0m1.8 0h0m20.2 0h0m2 0h0m0.9 0h0m2.2 0h0m19.2 0h0m19 0h0m2 0h0m3.5 0h0m1.9 0h0m3.9 0h0m5.8 0h0m0.9 0h0m1.6 0h0m2.6 0h0m3.9 0h0m0.2 0h0m3.3 0h0m5.1 0h0m7.4 0h0m2.2 0h0m20.3 0h0m1.3 0h0m4.1 0h0m5.9 0h0m8.6 0h0m55.5 0h0M434.3 1036.3h0m22.4 0h0m4.8 0h0m61.2 0h0m2.6 0h0m0.7 0h0m16.1 0h0m1.2 0h0m0.7 0h0m2.8 0h0m6.4 0h0m5.2 0h0m12.8 0h0m26.8 0h0m14.6 0h0m122.1 0h0m2.5 0h0M371.8 1022.5h0m62.3 0h0m8.8 0h0m1.4 0h0m3.6 0h0m5.2 0h0m85 0h0m0.6 0h0m6.3 0h0m8.7 0h0M369.3 1008.7h0m3 0h0m44 0h0m8.8 0h0m4.4 0h0m9.7 0h0m4.6 0h0m15.3 0h0m1 0h0m1.7 0h0m153.9 0h0m28.4 0h0m86.6 0h0m8.1 0h0M366.3 994.8h0m1.3 0h0m6.1 0h0m28.5 0h0m15 0h0m4.1 0h0m8.4 0h0m4.2 0h0m4.6 0h0m3.6 0h0m0.1 0h0m2.6 0h0m0.8 0h0m4.2 0h0m1.6 0h0m5.7 0h0m274.6 0h0M364.4 981h0m0.8 0h0m3.7 0h0m0.5 0h0m4 0h0m0.4 0h0m4.2 0h0m1 0h0m1.3 0h0m1.4 0h0m2.5 0h0m9.9 0h0m1.3 0h0m3 0h0m6.4 0h0m2.1 0h0m0.9 0h0m2 0h0m2.5 0h0m10.9 0h0m1.6 0h0m3.1 0h0m1.1 0h0m1.9 0h0m14.8 0h0m1.2 0h0m5.9 0h0m2 0h0M356.4 967.1h0m14.6 0h0m3.8 0h0m7.4 0h0m1.4 0h0m2.9 0h0m3.6 0h0m0.8 0h0m0.2 0h0m5.8 0h0m1.2 0h0m2 0h0m0.9 0h0m4.9 0h0m2.9 0h0m2.9 0h0m3.5 0h0m2 0h0m2.3 0h0m1 0h0m14.1 0h0m16 0h0m7 0h0M349.5 953.2h0m3.2 0h0m10 0h0m0.5 0h0m0.9 0h0m1.4 0h0m1.9 0h0m1.1 0h0m17.9 0h0m4.2 0h0m3.1 0h0m9.5 0h0m0.9 0h0m0 0h0m6.2 0h0m19.6 0h0M234.4 939.4h0m115.2 0h0m6.9 0h0m0.4 0h0m0.1 0h0m3 0h0m0.4 0h0m2.1 0h0m0.4 0h0m1.7 0h0m17.5 0h0m20.6 0h0m24.5 0h0m21.2 0h0M237.4 925.6h0m94.4 0h0m41 0h0m0.2 0h0m23.3 0h0m8.2 0h0M210.3 911.7h0m6.1 0h0m15.3 0h0m5.8 0h0m0.4 0h0m1 0h0m1.9 0h0m4.3 0h0m69.3 0h0m4 0h0m24.3 0h0m3.7 0h0m7.8 0h0M178 897.9h0m12.4 0h0m1.1 0h0m20.2 0h0m2.5 0h0m0.9 0h0m22.1 0h0m4.4 0h0m1.8 0h0m1.9 0h0m31.4 0h0m4.9 0h0m24.2 0h0m14.4 0h0m10.6 0h0m2.5 0h0m2.4 0h0m2.1 0h0m2.2 0h0m4.3 0h0m2.3 0h0m1.2 0h0m1.2 0h0m1.6 0h0m4 0h0M192.3 884h0m2.4 0h0m15.9 0h0m0.8 0h0m3.9 0h0m4.9 0h0m6.8 0h0m0.2 0h0m0.5 0h0m0.2 0h0m8.3 0h0m0.9 0h0m4.7 0h0m5.3 0h0m2.3 0h0m0.3 0h0m5.5 0h0m2.3 0h0m13.6 0h0m10.1 0h0m7.1 0h0m14.9 0h0m12.2 0h0m4 0h0m3.9 0h0m6.4 0h0m7.1 0h0m6 0h0m6 0h0m3 0h0m12.1 0h0M167.6 870.1h0m11.5 0h0m4 0h0m6.5 0h0m3.8 0h0m2.7 0h0m4.9 0h0m1.7 0h0m1.2 0h0m3.2 0h0m1.9 0h0m10.4 0h0m3.2 0h0m19.3 0h0m4.6 0h0m3.1 0h0m5.7 0h0m4.1 0h0m1.8 0h0m1.9 0h0m4.4 0h0m12 0h0m1.8 0h0m2 0h0m15.8 0h0m8.1 0h0m1 0h0m7.1 0h0m2.3 0h0m5.9 0h0m0.4 0h0m1.1 0h0m2.1 0h0m9.6 0h0m15 0h0M174.6 856.3h0m10 0h0m9 0h0m3 0h0m1.4 0h0m0.3 0h0m0.6 0h0m3 0h0m3.1 0h0m0.5 0h0m2.4 0h0m1.7 0h0m15.7 0h0m26.7 0h0m4.4 0h0m5.4 0h0m5.5 0h0m2.5 0h0m4.1 0h0m6.7 0h0m2.8 0h0m0.9 0h0m2.1 0h0m1.7 0h0m2.6 0h0m1.5 0h0m0.3 0h0m1.4 0h0m0.5 0h0m2.1 0h0m0.9 0h0m9 0h0m5.2 0h0m2.3 0h0m15 0h0M166.4 842.5h0m5.1 0h0m11.3 0h0m1.1 0h0m21.5 0h0m33.4 0h0m22.7 0h0m3.9 0h0m4 0h0m7.8 0h0m1.7 0h0m1.2 0h0m4.3 0h0m14.2 0h0m8.4 0h0m2.5 0h0m4.1 0h0M127.3 828.6h0m36.8 0h0m3.9 0h0m0.7 0h0m4.6 0h0m2.1 0h0m1.1 0h0m5.3 0h0m5.1 0h0m1.5 0h0m1.6 0h0m38.5 0h0m39.6 0h0m20.9 0h0m0.3 0h0m4 0h0m6.2 0h0m5 0h0m5.7 0h0m7.2 0h0M165.4 814.8h0m3.7 0h0m31 0h0m50.5 0h0M118 800.9h0m63.5 0h0m101.6 0h0M160.8 787.1h0m3.5 0h0m0.5 0h0M128.2 773.2h0m6.1 0h0m5 0h0m10.1 0h0m10.6 0h0m3.5 0h0M154.4 759.4h0m1.8 0h0M149.5 745.5h0m5.8 0h0M145.5 731.6h0m2.5 0h0M144.1 717.8h0m1.2 0h0m2.3 0h0M146.5 704h0M146.5 690.1h0" stroke="#3a4fb4" stroke-opacity="0.23" stroke-width="10" stroke-linecap="round" fill="none"/><path d="M845.1 1174.8h0m0.4 0h0m0.7 0h0M828 1161h0m12.6 0h0M808.4 1147.2h0m5.1 0h0m15.3 0h0m0.4 0h0m5.9 0h0m2 0h0m1 0h0m3.8 0h0m2.9 0h0M790.5 1133.3h0m13.4 0h0m1.1 0h0m1.5 0h0m1.1 0h0m9.3 0h0m1.6 0h0m8.6 0h0m2.8 0h0m3.6 0h0m0.4 0h0m2 0h0m1.1 0h0m10.1 0h0M740.3 1119.5h0m22.6 0h0m15.1 0h0m7.5 0h0m0.3 0h0m9.9 0h0m3.1 0h0m0.7 0h0m4.8 0h0m1 0h0m5.8 0h0m1.3 0h0m0.5 0h0m9.3 0h0m9.5 0h0m7.2 0h0M725.9 1105.6h0m18.2 0h0m1 0h0m10.6 0h0m3.9 0h0m0.1 0h0m9 0h0m0.1 0h0m3.2 0h0m1.3 0h0m0.9 0h0m4.9 0h0m4.2 0h0m1 0h0m0.1 0h0m0.8 0h0m1.4 0h0m1.7 0h0m1.2 0h0m10 0h0m11.7 0h0m3.6 0h0m3.2 0h0m1.9 0h0m3.1 0h0m3.1 0h0m19 0h0M741.3 1091.8h0m7.9 0h0m1.2 0h0m4.1 0h0m0.7 0h0m6.4 0h0m2.8 0h0m0.9 0h0m0.7 0h0m8.9 0h0m0.5 0h0m6.3 0h0m2.7 0h0m0.6 0h0m2.1 0h0m3.8 0h0m2.2 0h0m16.2 0h0m1.2 0h0M720.5 1077.9h0m19.7 0h0m0.3 0h0m1 0h0m12.4 0h0m3 0h0m0.2 0h0m1.2 0h0m4 0h0m16.2 0h0M137.7 1064h0m595 0h0m0.6 0h0m4.7 0h0m0.9 0h0m0.5 0h0m3.4 0h0m4.1 0h0m4.4 0h0m0.4 0h0m1.8 0h0m0.9 0h0m7.5 0h0m26.2 0h0m35.4 0h0M141.3 1050.2h0m11.2 0h0m572.1 0h0m5.7 0h0m3.4 0h0m3.1 0h0m0.6 0h0m8.2 0h0m3.8 0h0M140.2 1036.3h0m2.2 0h0m156.2 0h0m419.2 0h0m3.3 0h0m1.2 0h0m6.4 0h0m0.2 0h0m0.5 0h0m2.3 0h0m7.5 0h0m1.4 0h0M134.1 1022.5h0m2.6 0h0m5.6 0h0m563.5 0h0m11 0h0m1.7 0h0m2.9 0h0m7.1 0h0m3.1 0h0m7.8 0h0m15.1 0h0M144.7 1008.7h0m0.8 0h0m13.3 0h0m40.6 0h0m69.9 0h0m19 0h0m14.1 0h0m29.9 0h0m380.2 0h0m1 0h0m0.6 0h0m1.3 0h0m2.9 0h0M157.7 994.8h0m0.7 0h0m115.7 0h0m11 0h0m6.4 0h0m9.2 0h0m6.1 0h0m0.1 0h0m3 0h0m3.3 0h0m0.5 0h0m0.9 0h0m1.5 0h0m32.7 0h0m355.9 0h0m0.3 0h0m5 0h0m0.3 0h0M118.9 981h0m17.4 0h0m19.5 0h0m4.4 0h0m111.2 0h0m3.8 0h0m5.1 0h0m5.3 0h0m3.8 0h0m11.1 0h0m2.2 0h0m8.7 0h0m4.3 0h0m1.7 0h0m2.3 0h0m9.3 0h0m4.4 0h0m2.5 0h0m0.7 0h0m0.9 0h0m0.7 0h0m2.6 0h0m337.8 0h0M159.1 967.1h0m92.9 0h0m2.8 0h0m8.9 0h0m3 0h0m6.9 0h0m0.8 0h0m3.8 0h0m0.6 0h0m7.8 0h0m3.6 0h0m4.2 0h0m6.3 0h0m5.4 0h0m0.7 0h0m1.8 0h0m0.7 0h0m2.8 0h0m3.1 0h0m4 0h0m5.3 0h0m4.6 0h0m18.6 0h0m0.5 0h0m0.1 0h0m352.9 0h0m0.7 0h0m3.6 0h0m3.3 0h0M160.3 953.2h0m1.1 0h0m7.4 0h0m8.2 0h0m9.7 0h0m8 0h0m42.5 0h0m24.8 0h0m0.4 0h0m5.4 0h0m0.6 0h0m0.4 0h0m4.3 0h0m2.5 0h0m1.6 0h0m6.9 0h0m5.2 0h0m5.4 0h0m8.5 0h0m0.4 0h0m4.2 0h0m0 0h0m8.3 0h0m10.9 0h0m0.5 0h0m7.7 0h0m4.3 0h0m0.1 0h0m3.7 0h0m1.8 0h0m2.3 0h0m2.5 0h0m3.9 0h0m0.5 0h0m50.5 0h0m273.7 0h0m20.6 0h0m3.5 0h0M163.7 939.4h0m5.4 0h0m1.5 0h0m18.2 0h0m7.4 0h0m7.6 0h0m18.7 0h0m18.7 0h0m7.9 0h0m2.4 0h0m6.9 0h0m0.4 0h0m5.3 0h0m8.3 0h0m10.5 0h0m8.9 0h0m46.7 0h0m4.7 0h0m0.4 0h0m0.9 0h0m5.9 0h0m330.5 0h0M164.4 925.6h0m3.9 0h0m1.2 0h0m2.3 0h0m9.1 0h0m0.5 0h0m2.4 0h0m8.9 0h0m0.8 0h0m17.7 0h0m9.3 0h0m2.5 0h0m0.3 0h0m4 0h0m12 0h0m5.4 0h0m7.9 0h0m3.2 0h0m78.2 0h0m17.1 0h0m1 0h0m3.3 0h0m0.9 0h0m24.5 0h0m16.8 0h0m15 0h0m30.9 0h0m254.8 0h0M175.9 911.7h0m1.9 0h0m1.7 0h0m1 0h0m2.9 0h0m1 0h0m3.5 0h0m1.9 0h0m0.8 0h0m5.3 0h0m1.7 0h0m3.3 0h0m2.7 0h0m0.4 0h0m0.6 0h0m4.3 0h0m17.2 0h0m0.2 0h0m13.9 0h0m0.9 0h0m0.8 0h0m2.8 0h0m0.3 0h0m0.5 0h0m3.6 0h0m0.9 0h0m1.4 0h0m0.4 0h0m16.9 0h0m91.8 0h0m0.2 0h0m11 0h0m14.4 0h0m2.2 0h0m0.7 0h0m16.3 0h0m2.5 0h0m2.5 0h0m1.2 0h0m10.5 0h0m2.4 0h0m2.2 0h0m2 0h0m9.9 0h0m140.7 0h0m100 0h0m2.1 0h0m18.7 0h0M172.4 897.9h0m9.2 0h0m3.1 0h0m14.2 0h0m2.8 0h0m7.5 0h0m0.1 0h0m4.2 0h0m3 0h0m2.7 0h0m2.3 0h0m2.4 0h0m0.7 0h0m1.6 0h0m2.3 0h0m2.9 0h0m3.8 0h0m1.2 0h0m2.2 0h0m0.7 0h0m0.7 0h0m1.8 0h0m7.8 0h0m8.4 0h0m38.9 0h0m61.6 0h0m0.4 0h0m2.3 0h0m7.1 0h0m9.3 0h0m13.4 0h0m6.3 0h0m1.9 0h0m0.5 0h0m1.1 0h0m11.5 0h0m1 0h0m1.1 0h0m16.1 0h0m0.5 0h0m3.9 0h0m0.9 0h0m4.7 0h0m8.5 0h0m8.1 0h0M162.2 884h0m9.1 0h0m23.8 0h0m7.9 0h0m8.5 0h0m2.9 0h0m1.8 0h0m12.5 0h0m1.2 0h0m3.3 0h0m113.3 0h0m20 0h0m3.1 0h0m2.8 0h0m8 0h0m6.5 0h0m0.8 0h0m13.5 0h0m1.8 0h0m1.3 0h0m6.6 0h0m9.2 0h0m3.2 0h0m0.9 0h0m2.1 0h0m3.6 0h0m2.3 0h0m3.3 0h0m2.1 0h0m5.8 0h0m6.9 0h0m1.4 0h0m4.9 0h0m103.8 0h0m87.5 0h0m33.6 0h0M199.8 870.1h0m25.6 0h0m138.7 0h0m0.7 0h0m3.7 0h0m3.1 0h0m4.7 0h0m7.9 0h0m3.2 0h0m5.8 0h0m6.5 0h0m4.1 0h0m0.4 0h0m0.7 0h0m3.1 0h0m0.6 0h0m4.8 0h0m1.9 0h0m5.5 0h0m11 0h0m2.9 0h0m2.2 0h0m11.4 0h0m0.5 0h0m3.5 0h0m1.6 0h0m45.7 0h0m47.1 0h0m71.9 0h0m25.4 0h0m10.1 0h0M218.6 856.3h0m6.3 0h0m184.1 0h0m8.4 0h0m18.6 0h0m5.9 0h0m9.3 0h0m7.7 0h0m84.5 0h0m21.6 0h0m34 0h0m11.6 0h0m3.6 0h0m1.2 0h0m28.2 0h0m5.7 0h0m1.9 0h0m18 0h0m9.3 0h0m0.8 0h0M371.2 842.5h0m68.7 0h0m13.3 0h0m1.5 0h0m0.3 0h0m82.3 0h0m5.8 0h0m6.2 0h0m2.7 0h0m5.2 0h0m24.2 0h0m5.9 0h0m0.2 0h0m3.6 0h0m9 0h0m14.2 0h0m0.5 0h0m12.7 0h0m0.5 0h0m3.3 0h0m14.1 0h0m0.4 0h0m0.9 0h0m5.9 0h0m7.9 0h0m1.4 0h0m3.2 0h0m0.3 0h0m15.5 0h0M364.9 828.6h0m95.6 0h0m0.8 0h0m65.4 0h0m5.8 0h0m15 0h0m5.2 0h0m2.2 0h0m8.5 0h0m10.7 0h0m4.5 0h0m1 0h0m8.6 0h0m3.5 0h0m5.8 0h0m3.1 0h0m2.2 0h0m4.3 0h0m5.5 0h0m3.4 0h0m1.5 0h0m2.7 0h0m3.1 0h0m0.8 0h0m2.8 0h0m2.4 0h0m0.8 0h0m1.1 0h0m0.7 0h0m2.5 0h0m1.2 0h0m0.3 0h0m12.8 0h0m2.1 0h0m6.5 0h0m5.8 0h0m2.5 0h0M460.3 814.8h0m30.3 0h0m0.4 0h0m8 0h0m3.4 0h0m0.9 0h0m19.2 0h0m0.5 0h0m13.6 0h0m3.3 0h0m0.4 0h0m7 0h0m10.1 0h0m1.1 0h0m8.8 0h0m5.8 0h0m0.4 0h0m3.3 0h0m3.6 0h0m0.4 0h0m2.1 0h0m12.3 0h0m6.3 0h0m1.3 0h0m1.6 0h0m7.5 0h0m3.6 0h0m1.6 0h0m1.3 0h0m2.2 0h0m4 0h0m23.5 0h0m1.4 0h0m2 0h0m4.7 0h0m10 0h0m1.5 0h0m2.9 0h0m2.5 0h0m3.4 0h0M398.7 800.9h0m63.2 0h0m2.2 0h0m28.2 0h0m5.4 0h0m11.7 0h0m17.3 0h0m4 0h0m1.1 0h0m2.4 0h0m3.2 0h0m1.1 0h0m0.5 0h0m1.4 0h0m12.9 0h0m2.7 0h0m4.9 0h0m4.5 0h0m5.9 0h0m0.8 0h0m5.6 0h0m5.4 0h0m7.1 0h0m5.3 0h0m0.5 0h0m3.4 0h0m8.6 0h0m0.2 0h0m9.9 0h0m4.9 0h0m0.8 0h0m20.8 0h0m13.3 0h0m3 0h0m6.1 0h0m0.5 0h0m2.5 0h0m1.8 0h0m0.8 0h0m0.7 0h0M462.8 787.1h0m0.6 0h0m21 0h0m11.8 0h0m6.3 0h0m4.9 0h0m1.8 0h0m6.6 0h0m1.4 0h0m17.6 0h0m9.7 0h0m15.8 0h0m10.2 0h0m2.4 0h0m0.3 0h0m18.6 0h0m20 0h0m19 0h0m3.6 0h0m10.9 0h0M463.8 773.2h0m1.4 0h0m17.7 0h0m2.2 0h0m7.5 0h0m11.8 0h0m10.7 0h0m2.8 0h0m0.5 0h0m8 0h0m26.4 0h0m44.3 0h0m5 0h0M465.6 759.4h0m1 0h0m2 0h0m8.7 0h0m5.5 0h0m11.3 0h0m14.4 0h0m22.7 0h0m42.3 0h0M464.4 745.5h0m8.1 0h0m0.3 0h0M465.3 731.6h0m2.4 0h0m9.6 0h0m2.1 0h0m37.2 0h0m73.1 0h0M466 717.8h0m2.4 0h0m1.9 0h0m2.5 0h0m1.5 0h0m12.8 0h0M480.2 704h0M469.7 676.2h0" stroke="#e3120b" stroke-opacity="0.23" stroke-width="10" stroke-linecap="round" fill="none"/><path d="M821.4 1174.8h0m17.1 0h0M768.4 1161h0m53.1 0h0m5.4 0h0m16.6 0h0m0.7 0h0m2.5 0h0M805.4 1147.2h0m13.3 0h0m9.6 0h0m1.7 0h0m2.7 0h0m0.1 0h0m3.9 0h0m3.1 0h0m0.7 0h0m3.2 0h0m3.6 0h0M761.3 1133.3h0m17.1 0h0m11.6 0h0m4.8 0h0m2.1 0h0m1.8 0h0m5.3 0h0m3.5 0h0m0.3 0h0m0.2 0h0m6.4 0h0m2.6 0h0m8.2 0h0m0.6 0h0m5.6 0h0m5.1 0h0m1.6 0h0m6 0h0m2.9 0h0M771.3 1119.5h0m11.5 0h0m5.2 0h0m5.3 0h0m1.2 0h0m0.6 0h0m1.5 0h0m0.8 0h0m1.1 0h0m2.4 0h0m1.5 0h0m15.1 0h0m0 0h0m1.8 0h0m6.6 0h0m8.8 0h0m8.8 0h0M748.5 1105.6h0m3.8 0h0m0.4 0h0m2.7 0h0m3.1 0h0m12.2 0h0m0.2 0h0m0.6 0h0m3.5 0h0m4 0h0m7.5 0h0m4.5 0h0m5.8 0h0m4.3 0h0m1.6 0h0m2 0h0m0.5 0h0m2.6 0h0m3 0h0m10.3 0h0m3.6 0h0m13.9 0h0m0.9 0h0M736.5 1091.8h0m11.3 0h0m10.3 0h0m2.3 0h0m4.7 0h0m0.4 0h0m4.9 0h0m2.5 0h0m3.3 0h0m0.9 0h0m0.1 0h0m5.8 0h0m8.2 0h0m0.7 0h0m6.1 0h0m1.2 0h0m0.1 0h0m2.3 0h0m12 0h0m5.8 0h0m5.9 0h0m2.2 0h0M729.2 1077.9h0m14.5 0h0m6.2 0h0m3 0h0m3 0h0m0.4 0h0m3 0h0m3.6 0h0m12.9 0h0m26.9 0h0m3.1 0h0m8 0h0m27.7 0h0M721.9 1064h0m3.6 0h0m7 0h0m10.8 0h0m7.5 0h0m8.4 0h0m21 0h0m22 0h0M722.3 1050.2h0m1.8 0h0m2.5 0h0m26.9 0h0m7.4 0h0M122.4 1036.3h0m2 0h0m2.3 0h0m2 0h0m2.6 0h0m8.7 0h0m0.9 0h0m3.3 0h0m565.6 0h0m5.3 0h0m3.2 0h0m4.8 0h0m0.5 0h0m3.2 0h0m4.3 0h0m1.7 0h0m4.3 0h0M117.5 1022.5h0m0.9 0h0m3.8 0h0m1.4 0h0m15.8 0h0m155.4 0h0m408.3 0h0m14.2 0h0m1.8 0h0m14.8 0h0M119.5 1008.7h0m8.7 0h0m15 0h0m53.7 0h0m74.9 0h0m28.7 0h0m410.1 0h0m3.8 0h0m13.5 0h0M119.8 994.8h0m33.2 0h0m118.2 0h0m22.4 0h0m1.7 0h0m8.7 0h0m6.6 0h0m2.7 0h0m3.7 0h0m2.8 0h0m6.5 0h0m7.4 0h0m371.5 0h0m6.6 0h0M248.1 981h0m23.6 0h0m4.6 0h0m2.6 0h0m3.1 0h0m7.4 0h0m10.7 0h0m4.4 0h0m8.3 0h0m2.6 0h0m4.8 0h0m2.6 0h0m2.6 0h0m16.6 0h0m5 0h0m334 0h0m24.6 0h0m3.3 0h0M191.7 967.1h0m69.8 0h0m14.5 0h0m0.5 0h0m5.4 0h0m0.5 0h0m8.3 0h0m7.6 0h0m0.4 0h0m7.6 0h0m7.7 0h0m3.7 0h0m4.5 0h0m3.9 0h0m8.1 0h0m1.9 0h0m12.3 0h0m69.7 0h0m262.1 0h0m22.4 0h0m1.5 0h0m1 0h0M198 953.2h0m63.6 0h0m2.4 0h0m6.5 0h0m2.6 0h0m4.8 0h0m1.1 0h0m0.6 0h0m0.4 0h0m7 0h0m2 0h0m1.5 0h0m1.6 0h0m3.5 0h0m4.6 0h0m2.4 0h0m2 0h0m3.3 0h0m4.7 0h0m4 0h0m1.7 0h0m4.2 0h0m0.4 0h0m2.9 0h0m2.6 0h0m4.6 0h0m2.7 0h0m8.2 0h0m2.1 0h0m0.4 0h0m8.1 0h0m2.5 0h0m2.8 0h0m340.9 0h0m2.3 0h0m4.6 0h0M164.8 939.4h0m1.9 0h0m0.4 0h0m3.9 0h0m1.2 0h0m3.4 0h0m1 0h0m16.6 0h0m9.2 0h0m1 0h0m2.1 0h0m7.8 0h0m15.4 0h0m0.3 0h0m16.9 0h0m3 0h0m1.6 0h0m0.4 0h0m3.5 0h0m1.2 0h0m2.6 0h0m2.4 0h0m1 0h0m5.4 0h0m0.7 0h0m37.4 0h0m18.6 0h0m2.9 0h0m0.6 0h0m1.9 0h0m3 0h0m4.1 0h0m0.6 0h0m2.9 0h0m0.4 0h0m2.4 0h0m2.9 0h0m5.9 0h0m8 0h0m3.5 0h0m7.9 0h0m3.4 0h0m15.9 0h0m36 0h0m271.8 0h0m2 0h0m0.3 0h0m1.8 0h0M188.3 925.6h0m1.7 0h0m0.2 0h0m5.2 0h0m6.6 0h0m0.7 0h0m12.6 0h0m11.8 0h0m10.9 0h0m9.1 0h0m1.6 0h0m2.5 0h0m1.2 0h0m4.6 0h0m0.6 0h0m0.1 0h0m1.3 0h0m3.7 0h0m18.6 0h0m6.2 0h0m19.9 0h0m24.1 0h0m7.7 0h0m10.2 0h0m5.4 0h0m1 0h0m6.1 0h0m0.3 0h0m2.6 0h0m0.7 0h0m3.4 0h0m0.7 0h0m6 0h0m19 0h0m3.7 0h0m281.9 0h0M168 911.7h0m3.3 0h0m0.1 0h0m5.5 0h0m0.6 0h0m7.7 0h0m1.2 0h0m14.6 0h0m18.4 0h0m5 0h0m1.4 0h0m1.1 0h0m2.3 0h0m4 0h0m2.3 0h0m2.9 0h0m5.1 0h0m9.5 0h0m7 0h0m11.1 0h0m71.6 0h0m27.4 0h0m9.5 0h0m5.8 0h0m6.7 0h0m1.5 0h0m6.8 0h0m12 0h0m10.8 0h0m1.8 0h0m7.9 0h0m0.9 0h0m12.3 0h0m6.1 0h0M174.5 897.9h0m5.5 0h0m26.5 0h0m0.5 0h0m4.1 0h0m0.9 0h0m7 0h0m3 0h0m0.4 0h0m11.4 0h0m4 0h0m1.9 0h0m6.1 0h0m1.1 0h0m5.7 0h0m112.8 0h0m17.6 0h0m3.1 0h0m6.9 0h0m12.5 0h0m0.7 0h0m1.8 0h0m1.2 0h0m1.2 0h0m1.9 0h0m7.2 0h0m1.7 0h0m1.6 0h0m2.2 0h0m0.7 0h0m2.1 0h0m3.8 0h0m12 0h0m0.8 0h0m0.5 0h0m3.1 0h0M176.7 884h0m6.4 0h0m22.9 0h0m4.6 0h0m4.6 0h0m2.4 0h0m2.3 0h0m10.9 0h0m17.7 0h0m126.1 0h0m0.5 0h0m16.2 0h0m4.5 0h0m0.2 0h0m0.3 0h0m1.6 0h0m3.8 0h0m3.4 0h0m0.6 0h0m10.6 0h0m14.1 0h0m3.8 0h0m1 0h0m12.6 0h0m6.5 0h0m200 0h0M175.5 870.1h0m5.3 0h0m34.5 0h0m22.1 0h0m132.7 0h0m9.4 0h0m1.5 0h0m3.9 0h0m1.6 0h0m8.7 0h0m12.2 0h0m2.2 0h0m0.1 0h0m6.8 0h0m10.6 0h0m3.8 0h0m2.2 0h0m4.2 0h0m3.5 0h0m5 0h0m1.5 0h0m1.1 0h0m2.6 0h0m3.2 0h0m3.1 0h0m97.3 0h0m99.3 0h0m6.6 0h0m0.3 0h0m7.7 0h0M207.3 856.3h0m26.1 0h0m4.3 0h0m139.5 0h0m1.2 0h0m5 0h0m0.4 0h0m18.5 0h0m0.3 0h0m21.2 0h0m2.1 0h0m8.1 0h0m9.1 0h0m7.4 0h0m74.6 0h0m1.6 0h0m14.1 0h0m0.8 0h0m2.5 0h0m2.7 0h0m12.8 0h0m47.2 0h0m12.6 0h0m10 0h0m22.7 0h0m18.2 0h0m6.6 0h0m3.1 0h0M209.8 842.5h0m20.7 0h0m16.1 0h0m127 0h0m76.3 0h0m6.1 0h0m2.6 0h0m40.6 0h0m22.1 0h0m10.4 0h0m4.8 0h0m1.9 0h0m5 0h0m3 0h0m8.8 0h0m4.8 0h0m19.6 0h0m9.7 0h0m3 0h0m28.7 0h0m0.5 0h0m0.9 0h0m0.2 0h0m11.3 0h0m6.3 0h0m2.5 0h0m3.2 0h0m5 0h0m6.2 0h0m2.4 0h0m3.5 0h0m1.2 0h0m2.5 0h0m4.7 0h0m7.7 0h0M447.6 828.6h0m7.1 0h0m3.2 0h0m40.3 0h0m1.5 0h0m5.5 0h0m12.1 0h0m4.5 0h0m2.8 0h0m1.5 0h0m3.3 0h0m0.2 0h0m3.9 0h0m2.3 0h0m10.2 0h0m8.9 0h0m0.4 0h0m0.4 0h0m1.5 0h0m5 0h0m9.9 0h0m4 0h0m15.4 0h0m1.6 0h0m10 0h0m0.6 0h0m1.7 0h0m4.5 0h0m7.5 0h0m7.7 0h0m3.5 0h0m2.1 0h0m4.2 0h0m3.7 0h0m1.9 0h0m10 0h0m3.1 0h0m1.6 0h0m6.9 0h0m2.5 0h0m5.1 0h0M417.1 814.8h0m14.7 0h0m28.3 0h0m0.7 0h0m33.5 0h0m1.4 0h0m16.7 0h0m21.3 0h0m0.9 0h0m4.1 0h0m3.3 0h0m11 0h0m1.7 0h0m4 0h0m2.2 0h0m0.5 0h0m10.9 0h0m2.4 0h0m0.7 0h0m0.8 0h0m16.2 0h0m2.8 0h0m15.4 0h0m5.1 0h0m1 0h0m6.2 0h0m8.5 0h0m1.1 0h0m3.3 0h0m3.1 0h0m0.5 0h0m7.5 0h0m6.1 0h0m4.9 0h0m2.5 0h0m0.8 0h0m8 0h0m2.7 0h0m1.5 0h0m1 0h0m1.6 0h0M457.5 800.9h0m4.2 0h0m2.4 0h0m1 0h0m18.5 0h0m8.1 0h0m10.8 0h0m0 0h0m17.8 0h0m2.8 0h0m0.5 0h0m6.7 0h0m9.8 0h0m8.5 0h0m0.1 0h0m6.4 0h0m0.5 0h0m9.1 0h0m2.2 0h0m1 0h0m0.7 0h0m1.7 0h0m8.2 0h0m8 0h0m8 0h0m14.1 0h0m10.3 0h0m2.8 0h0m15.2 0h0m0.2 0h0m1.5 0h0m0.5 0h0m1.3 0h0m16.4 0h0m0.9 0h0m6.7 0h0m5 0h0M464.2 787.1h0m3.2 0h0m0.9 0h0m9.7 0h0m5.1 0h0m3.3 0h0m8.6 0h0m1.4 0h0m4.1 0h0m0.8 0h0m1.9 0h0m1.8 0h0m6.7 0h0m2.3 0h0m5 0h0m0.3 0h0m5.4 0h0m15.6 0h0m23.6 0h0m17.8 0h0m5.4 0h0m3.4 0h0m4.8 0h0m4.4 0h0m0.5 0h0m3.3 0h0m62.3 0h0M464.6 773.2h0m13.7 0h0m3.2 0h0m10.4 0h0m1.9 0h0m5.1 0h0m2.9 0h0m2 0h0m2.7 0h0m0.7 0h0m1.7 0h0m4 0h0m1.9 0h0m0.2 0h0m41.7 0h0m10.4 0h0m3.6 0h0m17.6 0h0m3.5 0h0M462.9 759.4h0m21.7 0h0m1.2 0h0m0.1 0h0m1.8 0h0m5.4 0h0m3.2 0h0m12.6 0h0m4.6 0h0m118.8 0h0M470.1 745.5h0m2.1 0h0m1.6 0h0m10.4 0h0m1.5 0h0m11 0h0m6.1 0h0m80.4 0h0m92.3 0h0M466 731.6h0m0.3 0h0m2.3 0h0m1 0h0m0.3 0h0m1.4 0h0m1.9 0h0m1.3 0h0m6.1 0h0M465.5 717.8h0m0.1 0h0m9.8 0h0m3.9 0h0M478.8 704h0M465.3 676.2h0M466.1 662.4h0M466.6 648.6h0" stroke="#e3120b" stroke-opacity="0.23" stroke-width="10" stroke-linecap="round" fill="none"/><path d="M840.4 1216.4h0M831 1174.8h0M839.2 1161h0m1.7 0h0M777.7 1147.2h0m37 0h0m5.2 0h0m1.8 0h0m2.5 0h0m2.2 0h0m4 0h0m1.4 0h0m1.5 0h0m0.9 0h0m9.5 0h0m3.1 0h0M780.4 1133.3h0m18.9 0h0m18 0h0m1.9 0h0m4.2 0h0m8.8 0h0m2.6 0h0m3.1 0h0m4.4 0h0M758.8 1119.5h0m7.3 0h0m6.5 0h0m8.8 0h0m7.4 0h0m0.4 0h0m0.3 0h0m2.9 0h0m4.7 0h0m0.6 0h0m2.6 0h0m3.2 0h0m0.7 0h0m2.3 0h0m0.9 0h0m4.7 0h0m0.1 0h0m3.1 0h0m1.4 0h0m3.9 0h0m0.1 0h0m8.4 0h0m1.8 0h0m4.9 0h0M765 1105.6h0m1.1 0h0m0.9 0h0m1 0h0m1.2 0h0m2.3 0h0m3.1 0h0m5 0h0m8.2 0h0m1.1 0h0m10.1 0h0m15.1 0h0m1.6 0h0m14 0h0M744.3 1091.8h0m6.8 0h0m0.8 0h0m5.6 0h0m4.1 0h0m0.5 0h0m0.5 0h0m2 0h0m0.5 0h0m0.5 0h0m0.8 0h0m0.8 0h0m6.5 0h0m0.1 0h0m0.3 0h0m1.1 0h0m1.1 0h0m1.1 0h0m0.6 0h0m1.9 0h0m0.6 0h0m0.6 0h0m2.7 0h0m1.4 0h0m1.8 0h0m8.3 0h0m0.4 0h0m9.5 0h0m1.6 0h0m5.8 0h0m3.1 0h0m3.1 0h0M735.1 1077.9h0m3.7 0h0m0.9 0h0m5.2 0h0m1.8 0h0m1.4 0h0m0.7 0h0m6.2 0h0m6.2 0h0m8.9 0h0m1.3 0h0m1.1 0h0m4.5 0h0m13.1 0h0m11.2 0h0m11.8 0h0M717.7 1064h0m16.8 0h0m2 0h0m0.3 0h0m5.8 0h0m3.2 0h0m0.3 0h0m0.7 0h0m0.6 0h0m1 0h0m5.1 0h0m1.9 0h0m25.5 0h0m4.6 0h0M118.7 1050.2h0m2.2 0h0m604 0h0m0.2 0h0m2.9 0h0m1.7 0h0m0.9 0h0m4 0h0m10.8 0h0m24.1 0h0M714.8 1036.3h0m6.2 0h0m0.1 0h0m1.5 0h0m1.3 0h0m8.3 0h0m7.8 0h0m0.8 0h0m26.8 0h0M125.5 1022.5h0m9.6 0h0m147.7 0h0m26.3 0h0m398.5 0h0m0.5 0h0m0.9 0h0m6.1 0h0m0.5 0h0m3.1 0h0m9.4 0h0m29.8 0h0M146.5 1008.7h0m2.1 0h0m1.3 0h0m1.2 0h0m3.2 0h0m106.7 0h0m38 0h0m0.8 0h0m4.9 0h0m15.7 0h0m392.6 0h0m0.7 0h0m1.1 0h0m1.5 0h0m0.2 0h0m3.8 0h0M150.7 994.8h0m6.3 0h0m74.7 0h0m48.9 0h0m3.1 0h0m0.7 0h0m5.4 0h0m4 0h0m3.5 0h0m0.4 0h0m4.3 0h0m1.3 0h0m1.7 0h0m6.5 0h0m12.1 0h0m379.8 0h0m2.6 0h0m1.1 0h0m9.9 0h0M125.9 981h0m25.5 0h0m115 0h0m2.1 0h0m13.2 0h0m9.3 0h0m9 0h0m6 0h0m1.2 0h0m1.1 0h0m6.6 0h0m8.4 0h0m1.6 0h0m0.7 0h0m3.9 0h0m0.1 0h0m1.6 0h0m0.3 0h0m12.7 0h0m0.7 0h0m361.4 0h0m10.9 0h0m4.7 0h0M119.9 967.1h0m52.9 0h0m0.7 0h0m0.7 0h0m13.9 0h0m68.4 0h0m9.3 0h0m11.9 0h0m1 0h0m14.1 0h0m3.7 0h0m1.2 0h0m1.8 0h0m2.1 0h0m3.8 0h0m15.7 0h0m0.5 0h0m22.7 0h0m9 0h0m348.5 0h0m2 0h0m3 0h0M169.7 953.2h0m0.3 0h0m9.9 0h0m5.5 0h0m5 0h0m2.5 0h0m28.7 0h0m19.1 0h0m2 0h0m13.2 0h0m5.2 0h0m2.1 0h0m4.3 0h0m2.7 0h0m2.6 0h0m4.3 0h0m1.1 0h0m1 0h0m6.5 0h0m1 0h0m9.1 0h0m24 0h0m4.5 0h0m3.4 0h0m0.1 0h0m4.8 0h0m2.2 0h0m2.8 0h0m19 0h0m0.8 0h0m321 0h0M167.2 939.4h0m1.1 0h0m4.7 0h0m13.1 0h0m3.7 0h0m0.7 0h0m1.3 0h0m2.2 0h0m3.9 0h0m3.7 0h0m15.1 0h0m15.4 0h0m28.2 0h0m1.9 0h0m3 0h0m7.2 0h0m3.6 0h0m10.7 0h0m38.1 0h0m5.6 0h0m2.7 0h0m4.7 0h0m1.4 0h0m1.2 0h0m5.6 0h0m3.2 0h0m10.3 0h0m0.6 0h0m52.1 0h0m30.9 0h0m255.3 0h0m3.3 0h0M162.4 925.6h0m10.9 0h0m0.6 0h0m1.4 0h0m11.4 0h0m2.1 0h0m0.4 0h0m4.1 0h0m0.3 0h0m0.9 0h0m3.7 0h0m0.4 0h0m14.1 0h0m21.5 0h0m3.4 0h0m1.6 0h0m4.8 0h0m6.6 0h0m2.4 0h0m6.4 0h0m4 0h0m1.9 0h0m7 0h0m0.3 0h0m9.1 0h0m0.1 0h0m33.6 0h0m17.4 0h0m8.4 0h0m9.6 0h0m1 0h0m1.6 0h0m6.7 0h0m12.4 0h0m0.4 0h0m39.9 0h0m1.4 0h0m1.5 0h0m1 0h0m3 0h0m278.8 0h0m2 0h0M169 911.7h0m4.8 0h0m1 0h0m2.5 0h0m0.9 0h0m0.3 0h0m0.8 0h0m28.4 0h0m5.7 0h0m4.6 0h0m0.3 0h0m11.5 0h0m4.2 0h0m5.6 0h0m2.7 0h0m121.5 0h0m4.4 0h0m5.7 0h0m2 0h0m16.2 0h0m2.9 0h0m7.9 0h0m0.7 0h0m4.2 0h0m3.1 0h0m4.5 0h0m11.1 0h0m11.8 0h0m8.9 0h0m205.9 0h0M189.1 897.9h0m1.8 0h0m1.6 0h0m17.7 0h0m3.8 0h0m0.2 0h0m2.1 0h0m4.6 0h0m12 0h0m7.5 0h0m4.1 0h0m74.8 0h0m10.1 0h0m32.6 0h0m0.5 0h0m1.1 0h0m2.1 0h0m1.4 0h0m3.4 0h0m0.2 0h0m5.5 0h0m1 0h0m0.9 0h0m0.3 0h0m14.1 0h0m3.2 0h0m14.3 0h0m3.7 0h0m2.3 0h0m3.2 0h0m0.5 0h0m2.9 0h0m3.8 0h0m5.1 0h0m0.3 0h0m1.4 0h0m1.4 0h0m5.2 0h0m12 0h0m1.7 0h0m2.6 0h0m96.6 0h0m127.1 0h0m1.5 0h0M182 884h0m27.1 0h0m1.6 0h0m4.8 0h0m1.8 0h0m8.1 0h0m5.9 0h0m1.5 0h0m9.7 0h0m4.9 0h0m110 0h0m0.4 0h0m9.5 0h0m0.3 0h0m5.6 0h0m5.6 0h0m31.4 0h0m6.5 0h0m0.2 0h0m0.1 0h0m10.4 0h0m9.5 0h0m8.8 0h0m6.6 0h0m0.6 0h0m84.7 0h0M215.5 870.1h0m0.5 0h0m155.7 0h0m3.1 0h0m4.1 0h0m4.3 0h0m4.8 0h0m6.2 0h0m2.6 0h0m17.8 0h0m0.4 0h0m3.4 0h0m9.7 0h0m16.8 0h0m1.5 0h0m3.6 0h0m0.7 0h0m4.1 0h0m0.3 0h0m2.2 0h0m127.6 0h0M201.9 856.3h0m33.8 0h0m3 0h0m135.4 0h0m47.6 0h0m7.1 0h0m17.9 0h0m4.1 0h0m1.6 0h0m5.8 0h0m24.1 0h0m71.5 0h0m28.6 0h0m8.2 0h0m22 0h0m1.2 0h0m19.7 0h0m4.6 0h0m5.9 0h0m4.4 0h0m0.3 0h0m6.9 0h0m10.4 0h0m5.5 0h0m2.6 0h0m1.6 0h0m2.6 0h0m0.5 0h0M532.3 842.5h0m2 0h0m1 0h0m11.8 0h0m7.2 0h0m8 0h0m13.5 0h0m29.4 0h0m7.1 0h0m2.4 0h0m3.6 0h0m3 0h0m0.7 0h0m5.8 0h0m1.9 0h0m12.4 0h0m4.3 0h0m3.3 0h0m0.8 0h0m5 0h0m8.1 0h0m2.9 0h0m10.2 0h0m2.3 0h0M455.5 828.6h0m4.4 0h0m4.7 0h0m35.4 0h0m20.6 0h0m0.9 0h0m7.1 0h0m0.6 0h0m8.1 0h0m4 0h0m0.7 0h0m3.2 0h0m0.7 0h0m0.6 0h0m1.2 0h0m1.3 0h0m2.3 0h0m8.8 0h0m9.6 0h0m13 0h0m2.1 0h0m0.7 0h0m0 0h0m9.3 0h0m2.1 0h0m4.4 0h0m3.1 0h0m6.9 0h0m7.9 0h0m0.9 0h0m7.3 0h0m7.4 0h0m0.8 0h0m5.5 0h0m0.5 0h0m4.8 0h0m1.1 0h0m5.7 0h0m5.9 0h0m3.8 0h0m1.5 0h0m4.5 0h0m0.3 0h0m3.4 0h0m5.5 0h0M412.9 814.8h0m49.8 0h0m26.2 0h0m1.4 0h0m3 0h0m2.4 0h0m15.5 0h0m13.1 0h0m1.4 0h0m1.4 0h0m4.9 0h0m3.6 0h0m7.1 0h0m0.9 0h0m0.6 0h0m6.7 0h0m10.3 0h0m3.1 0h0m10 0h0m9.6 0h0m0.4 0h0m2.8 0h0m0.8 0h0m3.4 0h0m2 0h0m3 0h0m6.3 0h0m4.6 0h0m0.1 0h0m2.2 0h0m4 0h0m10.3 0h0m2.3 0h0m0.6 0h0m0.3 0h0m8 0h0m2.4 0h0m5.9 0h0m1.2 0h0m5.6 0h0m0.6 0h0m2.8 0h0m1.2 0h0m1.7 0h0m1.8 0h0m6.6 0h0M457.8 800.9h0m5.3 0h0m3.3 0h0m26.2 0h0m4.7 0h0m1.2 0h0m2.1 0h0m11.1 0h0m24.3 0h0m2.7 0h0m11.5 0h0m3.4 0h0m4.8 0h0m0.6 0h0m4 0h0m6.1 0h0m0.5 0h0m0.5 0h0m14.9 0h0m1.5 0h0m1.5 0h0m5.7 0h0m5.1 0h0m7 0h0m0.6 0h0m2.4 0h0m1.5 0h0m9.3 0h0m10.7 0h0m11.5 0h0m2.4 0h0m1.6 0h0m3.7 0h0m30.9 0h0M487.3 787.1h0m2 0h0m7.5 0h0m8.5 0h0m2.1 0h0m8.8 0h0m7.7 0h0m3.2 0h0m0.9 0h0m34.7 0h0m5.5 0h0m11 0h0m6.8 0h0m39 0h0m2.7 0h0m27.6 0h0M463.9 773.2h0m0.1 0h0m3 0h0m10.8 0h0m3.3 0h0m7.7 0h0m10.5 0h0m0.9 0h0m3.7 0h0m2.3 0h0m2 0h0m0.3 0h0m4.8 0h0m0.9 0h0m42 0h0m41.5 0h0M462.4 759.4h0m16.1 0h0m0.4 0h0m2.1 0h0m1 0h0m3.1 0h0m3.9 0h0m5.9 0h0m15.4 0h0m65.1 0h0m40.9 0h0M463.6 745.5h0m1.1 0h0m2.2 0h0m3.1 0h0m5.9 0h0m30.2 0h0M468.9 731.6h0m5.9 0h0M469.6 717.8h0M469.2 704h0m7.8 0h0M465.8 690.1h0m0.6 0h0M469.9 662.4h0" stroke="#e3120b" stroke-opacity="0.23" stroke-width="10" stroke-linecap="round" fill="none"/><path d="M819.3 1230.2h0M789.2 1174.8h0m36.9 0h0M786 1161h0m43.3 0h0m3.9 0h0m4.3 0h0m5.4 0h0m1.5 0h0m1.8 0h0M794.2 1147.2h0m4.2 0h0m17.7 0h0m6.6 0h0m9.6 0h0m1.7 0h0m6 0h0m2.5 0h0m0.1 0h0m4.9 0h0M791.7 1133.3h0m1.7 0h0m7 0h0m5.2 0h0m0.5 0h0m5.7 0h0m7.8 0h0m0.7 0h0m0.4 0h0m7.2 0h0m3.1 0h0m0.5 0h0m4.6 0h0m4.9 0h0m1.5 0h0m2.1 0h0m1.1 0h0m0.6 0h0m1.4 0h0M746.5 1119.5h0m17.2 0h0m4.2 0h0m10.6 0h0m3.9 0h0m11.2 0h0m0.5 0h0m1.5 0h0m14.1 0h0m0.5 0h0m1.6 0h0m4 0h0m2 0h0m4.6 0h0m2.4 0h0m0.1 0h0m2.2 0h0m8.3 0h0m8.5 0h0M760.1 1105.6h0m5.5 0h0m1.3 0h0m4.8 0h0m1.5 0h0m1.9 0h0m3.5 0h0m3.2 0h0m5.6 0h0m5 0h0m0.3 0h0m1.1 0h0m2.3 0h0m3.8 0h0m3.1 0h0m0.6 0h0m5 0h0m4.9 0h0m2 0h0m8.4 0h0M134.9 1091.8h0m607.4 0h0m2.4 0h0m5.6 0h0m1.9 0h0m4.6 0h0m1.3 0h0m0.6 0h0m5.5 0h0m18.1 0h0m1.6 0h0m0.9 0h0m6.7 0h0m0.8 0h0m7.8 0h0m10.6 0h0M358.1 1077.9h0m364.7 0h0m14.9 0h0m4.4 0h0m6.1 0h0m3.4 0h0m2.1 0h0m9.8 0h0m13.2 0h0m13 0h0m12 0h0m4.8 0h0m2.4 0h0m1 0h0M735.9 1064h0m2.6 0h0m5 0h0m9.8 0h0m9.9 0h0m12.8 0h0m20.1 0h0M127.9 1050.2h0m4 0h0m15.6 0h0m146.7 0h0m424.6 0h0m8.1 0h0m0.3 0h0m0.8 0h0m1.8 0h0m2.6 0h0m2.6 0h0m0.3 0h0m0.7 0h0m4.8 0h0m1 0h0M132.8 1036.3h0m576.6 0h0m1.7 0h0m14.3 0h0m3.6 0h0m4.2 0h0m11.6 0h0M117.8 1022.5h0m12.5 0h0m8.5 0h0m141.9 0h0m7.9 0h0m422.3 0h0m1.1 0h0m0.8 0h0m4.3 0h0m2.4 0h0m0.3 0h0m3.5 0h0m0.8 0h0m0.4 0h0m1.5 0h0m0.2 0h0m1.5 0h0m6.7 0h0M129 1008.7h0m6.6 0h0m12.3 0h0m5.2 0h0m33.9 0h0m93.2 0h0m7.7 0h0m6.4 0h0m23.4 0h0m389.7 0h0m1.6 0h0m0.9 0h0m1.6 0h0m5.9 0h0m3.4 0h0m0.7 0h0M128.9 994.8h0m24.6 0h0m1.2 0h0m0.3 0h0m4 0h0m102 0h0m1.1 0h0m18.8 0h0m10.5 0h0m6.6 0h0m3.1 0h0m8.6 0h0m4.5 0h0m6.6 0h0m386.9 0h0m4.3 0h0M117 981h0m49.7 0h0m106.2 0h0m10.4 0h0m9 0h0m8.3 0h0m0.6 0h0m2.6 0h0m0.5 0h0m5.8 0h0m1.9 0h0m6.7 0h0m1.8 0h0m4.1 0h0m3.8 0h0m2.3 0h0m0.7 0h0m10.1 0h0m5.8 0h0m352.5 0h0m4.5 0h0m1.7 0h0m0.5 0h0m9.3 0h0M201.2 967.1h0m67 0h0m1.8 0h0m2.2 0h0m7.5 0h0m3.9 0h0m1.2 0h0m0.3 0h0m1.3 0h0m0.9 0h0m4.1 0h0m1.8 0h0m6 0h0m9.5 0h0m3.8 0h0m1.7 0h0m2.4 0h0m2.9 0h0m5.7 0h0m4.7 0h0m5 0h0m7.9 0h0m1.9 0h0m1.3 0h0m6 0h0m0.5 0h0m326.6 0h0m22.3 0h0m14.9 0h0m20.2 0h0M165.6 953.2h0m0.7 0h0m1.3 0h0m12.4 0h0m5 0h0m0.8 0h0m8.9 0h0m2.3 0h0m30.7 0h0m29 0h0m5.8 0h0m3.5 0h0m3.9 0h0m4 0h0m1 0h0m11 0h0m13.4 0h0m0.3 0h0m6.6 0h0m3.3 0h0m1.5 0h0m7.3 0h0m16.3 0h0m14.1 0h0m1.2 0h0m6 0h0m35.9 0h0m307.2 0h0m5.8 0h0M178.7 939.4h0m0.5 0h0m0.5 0h0m5.9 0h0m1.9 0h0m17.8 0h0m2.9 0h0m7.8 0h0m16.7 0h0m2.3 0h0m1.2 0h0m0.7 0h0m6.3 0h0m4.6 0h0m5.7 0h0m8.9 0h0m0.8 0h0m6 0h0m0.5 0h0m5.1 0h0m15.7 0h0m24.5 0h0m2 0h0m10.2 0h0m5 0h0m3.4 0h0m10.1 0h0m1.7 0h0m5.7 0h0m2.1 0h0m8 0h0m316.9 0h0m19.4 0h0m1.6 0h0m3 0h0m2.1 0h0M176.2 925.6h0m6.3 0h0m1.4 0h0m1 0h0m4.2 0h0m5 0h0m2.5 0h0m3.7 0h0m3.2 0h0m2.5 0h0m26.4 0h0m2.2 0h0m2.4 0h0m0.5 0h0m11.4 0h0m1.2 0h0m0.6 0h0m3.1 0h0m1.3 0h0m2 0h0m7.4 0h0m41 0h0m2.3 0h0m23.1 0h0m24.8 0h0m6.7 0h0m0.2 0h0m6.3 0h0m3 0h0m10 0h0m10.7 0h0m5.5 0h0m8.7 0h0m1.3 0h0m36.7 0h0m182.9 0h0m31.5 0h0m21.5 0h0M172.1 911.7h0m2.8 0h0m7.5 0h0m2.1 0h0m5 0h0m2 0h0m0.5 0h0m7.4 0h0m4.9 0h0m15.1 0h0m3.9 0h0m4.7 0h0m4.7 0h0m11.7 0h0m2.3 0h0m6.7 0h0m1.1 0h0m13.9 0h0m4.9 0h0m12.9 0h0m67.4 0h0m7.3 0h0m3 0h0m0.2 0h0m2.1 0h0m8.9 0h0m0.6 0h0m4.2 0h0m10.2 0h0m0.4 0h0m6.1 0h0m15.7 0h0m7.2 0h0m5.6 0h0m3.7 0h0m2.2 0h0m3.6 0h0m1.6 0h0m5.9 0h0m110 0h0m155.8 0h0M166.1 897.9h0m16.6 0h0m0.3 0h0m6 0h0m2.1 0h0m5.8 0h0m3.4 0h0m4.7 0h0m7.2 0h0m0.3 0h0m4.6 0h0m4.8 0h0m13.8 0h0m8 0h0m29 0h0m49.1 0h0m39.7 0h0m3.4 0h0m3 0h0m16.8 0h0m1 0h0m1.3 0h0m1.7 0h0m0.5 0h0m4.6 0h0m8.2 0h0m4.7 0h0m4.8 0h0m7.9 0h0m1.1 0h0m9.4 0h0m3.8 0h0m5.2 0h0m9.8 0h0m94.3 0h0m97 0h0M201.4 884h0m7.1 0h0m4.5 0h0m1.8 0h0m0.2 0h0m0.9 0h0m4.1 0h0m1 0h0m2.9 0h0m2.7 0h0m8.4 0h0m11.3 0h0m131.5 0h0m6.1 0h0m5.6 0h0m0 0h0m0.3 0h0m1.9 0h0m2.2 0h0m6.5 0h0m0.3 0h0m9.2 0h0m8.7 0h0m2.7 0h0m2.1 0h0m0.3 0h0m14 0h0m3.7 0h0m0.2 0h0m1.8 0h0m0.7 0h0m1.1 0h0m4 0h0m0.3 0h0m171.1 0h0m7.7 0h0M183 870.1h0m38.7 0h0m27 0h0m117.3 0h0m6.9 0h0m4.5 0h0m1.8 0h0m2.2 0h0m0.4 0h0m0.9 0h0m9.5 0h0m4.3 0h0m10.7 0h0m2 0h0m8.6 0h0m9.2 0h0m2.5 0h0m11.6 0h0m14 0h0m0.6 0h0m78.9 0h0m5 0h0m9.9 0h0m73.6 0h0m40.6 0h0m16.6 0h0M366.9 856.3h0m13.2 0h0m28.5 0h0m2.1 0h0m3.2 0h0m25.3 0h0m7 0h0m10.1 0h0m95.3 0h0m30.7 0h0m32.5 0h0m0.2 0h0m4 0h0m0.9 0h0m6.6 0h0m12.9 0h0m35.7 0h0m2.2 0h0m2.3 0h0m1.7 0h0M170.4 842.5h0m206.2 0h0m29 0h0m28.7 0h0m97 0h0m0.7 0h0m0.4 0h0m12.8 0h0m0.2 0h0m2.6 0h0m9.8 0h0m19.7 0h0m0.6 0h0m2 0h0m1.7 0h0m2.8 0h0m4.7 0h0m2.6 0h0m16.6 0h0m1.1 0h0m10.9 0h0m5.6 0h0m2.7 0h0m29.6 0h0m2.5 0h0m16.5 0h0M229.4 828.6h0m272.5 0h0m4.8 0h0m22 0h0m1.4 0h0m2.7 0h0m6.5 0h0m3.5 0h0m0.9 0h0m1 0h0m2.2 0h0m9.3 0h0m1.8 0h0m3.2 0h0m5.4 0h0m0.9 0h0m3.4 0h0m0.3 0h0m1.2 0h0m6.4 0h0m7.3 0h0m1.6 0h0m4.2 0h0m12.2 0h0m7.8 0h0m6.1 0h0m7.3 0h0m0.4 0h0m5.4 0h0m1.1 0h0m5.7 0h0m2.8 0h0m2.2 0h0m19.6 0h0m1.1 0h0m3.8 0h0m0.7 0h0m2.8 0h0m1.9 0h0m0.7 0h0m0.5 0h0m2.6 0h0M459.5 814.8h0m2.9 0h0m39.6 0h0m10.1 0h0m10.2 0h0m3.6 0h0m1.7 0h0m3 0h0m0.3 0h0m0.7 0h0m0.7 0h0m1 0h0m1.8 0h0m2.9 0h0m2.8 0h0m3.3 0h0m5.7 0h0m10 0h0m0.6 0h0m2.8 0h0m15.6 0h0m1 0h0m3.6 0h0m3.4 0h0m7.2 0h0m6.6 0h0m8.7 0h0m10.8 0h0m13.2 0h0m3 0h0m0.1 0h0m1 0h0m1.1 0h0m0.3 0h0m10 0h0m7.2 0h0m3.7 0h0m4.8 0h0m13.2 0h0M488 800.9h0m0.3 0h0m4.9 0h0m3.9 0h0m8 0h0m4.6 0h0m7.6 0h0m0.3 0h0m1.9 0h0m1.3 0h0m1.8 0h0m0.5 0h0m1.6 0h0m2.9 0h0m2 0h0m12.2 0h0m8.8 0h0m11.2 0h0m2.7 0h0m1.6 0h0m0.5 0h0m2.1 0h0m3 0h0m0.7 0h0m2.1 0h0m0.4 0h0m13.9 0h0m3.5 0h0m4.4 0h0m1.9 0h0m3.8 0h0m2.5 0h0m4.1 0h0m4.2 0h0m23.4 0h0m3.2 0h0m1.6 0h0m9.7 0h0m9 0h0m4.8 0h0m7.7 0h0M463.7 787.1h0m21.2 0h0m1.6 0h0m0.2 0h0m0.5 0h0m5.3 0h0m2.9 0h0m20.1 0h0m5 0h0m12.3 0h0m65.4 0h0m2.9 0h0m6.5 0h0m9.2 0h0m30.1 0h0m23.7 0h0M477.6 773.2h0m2.1 0h0m3.9 0h0m7 0h0m1.5 0h0m13.5 0h0m5 0h0m2.4 0h0m14.1 0h0m38.5 0h0m28.9 0h0m11.4 0h0m5.5 0h0m21.6 0h0M475.4 759.4h0m0.9 0h0m2.8 0h0m10.7 0h0m0.2 0h0m17.8 0h0m4.3 0h0m2.5 0h0m3.9 0h0M462.4 745.5h0m3.8 0h0m3 0h0m1.3 0h0m6.1 0h0m3 0h0m42.4 0h0M466.3 731.6h0m3 0h0m0.3 0h0m2.4 0h0m5.6 0h0m23.3 0h0m15.8 0h0M465.9 717.8h0m4.4 0h0m1.3 0h0m1.8 0h0m8.3 0h0m26.5 0h0M467.7 704h0m3.2 0h0m4.2 0h0m1.8 0h0M475.9 690.1h0M468.6 648.6h0" stroke="#e3120b" stroke-opacity="0.23" stroke-width="10" stroke-linecap="round" fill="none"/></g><path d="M118.8 1359.2C124 1361 140.6 1367.9 150 1369.9C159.4 1371.9 166.7 1371.6 175 1371.2C183.3 1370.9 191.7 1369 200 1367.5C208.3 1366 216.7 1364.4 225 1362.5C233.3 1360.6 241.7 1358.3 250 1356.2C258.3 1354.2 266.7 1352.1 275 1350C283.3 1347.9 291.7 1345.1 300 1343.5C308.3 1341.9 316.7 1341.1 325 1340.5C333.3 1339.9 342.5 1339.7 350 1340C357.5 1340.3 358.3 1341.2 370 1342.5C381.7 1343.8 403.3 1345.7 420 1347.5C436.7 1349.3 453.3 1352.2 470 1353.5C486.7 1354.8 503.3 1355.3 520 1355C536.7 1354.7 553.3 1353.2 570 1351.5C586.7 1349.8 601.7 1346.5 620 1345C638.3 1343.5 670 1342.9 680 1342.5L680 1367.5C670 1367.9 638.3 1368.5 620 1370C601.7 1371.5 586.7 1374.8 570 1376.5C553.3 1378.2 536.7 1379.7 520 1380C503.3 1380.3 486.7 1379.8 470 1378.5C453.3 1377.2 436.7 1374.3 420 1372.5C403.3 1370.7 381.7 1368.8 370 1367.5C358.3 1366.2 357.5 1365.3 350 1365C342.5 1364.7 333.3 1364.9 325 1365.5C316.7 1366.1 308.3 1366.9 300 1368.5C291.7 1370.1 283.3 1372.9 275 1375C266.7 1377.1 258.3 1379.2 250 1381.2C241.7 1383.3 233.3 1385.6 225 1387.5C216.7 1389.4 208.3 1391 200 1392.5C191.7 1394 183.3 1395.1 175 1396.2C166.7 1397.4 159.4 1397.1 150 1399.1C140.6 1401.1 124 1406.7 118.8 1408.2Z" fill="#64c832" fill-opacity="0.13"/><path d="M118.8 1359.2C124 1361 140.6 1367.9 150 1369.9C159.4 1371.9 166.7 1371.6 175 1371.2C183.3 1370.9 191.7 1369 200 1367.5C208.3 1366 216.7 1364.4 225 1362.5C233.3 1360.6 241.7 1358.3 250 1356.2C258.3 1354.2 266.7 1352.1 275 1350C283.3 1347.9 291.7 1345.1 300 1343.5C308.3 1341.9 316.7 1341.1 325 1340.5C333.3 1339.9 342.5 1339.7 350 1340C357.5 1340.3 358.3 1341.2 370 1342.5C381.7 1343.8 403.3 1345.7 420 1347.5C436.7 1349.3 453.3 1352.2 470 1353.5C486.7 1354.8 503.3 1355.3 520 1355C536.7 1354.7 553.3 1353.2 570 1351.5C586.7 1349.8 601.7 1346.5 620 1345C638.3 1343.5 670 1342.9 680 1342.5" fill="none" stroke="#5fbc38" stroke-width="2.3" stroke-dasharray="17 8"/><path d="M118.8 1408.2C124 1406.7 140.6 1401.1 150 1399.1C159.4 1397.1 166.7 1397.4 175 1396.2C183.3 1395.1 191.7 1394 200 1392.5C208.3 1391 216.7 1389.4 225 1387.5C233.3 1385.6 241.7 1383.3 250 1381.2C258.3 1379.2 266.7 1377.1 275 1375C283.3 1372.9 291.7 1370.1 300 1368.5C308.3 1366.9 316.7 1366.1 325 1365.5C333.3 1364.9 342.5 1364.7 350 1365C357.5 1365.3 358.3 1366.2 370 1367.5C381.7 1368.8 403.3 1370.7 420 1372.5C436.7 1374.3 453.3 1377.2 470 1378.5C486.7 1379.8 503.3 1380.3 520 1380C536.7 1379.7 553.3 1378.2 570 1376.5C586.7 1374.8 601.7 1371.5 620 1370C638.3 1368.5 670 1367.9 680 1367.5" fill="none" stroke="#5fbc38" stroke-width="2.3" stroke-dasharray="17 8"/><path d="M697.2 1314.5C699.2 1314.9 703.9 1315.9 708.9 1316.7C713.9 1317.6 721 1319.9 727 1319.4C733 1318.9 738.9 1315.6 745.2 1313.5C751.5 1311.4 759 1308.7 765 1306.5C771 1304.3 773.6 1302.8 781.5 1300.5C789.4 1298.2 804.5 1294.5 812.6 1292.5C820.7 1290.5 824.2 1289.8 830 1288.5C835.8 1287.2 844.7 1285.6 847.6 1285L847.6 1310C844.7 1310.6 835.8 1312.2 830 1313.5C824.2 1314.8 820.7 1315.5 812.6 1317.5C804.5 1319.5 789.4 1323.2 781.5 1325.5C773.6 1327.8 771 1329.3 765 1331.5C759 1333.7 751.5 1336.3 745.2 1338.5C738.9 1340.7 733 1340.8 727 1344.6C721 1348.4 713.9 1356.8 708.9 1361.3C703.9 1365.7 699.2 1369.8 697.2 1371.5Z" fill="#64c832" fill-opacity="0.13"/><path d="M697.2 1314.5C699.2 1314.9 703.9 1315.9 708.9 1316.7C713.9 1317.6 721 1319.9 727 1319.4C733 1318.9 738.9 1315.6 745.2 1313.5C751.5 1311.4 759 1308.7 765 1306.5C771 1304.3 773.6 1302.8 781.5 1300.5C789.4 1298.2 804.5 1294.5 812.6 1292.5C820.7 1290.5 824.2 1289.8 830 1288.5C835.8 1287.2 844.7 1285.6 847.6 1285" fill="none" stroke="#5fbc38" stroke-width="2.3" stroke-dasharray="17 8"/><path d="M697.2 1371.5C699.2 1369.8 703.9 1365.7 708.9 1361.3C713.9 1356.8 721 1348.4 727 1344.6C733 1340.8 738.9 1340.7 745.2 1338.5C751.5 1336.3 759 1333.7 765 1331.5C771 1329.3 773.6 1327.8 781.5 1325.5C789.4 1323.2 804.5 1319.5 812.6 1317.5C820.7 1315.5 824.2 1314.8 830 1313.5C835.8 1312.2 844.7 1310.6 847.6 1310" fill="none" stroke="#5fbc38" stroke-width="2.3" stroke-dasharray="17 8"/><path d="M118.8 1262.5C121 1266.4 127.3 1277.2 132.5 1285.9C137.7 1294.6 143.8 1307.9 150 1314.7C156.2 1321.4 161.7 1323.9 170 1326.2C178.3 1328.6 188.8 1327.6 200 1328.5C211.2 1329.4 227.1 1331.5 237.5 1331.5C247.9 1331.5 255.4 1330 262.5 1328.5C269.6 1327 273.8 1326 280 1322.5C286.2 1319 293.3 1311.2 300 1307.5C306.7 1303.8 313.3 1301.5 320 1300C326.7 1298.5 333.8 1299.8 340 1298.5C346.2 1297.2 352.5 1294.5 357.5 1292.5C362.5 1290.5 364.6 1287.3 370 1286.5C375.4 1285.7 383.8 1288.6 390 1287.5C396.2 1286.4 402.5 1283.8 407.5 1280C412.5 1276.2 415.4 1268.6 420 1265C424.6 1261.4 430 1258.5 435 1258.5C440 1258.5 445 1261 450 1265C455 1269 460.4 1277.1 465 1282.5C469.6 1287.9 472.5 1294.2 477.5 1297.5C482.5 1300.8 488.8 1302.1 495 1302.5C501.2 1302.9 508.8 1302.5 515 1300C521.2 1297.5 526.7 1291.2 532.5 1287.5C538.3 1283.8 543.8 1279.6 550 1277.5C556.2 1275.4 562.5 1275.3 570 1275C577.5 1274.7 587.5 1274.9 595 1275.5C602.5 1276.1 609.2 1276.9 615 1278.5C620.8 1280.1 625.8 1283.5 630 1285C634.2 1286.5 635 1286.6 640 1287.5C645 1288.4 653.3 1290 660 1290.5C666.7 1291 676.7 1290.5 680 1290.5L680 1315.5C676.7 1315.5 666.7 1316 660 1315.5C653.3 1315 645 1313.4 640 1312.5C635 1311.6 634.2 1311.5 630 1310C625.8 1308.5 620.8 1305.1 615 1303.5C609.2 1301.9 602.5 1301.1 595 1300.5C587.5 1299.9 577.5 1299.7 570 1300C562.5 1300.3 556.2 1300.4 550 1302.5C543.8 1304.6 538.3 1308.8 532.5 1312.5C526.7 1316.2 521.2 1322.5 515 1325C508.8 1327.5 501.2 1327.9 495 1327.5C488.8 1327.1 482.5 1325.8 477.5 1322.5C472.5 1319.2 469.6 1312.9 465 1307.5C460.4 1302.1 455 1294 450 1290C445 1286 440 1283.5 435 1283.5C430 1283.5 424.6 1286.4 420 1290C415.4 1293.6 412.5 1301.2 407.5 1305C402.5 1308.8 396.2 1311.4 390 1312.5C383.8 1313.6 375.4 1310.7 370 1311.5C364.6 1312.3 362.5 1315.5 357.5 1317.5C352.5 1319.5 346.2 1322.2 340 1323.5C333.8 1324.8 326.7 1323.5 320 1325C313.3 1326.5 306.7 1328.8 300 1332.5C293.3 1336.2 286.2 1344 280 1347.5C273.8 1351 269.6 1352 262.5 1353.5C255.4 1355 247.9 1356.5 237.5 1356.5C227.1 1356.5 211.2 1354.4 200 1353.5C188.8 1352.6 178.3 1351.8 170 1351.2C161.7 1350.7 156.2 1350.7 150 1350.3C143.8 1350 137.7 1349.6 132.5 1349.1C127.3 1348.7 121 1347.8 118.8 1347.5Z" fill="#f7891f" fill-opacity="0.13"/><path d="M118.8 1262.5C121 1266.4 127.3 1277.2 132.5 1285.9C137.7 1294.6 143.8 1307.9 150 1314.7C156.2 1321.4 161.7 1323.9 170 1326.2C178.3 1328.6 188.8 1327.6 200 1328.5C211.2 1329.4 227.1 1331.5 237.5 1331.5C247.9 1331.5 255.4 1330 262.5 1328.5C269.6 1327 273.8 1326 280 1322.5C286.2 1319 293.3 1311.2 300 1307.5C306.7 1303.8 313.3 1301.5 320 1300C326.7 1298.5 333.8 1299.8 340 1298.5C346.2 1297.2 352.5 1294.5 357.5 1292.5C362.5 1290.5 364.6 1287.3 370 1286.5C375.4 1285.7 383.8 1288.6 390 1287.5C396.2 1286.4 402.5 1283.8 407.5 1280C412.5 1276.2 415.4 1268.6 420 1265C424.6 1261.4 430 1258.5 435 1258.5C440 1258.5 445 1261 450 1265C455 1269 460.4 1277.1 465 1282.5C469.6 1287.9 472.5 1294.2 477.5 1297.5C482.5 1300.8 488.8 1302.1 495 1302.5C501.2 1302.9 508.8 1302.5 515 1300C521.2 1297.5 526.7 1291.2 532.5 1287.5C538.3 1283.8 543.8 1279.6 550 1277.5C556.2 1275.4 562.5 1275.3 570 1275C577.5 1274.7 587.5 1274.9 595 1275.5C602.5 1276.1 609.2 1276.9 615 1278.5C620.8 1280.1 625.8 1283.5 630 1285C634.2 1286.5 635 1286.6 640 1287.5C645 1288.4 653.3 1290 660 1290.5C666.7 1291 676.7 1290.5 680 1290.5" fill="none" stroke="#ec8f3e" stroke-width="2.3" stroke-dasharray="17 8"/><path d="M118.8 1347.5C121 1347.8 127.3 1348.7 132.5 1349.1C137.7 1349.6 143.8 1350 150 1350.3C156.2 1350.7 161.7 1350.7 170 1351.2C178.3 1351.8 188.8 1352.6 200 1353.5C211.2 1354.4 227.1 1356.5 237.5 1356.5C247.9 1356.5 255.4 1355 262.5 1353.5C269.6 1352 273.8 1351 280 1347.5C286.2 1344 293.3 1336.2 300 1332.5C306.7 1328.8 313.3 1326.5 320 1325C326.7 1323.5 333.8 1324.8 340 1323.5C346.2 1322.2 352.5 1319.5 357.5 1317.5C362.5 1315.5 364.6 1312.3 370 1311.5C375.4 1310.7 383.8 1313.6 390 1312.5C396.2 1311.4 402.5 1308.8 407.5 1305C412.5 1301.2 415.4 1293.6 420 1290C424.6 1286.4 430 1283.5 435 1283.5C440 1283.5 445 1286 450 1290C455 1294 460.4 1302.1 465 1307.5C469.6 1312.9 472.5 1319.2 477.5 1322.5C482.5 1325.8 488.8 1327.1 495 1327.5C501.2 1327.9 508.8 1327.5 515 1325C521.2 1322.5 526.7 1316.2 532.5 1312.5C538.3 1308.8 543.8 1304.6 550 1302.5C556.2 1300.4 562.5 1300.3 570 1300C577.5 1299.7 587.5 1299.9 595 1300.5C602.5 1301.1 609.2 1301.9 615 1303.5C620.8 1305.1 625.8 1308.5 630 1310C634.2 1311.5 635 1311.6 640 1312.5C645 1313.4 653.3 1315 660 1315.5C666.7 1316 676.7 1315.5 680 1315.5" fill="none" stroke="#ec8f3e" stroke-width="2.3" stroke-dasharray="17 8"/><path d="M697.2 1239.5C699.2 1240.3 702.6 1241.7 708.9 1244C715.2 1246.4 727 1251.7 734.8 1253.8C742.6 1255.9 748.7 1258.1 755.6 1256.4C762.5 1254.7 770.2 1247.4 776.3 1243.5C782.3 1239.6 786.7 1234.8 791.9 1233.1C797.1 1231.4 801.3 1232.2 807.4 1233.1C813.5 1234 821.5 1237 828.2 1238.3C834.9 1239.6 844.4 1240.5 847.6 1240.9L847.6 1265.9C844.4 1265.5 834.9 1264.6 828.2 1263.3C821.5 1262 813.5 1259 807.4 1258.1C801.3 1257.2 797.1 1256.4 791.9 1258.1C786.7 1259.8 782.3 1264.6 776.3 1268.5C770.2 1272.4 762.5 1279.7 755.6 1281.4C748.7 1283.1 742.6 1277.6 734.8 1278.8C727 1280 715.2 1285.6 708.9 1288.6C702.6 1291.5 699.2 1295.2 697.2 1296.5Z" fill="#f7891f" fill-opacity="0.13"/><path d="M697.2 1239.5C699.2 1240.3 702.6 1241.7 708.9 1244C715.2 1246.4 727 1251.7 734.8 1253.8C742.6 1255.9 748.7 1258.1 755.6 1256.4C762.5 1254.7 770.2 1247.4 776.3 1243.5C782.3 1239.6 786.7 1234.8 791.9 1233.1C797.1 1231.4 801.3 1232.2 807.4 1233.1C813.5 1234 821.5 1237 828.2 1238.3C834.9 1239.6 844.4 1240.5 847.6 1240.9" fill="none" stroke="#ec8f3e" stroke-width="2.3" stroke-dasharray="17 8"/><path d="M697.2 1296.5C699.2 1295.2 702.6 1291.5 708.9 1288.6C715.2 1285.6 727 1280 734.8 1278.8C742.6 1277.6 748.7 1283.1 755.6 1281.4C762.5 1279.7 770.2 1272.4 776.3 1268.5C782.3 1264.6 786.7 1259.8 791.9 1258.1C797.1 1256.4 801.3 1257.2 807.4 1258.1C813.5 1259 821.5 1262 828.2 1263.3C834.9 1264.6 844.4 1265.5 847.6 1265.9" fill="none" stroke="#ec8f3e" stroke-width="2.3" stroke-dasharray="17 8"/><path d="M118.8 1343C121 1347.6 128.1 1363 132.5 1370.7C136.9 1378.4 140 1384 145 1389C150 1394 156.2 1398.9 162.5 1400.5C168.8 1402.1 176.2 1400 182.5 1398.5C188.8 1397 195 1393.8 200 1391.5C205 1389.2 208.3 1386.7 212.5 1385C216.7 1383.3 220.8 1381.5 225 1381.5C229.2 1381.5 233.3 1383.6 237.5 1385C241.7 1386.4 244.6 1388.9 250 1390C255.4 1391.1 262.9 1390.9 270 1391.5C277.1 1392.1 285.4 1394.2 292.5 1393.5C299.6 1392.8 305 1390 312.5 1387.5C320 1385 331.2 1380.3 337.5 1378.5C343.8 1376.7 345.8 1378.2 350 1376.5C354.2 1374.8 359.2 1368.7 362.5 1368.5C365.8 1368.3 366.2 1373.6 370 1375.5C373.8 1377.4 380 1379.7 385 1380C390 1380.3 394.2 1377.2 400 1377.5C405.8 1377.8 413.8 1381.1 420 1381.5C426.2 1381.9 431.7 1379.2 437.5 1380C443.3 1380.8 450.4 1386.1 455 1386.5C459.6 1386.9 461.7 1387.3 465 1382.5C468.3 1377.7 471.2 1364.6 475 1357.5C478.8 1350.4 482.5 1342.9 487.5 1340C492.5 1337.1 498.8 1339.4 505 1340C511.2 1340.6 518.3 1342.7 525 1343.5C531.7 1344.3 539.2 1345.6 545 1345C550.8 1344.4 555.3 1341.6 560 1340.1C564.7 1338.6 567.6 1337.5 573 1336.2C578.4 1334.9 587 1335.8 592.4 1332.3C597.8 1328.8 601.1 1321.5 605.4 1315.5C609.7 1309.5 614 1301.8 618.3 1296C622.6 1290.2 627 1285.9 631.3 1280.5C635.6 1275.1 640.2 1268.3 644.3 1263.5C648.4 1258.7 652.8 1253.2 656 1251.9C659.2 1250.6 661.1 1253.6 663.7 1255.8C666.3 1258 668.8 1264.6 671.5 1264.9C674.2 1265.2 678.6 1258.7 680 1257.5L680 1282.5C678.6 1283.7 674.2 1290.2 671.5 1289.9C668.8 1289.6 666.3 1283 663.7 1280.8C661.1 1278.6 659.2 1275.6 656 1276.9C652.8 1278.2 648.4 1283.7 644.3 1288.5C640.2 1293.3 635.6 1300.1 631.3 1305.5C627 1310.9 622.6 1315.2 618.3 1321C614 1326.8 609.7 1334.5 605.4 1340.5C601.1 1346.5 597.8 1353.8 592.4 1357.3C587 1360.8 578.4 1359.9 573 1361.2C567.6 1362.5 564.7 1363.6 560 1365.1C555.3 1366.6 550.8 1369.4 545 1370C539.2 1370.6 531.7 1369.3 525 1368.5C518.3 1367.7 511.2 1365.6 505 1365C498.8 1364.4 492.5 1362.1 487.5 1365C482.5 1367.9 478.8 1375.4 475 1382.5C471.2 1389.6 468.3 1402.7 465 1407.5C461.7 1412.3 459.6 1411.9 455 1411.5C450.4 1411.1 443.3 1405.8 437.5 1405C431.7 1404.2 426.2 1406.9 420 1406.5C413.8 1406.1 405.8 1402.8 400 1402.5C394.2 1402.2 390 1405.3 385 1405C380 1404.7 373.8 1402.4 370 1400.5C366.2 1398.6 365.8 1393.3 362.5 1393.5C359.2 1393.7 354.2 1399.8 350 1401.5C345.8 1403.2 343.8 1401.7 337.5 1403.5C331.2 1405.3 320 1410 312.5 1412.5C305 1415 299.6 1417.8 292.5 1418.5C285.4 1419.2 277.1 1417.1 270 1416.5C262.9 1415.9 255.4 1416.1 250 1415C244.6 1413.9 241.7 1411.4 237.5 1410C233.3 1408.6 229.2 1406.5 225 1406.5C220.8 1406.5 216.7 1408.3 212.5 1410C208.3 1411.7 205 1414.2 200 1416.5C195 1418.8 188.8 1422 182.5 1423.5C176.2 1425 168.8 1422.8 162.5 1425.5C156.2 1428.2 150 1436 145 1440C140 1444 136.9 1447.3 132.5 1449.3C128.1 1451.3 121 1451.6 118.8 1452Z" fill="#3bb9d3" fill-opacity="0.13"/><path d="M118.8 1343C121 1347.6 128.1 1363 132.5 1370.7C136.9 1378.4 140 1384 145 1389C150 1394 156.2 1398.9 162.5 1400.5C168.8 1402.1 176.2 1400 182.5 1398.5C188.8 1397 195 1393.8 200 1391.5C205 1389.2 208.3 1386.7 212.5 1385C216.7 1383.3 220.8 1381.5 225 1381.5C229.2 1381.5 233.3 1383.6 237.5 1385C241.7 1386.4 244.6 1388.9 250 1390C255.4 1391.1 262.9 1390.9 270 1391.5C277.1 1392.1 285.4 1394.2 292.5 1393.5C299.6 1392.8 305 1390 312.5 1387.5C320 1385 331.2 1380.3 337.5 1378.5C343.8 1376.7 345.8 1378.2 350 1376.5C354.2 1374.8 359.2 1368.7 362.5 1368.5C365.8 1368.3 366.2 1373.6 370 1375.5C373.8 1377.4 380 1379.7 385 1380C390 1380.3 394.2 1377.2 400 1377.5C405.8 1377.8 413.8 1381.1 420 1381.5C426.2 1381.9 431.7 1379.2 437.5 1380C443.3 1380.8 450.4 1386.1 455 1386.5C459.6 1386.9 461.7 1387.3 465 1382.5C468.3 1377.7 471.2 1364.6 475 1357.5C478.8 1350.4 482.5 1342.9 487.5 1340C492.5 1337.1 498.8 1339.4 505 1340C511.2 1340.6 518.3 1342.7 525 1343.5C531.7 1344.3 539.2 1345.6 545 1345C550.8 1344.4 555.3 1341.6 560 1340.1C564.7 1338.6 567.6 1337.5 573 1336.2C578.4 1334.9 587 1335.8 592.4 1332.3C597.8 1328.8 601.1 1321.5 605.4 1315.5C609.7 1309.5 614 1301.8 618.3 1296C622.6 1290.2 627 1285.9 631.3 1280.5C635.6 1275.1 640.2 1268.3 644.3 1263.5C648.4 1258.7 652.8 1253.2 656 1251.9C659.2 1250.6 661.1 1253.6 663.7 1255.8C666.3 1258 668.8 1264.6 671.5 1264.9C674.2 1265.2 678.6 1258.7 680 1257.5" fill="none" stroke="#3aaec6" stroke-width="2.3" stroke-dasharray="17 8"/><path d="M118.8 1452C121 1451.6 128.1 1451.3 132.5 1449.3C136.9 1447.3 140 1444 145 1440C150 1436 156.2 1428.2 162.5 1425.5C168.8 1422.8 176.2 1425 182.5 1423.5C188.8 1422 195 1418.8 200 1416.5C205 1414.2 208.3 1411.7 212.5 1410C216.7 1408.3 220.8 1406.5 225 1406.5C229.2 1406.5 233.3 1408.6 237.5 1410C241.7 1411.4 244.6 1413.9 250 1415C255.4 1416.1 262.9 1415.9 270 1416.5C277.1 1417.1 285.4 1419.2 292.5 1418.5C299.6 1417.8 305 1415 312.5 1412.5C320 1410 331.2 1405.3 337.5 1403.5C343.8 1401.7 345.8 1403.2 350 1401.5C354.2 1399.8 359.2 1393.7 362.5 1393.5C365.8 1393.3 366.2 1398.6 370 1400.5C373.8 1402.4 380 1404.7 385 1405C390 1405.3 394.2 1402.2 400 1402.5C405.8 1402.8 413.8 1406.1 420 1406.5C426.2 1406.9 431.7 1404.2 437.5 1405C443.3 1405.8 450.4 1411.1 455 1411.5C459.6 1411.9 461.7 1412.3 465 1407.5C468.3 1402.7 471.2 1389.6 475 1382.5C478.8 1375.4 482.5 1367.9 487.5 1365C492.5 1362.1 498.8 1364.4 505 1365C511.2 1365.6 518.3 1367.7 525 1368.5C531.7 1369.3 539.2 1370.6 545 1370C550.8 1369.4 555.3 1366.6 560 1365.1C564.7 1363.6 567.6 1362.5 573 1361.2C578.4 1359.9 587 1360.8 592.4 1357.3C597.8 1353.8 601.1 1346.5 605.4 1340.5C609.7 1334.5 614 1326.8 618.3 1321C622.6 1315.2 627 1310.9 631.3 1305.5C635.6 1300.1 640.2 1293.3 644.3 1288.5C648.4 1283.7 652.8 1278.2 656 1276.9C659.2 1275.6 661.1 1278.6 663.7 1280.8C666.3 1283 668.8 1289.6 671.5 1289.9C674.2 1290.2 678.6 1283.7 680 1282.5" fill="none" stroke="#3aaec6" stroke-width="2.3" stroke-dasharray="17 8"/><path d="M697.2 1162.5C699.2 1162.5 704.4 1162.1 708.9 1162.3C713.4 1162.6 720.1 1164.9 724.4 1164.2C728.7 1163.5 731.3 1163.3 734.8 1157.9C738.3 1152.5 741.7 1141.5 745.2 1132C748.7 1122.5 752 1108.2 755.6 1100.8C759.2 1093.4 763.1 1090.7 767 1087.5C770.9 1084.3 775.8 1084 779 1081.5C782.2 1079 783.8 1078.7 786 1072.5C788.2 1066.3 790.2 1053.6 792.5 1044.5C794.8 1035.4 797.1 1022.8 799.6 1017.9C802.1 1013 804.4 1015.3 807.4 1015.3C810.4 1015.3 814.3 1019.2 817.8 1017.9C821.3 1016.6 824.8 1010.4 828.2 1007.5C831.6 1004.6 834.8 1003 838 1000.5C841.2 998 846 993.8 847.6 992.5L847.6 1017.5C846 1018.8 841.2 1023 838 1025.5C834.8 1028 831.6 1029.6 828.2 1032.5C824.8 1035.4 821.3 1041.6 817.8 1042.9C814.3 1044.2 810.4 1040.3 807.4 1040.3C804.4 1040.3 802.1 1038 799.6 1042.9C797.1 1047.8 794.8 1060.4 792.5 1069.5C790.2 1078.6 788.2 1091.3 786 1097.5C783.8 1103.7 782.2 1104 779 1106.5C775.8 1109 770.9 1109.3 767 1112.5C763.1 1115.7 759.2 1118.4 755.6 1125.8C752 1133.2 748.7 1147.5 745.2 1157C741.7 1166.5 738.3 1177 734.8 1182.9C731.3 1188.8 728.7 1188.2 724.4 1192.2C720.1 1196.2 713.4 1202.3 708.9 1206.9C704.4 1211.4 699.2 1217.4 697.2 1219.5Z" fill="#3bb9d3" fill-opacity="0.13"/><path d="M697.2 1162.5C699.2 1162.5 704.4 1162.1 708.9 1162.3C713.4 1162.6 720.1 1164.9 724.4 1164.2C728.7 1163.5 731.3 1163.3 734.8 1157.9C738.3 1152.5 741.7 1141.5 745.2 1132C748.7 1122.5 752 1108.2 755.6 1100.8C759.2 1093.4 763.1 1090.7 767 1087.5C770.9 1084.3 775.8 1084 779 1081.5C782.2 1079 783.8 1078.7 786 1072.5C788.2 1066.3 790.2 1053.6 792.5 1044.5C794.8 1035.4 797.1 1022.8 799.6 1017.9C802.1 1013 804.4 1015.3 807.4 1015.3C810.4 1015.3 814.3 1019.2 817.8 1017.9C821.3 1016.6 824.8 1010.4 828.2 1007.5C831.6 1004.6 834.8 1003 838 1000.5C841.2 998 846 993.8 847.6 992.5" fill="none" stroke="#3aaec6" stroke-width="2.3" stroke-dasharray="17 8"/><path d="M697.2 1219.5C699.2 1217.4 704.4 1211.4 708.9 1206.9C713.4 1202.3 720.1 1196.2 724.4 1192.2C728.7 1188.2 731.3 1188.8 734.8 1182.9C738.3 1177 741.7 1166.5 745.2 1157C748.7 1147.5 752 1133.2 755.6 1125.8C759.2 1118.4 763.1 1115.7 767 1112.5C770.9 1109.3 775.8 1109 779 1106.5C782.2 1104 783.8 1103.7 786 1097.5C788.2 1091.3 790.2 1078.6 792.5 1069.5C794.8 1060.4 797.1 1047.8 799.6 1042.9C802.1 1038 804.4 1040.3 807.4 1040.3C810.4 1040.3 814.3 1044.2 817.8 1042.9C821.3 1041.6 824.8 1035.4 828.2 1032.5C831.6 1029.6 834.8 1028 838 1025.5C841.2 1023 846 1018.8 847.6 1017.5" fill="none" stroke="#3aaec6" stroke-width="2.3" stroke-dasharray="17 8"/><path d="M116.7 747.5C118.9 744.8 126.1 736.9 130 731.3C133.9 725.7 136.9 717.9 140 713.9C143.1 709.9 146.1 705 148.6 707.3C151.1 709.6 153.2 720 155 727.5C156.8 735 157.8 739.5 159.7 752.5C161.6 765.5 164.6 791.9 166.7 805.3C168.8 818.7 169.3 829.3 172 833C174.7 836.7 178.8 825.2 183 827.5C187.2 829.8 192.3 840 197 846.5C201.7 853 206.3 860.8 211 866.5C215.7 872.2 220.8 877.3 225 880.5C229.2 883.7 232.3 886.5 236 885.5C239.7 884.5 243.3 880.5 247 874.5C250.7 868.5 254.3 856 258 849.5C261.7 843 265.2 837.5 269 835.5C272.8 833.5 276.3 839.1 280.5 837.5C284.7 835.9 289.8 825.4 294 826.1C298.2 826.8 301.7 835.8 305.5 841.5C309.3 847.2 313 855 316.7 860.5C320.4 866 324.1 871.7 327.8 874.5C331.5 877.3 335.3 874.2 339 877.5C342.7 880.8 346.8 886.9 350 894.2C353.2 901.5 355.2 910.5 358 921.5C360.8 932.5 364.2 950.7 366.7 960.5C369.2 970.3 370.3 980.2 373 980.5C375.7 980.8 379.2 969 383 962.5C386.8 956 391.5 942.2 396 941.5C400.5 940.8 405.2 953.3 410 958.5C414.8 963.7 419.8 968.7 425 972.5C430.2 976.3 436.4 981.3 441 981.5C445.6 981.7 449.8 972.5 452.5 973.5C455.2 974.5 455.6 974.3 457.5 987.5C459.4 1000.7 461.9 1034.2 464 1052.5C466.1 1070.8 467.8 1093.8 470 1097.5C472.2 1101.2 475 1081.8 477.5 1075C480 1068.2 481.7 1058.6 485 1056.5C488.3 1054.4 493.3 1060.7 497.5 1062.5C501.7 1064.3 505.8 1070.8 510 1067.5C514.2 1064.2 518.3 1049.2 522.5 1042.5C526.7 1035.8 530.4 1028.3 535 1027.5C539.6 1026.7 544.6 1031.7 550 1037.5C555.4 1043.3 562.1 1058.8 567.5 1062.5C572.9 1066.2 577.9 1062.1 582.5 1060C587.1 1057.9 590.8 1046.7 595 1050C599.2 1053.3 603.3 1075.4 607.5 1080C611.7 1084.6 615.8 1075.4 620 1077.5C624.2 1079.6 629.2 1089.5 632.5 1092.5C635.8 1095.5 637.1 1094.7 640 1095.5C642.9 1096.3 646.7 1095.9 650 1097.5C653.3 1099.1 656.7 1105 660 1105C663.3 1105 667.1 1098.3 670 1097.5C672.9 1096.7 675.5 1096.7 677.5 1100C679.5 1103.3 681.2 1114.6 682 1117.5L682 1142.5C681.2 1139.6 679.5 1128.3 677.5 1125C675.5 1121.7 672.9 1121.7 670 1122.5C667.1 1123.3 663.3 1130 660 1130C656.7 1130 653.3 1124.1 650 1122.5C646.7 1120.9 642.9 1121.3 640 1120.5C637.1 1119.7 635.8 1120.5 632.5 1117.5C629.2 1114.5 624.2 1104.6 620 1102.5C615.8 1100.4 611.7 1109.6 607.5 1105C603.3 1100.4 599.2 1078.3 595 1075C590.8 1071.7 587.1 1082.9 582.5 1085C577.9 1087.1 572.9 1091.2 567.5 1087.5C562.1 1083.8 555.4 1068.3 550 1062.5C544.6 1056.7 539.6 1051.7 535 1052.5C530.4 1053.3 526.7 1060.8 522.5 1067.5C518.3 1074.2 514.2 1089.2 510 1092.5C505.8 1095.8 501.7 1089.3 497.5 1087.5C493.3 1085.7 488.3 1079.4 485 1081.5C481.7 1083.6 480 1093.2 477.5 1100C475 1106.8 472.2 1126.2 470 1122.5C467.8 1118.8 466.1 1095.8 464 1077.5C461.9 1059.2 459.4 1025.7 457.5 1012.5C455.6 999.3 455.2 999.5 452.5 998.5C449.8 997.5 445.6 1006.7 441 1006.5C436.4 1006.3 430.2 1001.3 425 997.5C419.8 993.7 414.8 988.7 410 983.5C405.2 978.3 400.5 965.8 396 966.5C391.5 967.2 386.8 981 383 987.5C379.2 994 375.7 1005.8 373 1005.5C370.3 1005.2 369.2 995.3 366.7 985.5C364.2 975.7 360.8 957.5 358 946.5C355.2 935.5 353.2 926.5 350 919.2C346.8 911.9 342.7 905.8 339 902.5C335.3 899.2 331.5 902.3 327.8 899.5C324.1 896.7 320.4 891 316.7 885.5C313 880 309.3 872.2 305.5 866.5C301.7 860.8 298.2 851.8 294 851.1C289.8 850.4 284.7 860.9 280.5 862.5C276.3 864.1 272.8 858.5 269 860.5C265.2 862.5 261.7 868 258 874.5C254.3 881 250.7 893.5 247 899.5C243.3 905.5 239.7 909.5 236 910.5C232.3 911.5 229.2 908.7 225 905.5C220.8 902.3 215.7 897.2 211 891.5C206.3 885.8 201.7 878 197 871.5C192.3 865 187.2 854.8 183 852.5C178.8 850.2 174.7 861.7 172 858C169.3 854.3 168.8 843.7 166.7 830.3C164.6 816.9 161.6 790.5 159.7 777.5C157.8 764.5 156.8 757.5 155 752.5C153.2 747.5 151.1 743.8 148.6 747.7C146.1 751.6 143.1 764.2 140 776.1C136.9 787.9 133.9 803.3 130 818.7C126.1 834.1 118.9 860.2 116.7 868.5Z" fill="#3a4fb4" fill-opacity="0.13"/><path d="M116.7 747.5C118.9 744.8 126.1 736.9 130 731.3C133.9 725.7 136.9 717.9 140 713.9C143.1 709.9 146.1 705 148.6 707.3C151.1 709.6 153.2 720 155 727.5C156.8 735 157.8 739.5 159.7 752.5C161.6 765.5 164.6 791.9 166.7 805.3C168.8 818.7 169.3 829.3 172 833C174.7 836.7 178.8 825.2 183 827.5C187.2 829.8 192.3 840 197 846.5C201.7 853 206.3 860.8 211 866.5C215.7 872.2 220.8 877.3 225 880.5C229.2 883.7 232.3 886.5 236 885.5C239.7 884.5 243.3 880.5 247 874.5C250.7 868.5 254.3 856 258 849.5C261.7 843 265.2 837.5 269 835.5C272.8 833.5 276.3 839.1 280.5 837.5C284.7 835.9 289.8 825.4 294 826.1C298.2 826.8 301.7 835.8 305.5 841.5C309.3 847.2 313 855 316.7 860.5C320.4 866 324.1 871.7 327.8 874.5C331.5 877.3 335.3 874.2 339 877.5C342.7 880.8 346.8 886.9 350 894.2C353.2 901.5 355.2 910.5 358 921.5C360.8 932.5 364.2 950.7 366.7 960.5C369.2 970.3 370.3 980.2 373 980.5C375.7 980.8 379.2 969 383 962.5C386.8 956 391.5 942.2 396 941.5C400.5 940.8 405.2 953.3 410 958.5C414.8 963.7 419.8 968.7 425 972.5C430.2 976.3 436.4 981.3 441 981.5C445.6 981.7 449.8 972.5 452.5 973.5C455.2 974.5 455.6 974.3 457.5 987.5C459.4 1000.7 461.9 1034.2 464 1052.5C466.1 1070.8 467.8 1093.8 470 1097.5C472.2 1101.2 475 1081.8 477.5 1075C480 1068.2 481.7 1058.6 485 1056.5C488.3 1054.4 493.3 1060.7 497.5 1062.5C501.7 1064.3 505.8 1070.8 510 1067.5C514.2 1064.2 518.3 1049.2 522.5 1042.5C526.7 1035.8 530.4 1028.3 535 1027.5C539.6 1026.7 544.6 1031.7 550 1037.5C555.4 1043.3 562.1 1058.8 567.5 1062.5C572.9 1066.2 577.9 1062.1 582.5 1060C587.1 1057.9 590.8 1046.7 595 1050C599.2 1053.3 603.3 1075.4 607.5 1080C611.7 1084.6 615.8 1075.4 620 1077.5C624.2 1079.6 629.2 1089.5 632.5 1092.5C635.8 1095.5 637.1 1094.7 640 1095.5C642.9 1096.3 646.7 1095.9 650 1097.5C653.3 1099.1 656.7 1105 660 1105C663.3 1105 667.1 1098.3 670 1097.5C672.9 1096.7 675.5 1096.7 677.5 1100C679.5 1103.3 681.2 1114.6 682 1117.5" fill="none" stroke="#3a47a0" stroke-width="2.3" stroke-dasharray="17 8"/><path d="M116.7 868.5C118.9 860.2 126.1 834.1 130 818.7C133.9 803.3 136.9 787.9 140 776.1C143.1 764.2 146.1 751.6 148.6 747.7C151.1 743.8 153.2 747.5 155 752.5C156.8 757.5 157.8 764.5 159.7 777.5C161.6 790.5 164.6 816.9 166.7 830.3C168.8 843.7 169.3 854.3 172 858C174.7 861.7 178.8 850.2 183 852.5C187.2 854.8 192.3 865 197 871.5C201.7 878 206.3 885.8 211 891.5C215.7 897.2 220.8 902.3 225 905.5C229.2 908.7 232.3 911.5 236 910.5C239.7 909.5 243.3 905.5 247 899.5C250.7 893.5 254.3 881 258 874.5C261.7 868 265.2 862.5 269 860.5C272.8 858.5 276.3 864.1 280.5 862.5C284.7 860.9 289.8 850.4 294 851.1C298.2 851.8 301.7 860.8 305.5 866.5C309.3 872.2 313 880 316.7 885.5C320.4 891 324.1 896.7 327.8 899.5C331.5 902.3 335.3 899.2 339 902.5C342.7 905.8 346.8 911.9 350 919.2C353.2 926.5 355.2 935.5 358 946.5C360.8 957.5 364.2 975.7 366.7 985.5C369.2 995.3 370.3 1005.2 373 1005.5C375.7 1005.8 379.2 994 383 987.5C386.8 981 391.5 967.2 396 966.5C400.5 965.8 405.2 978.3 410 983.5C414.8 988.7 419.8 993.7 425 997.5C430.2 1001.3 436.4 1006.3 441 1006.5C445.6 1006.7 449.8 997.5 452.5 998.5C455.2 999.5 455.6 999.3 457.5 1012.5C459.4 1025.7 461.9 1059.2 464 1077.5C466.1 1095.8 467.8 1118.8 470 1122.5C472.2 1126.2 475 1106.8 477.5 1100C480 1093.2 481.7 1083.6 485 1081.5C488.3 1079.4 493.3 1085.7 497.5 1087.5C501.7 1089.3 505.8 1095.8 510 1092.5C514.2 1089.2 518.3 1074.2 522.5 1067.5C526.7 1060.8 530.4 1053.3 535 1052.5C539.6 1051.7 544.6 1056.7 550 1062.5C555.4 1068.3 562.1 1083.8 567.5 1087.5C572.9 1091.2 577.9 1087.1 582.5 1085C587.1 1082.9 590.8 1071.7 595 1075C599.2 1078.3 603.3 1100.4 607.5 1105C611.7 1109.6 615.8 1100.4 620 1102.5C624.2 1104.6 629.2 1114.5 632.5 1117.5C635.8 1120.5 637.1 1119.7 640 1120.5C642.9 1121.3 646.7 1120.9 650 1122.5C653.3 1124.1 656.7 1130 660 1130C663.3 1130 667.1 1123.3 670 1122.5C672.9 1121.7 675.5 1121.7 677.5 1125C679.5 1128.3 681.2 1139.6 682 1142.5" fill="none" stroke="#3a47a0" stroke-width="2.3" stroke-dasharray="17 8"/><path d="M697.2 1101.5C698.2 1100 701 1095.2 703 1092.6C705 1090 706.1 1088.9 708.9 1085.7C711.7 1082.6 715.7 1078.1 720 1073.7C724.3 1069.3 730.6 1058.3 734.8 1059.4C739 1060.5 740.9 1071.5 745.2 1080.1C749.5 1088.7 756.4 1104.7 760.7 1111.2C765 1117.7 767.6 1119 771.1 1119C774.6 1119 778.5 1109.9 781.5 1111.2C784.5 1112.5 786.7 1117.7 789.3 1126.8C791.9 1135.9 794.4 1157.5 797 1165.7C799.6 1173.9 801.3 1173.9 804.8 1176C808.3 1178.1 813.9 1177.6 817.8 1178.5C821.7 1179.4 823.2 1179.9 828.2 1181.2C833.2 1182.5 844.4 1185.5 847.6 1186.4L847.6 1211.4C844.4 1210.5 833.2 1207.5 828.2 1206.2C823.2 1204.9 821.7 1204.4 817.8 1203.5C813.9 1202.6 808.3 1203.1 804.8 1201C801.3 1198.9 799.6 1198.9 797 1190.7C794.4 1182.5 791.9 1160.9 789.3 1151.8C786.7 1142.7 784.5 1137.5 781.5 1136.2C778.5 1134.9 774.6 1144 771.1 1144C767.6 1144 765 1142.7 760.7 1136.2C756.4 1129.7 749.5 1113.7 745.2 1105.1C740.9 1096.5 739 1084.2 734.8 1084.4C730.6 1084.6 724.3 1098.7 720 1106.3C715.7 1114 711.7 1124.1 708.9 1130.3C706.1 1136.4 705 1138.7 703 1143.4C701 1148.1 698.2 1156 697.2 1158.5Z" fill="#3a4fb4" fill-opacity="0.13"/><path d="M697.2 1101.5C698.2 1100 701 1095.2 703 1092.6C705 1090 706.1 1088.9 708.9 1085.7C711.7 1082.6 715.7 1078.1 720 1073.7C724.3 1069.3 730.6 1058.3 734.8 1059.4C739 1060.5 740.9 1071.5 745.2 1080.1C749.5 1088.7 756.4 1104.7 760.7 1111.2C765 1117.7 767.6 1119 771.1 1119C774.6 1119 778.5 1109.9 781.5 1111.2C784.5 1112.5 786.7 1117.7 789.3 1126.8C791.9 1135.9 794.4 1157.5 797 1165.7C799.6 1173.9 801.3 1173.9 804.8 1176C808.3 1178.1 813.9 1177.6 817.8 1178.5C821.7 1179.4 823.2 1179.9 828.2 1181.2C833.2 1182.5 844.4 1185.5 847.6 1186.4" fill="none" stroke="#3a47a0" stroke-width="2.3" stroke-dasharray="17 8"/><path d="M697.2 1158.5C698.2 1156 701 1148.1 703 1143.4C705 1138.7 706.1 1136.4 708.9 1130.3C711.7 1124.1 715.7 1114 720 1106.3C724.3 1098.7 730.6 1084.6 734.8 1084.4C739 1084.2 740.9 1096.5 745.2 1105.1C749.5 1113.7 756.4 1129.7 760.7 1136.2C765 1142.7 767.6 1144 771.1 1144C774.6 1144 778.5 1134.9 781.5 1136.2C784.5 1137.5 786.7 1142.7 789.3 1151.8C791.9 1160.9 794.4 1182.5 797 1190.7C799.6 1198.9 801.3 1198.9 804.8 1201C808.3 1203.1 813.9 1202.6 817.8 1203.5C821.7 1204.4 823.2 1204.9 828.2 1206.2C833.2 1207.5 844.4 1210.5 847.6 1211.4" fill="none" stroke="#3a47a0" stroke-width="2.3" stroke-dasharray="17 8"/><path d="M116.7 965.5C118.5 966.7 124.4 968.4 127.8 972.5C131.2 976.6 134 984.2 137 990.1C140 996 142.7 1008.2 145.8 1008C148.9 1007.7 152.6 1001 155.6 988.5C158.6 976 161.3 947.3 164 933C166.7 918.7 169.2 906.7 172 902.5C174.8 898.3 177.7 905.5 180.5 908C183.3 910.5 185.8 918.4 189 917.5C192.2 916.6 195.8 907.8 200 902.5C204.2 897.2 209.4 887.3 214 885.5C218.6 883.7 223.2 889.6 227.8 891.5C232.4 893.4 237.1 892.3 241.7 896.9C246.3 901.5 250.5 912.3 255.6 919.2C260.6 926.1 266.4 932 272 938.5C277.6 945 284.8 952.8 289 958.1C293.2 963.4 293.3 970.3 297 970.5C300.7 970.7 305.9 962.7 311 959.5C316.1 956.3 322.7 953.6 327.8 951.1C332.9 948.6 337.5 947.2 341.7 944.2C345.9 941.2 349.6 939.6 352.8 933.1C356 926.6 358.1 914.1 361 905.3C363.9 896.5 366.8 886.8 370 880.5C373.2 874.2 375.8 866.8 380 867.5C384.2 868.2 390.4 883.8 395 885C399.6 886.2 403.2 875.2 407.5 875C411.8 874.8 416.4 884.6 421 883.5C425.6 882.4 430.2 871.2 435 868.5C439.8 865.8 446.5 870.2 450 867.5C453.5 864.8 453.9 865.4 456 852.5C458.1 839.6 460.3 810.8 462.5 790C464.7 769.2 467.3 740.2 469 727.5C470.7 714.8 471.1 714.8 472.5 713.5C473.9 712.2 475.8 714.3 477.5 720C479.2 725.7 480.4 738.3 482.5 747.5C484.6 756.7 487.1 769.8 490 775C492.9 780.2 496.5 780.4 500 778.5C503.5 776.6 507.7 762.8 511 763.5C514.3 764.2 516.4 775.6 520 782.5C523.6 789.4 528.3 799.6 532.5 805C536.7 810.4 541.2 814.6 545 815C548.8 815.4 551.2 811.7 555 807.5C558.8 803.3 563.3 791.2 567.5 790C571.7 788.8 576.1 797.1 580 800C583.9 802.9 587.2 807.9 591 807.5C594.8 807.1 599.3 797.1 602.5 797.5C605.7 797.9 607.2 805.2 610 810C612.8 814.8 615.7 826.1 619 826.5C622.3 826.9 626.5 815.2 630 812.5C633.5 809.8 635.8 808.8 640 810C644.2 811.2 649.6 820.4 655 820C660.4 819.6 668.5 806.6 672.5 807.5C676.5 808.4 677.4 817.5 679 825.5C680.6 833.5 681.5 850.5 682 855.5L682 880.5C681.5 875.5 680.6 858.5 679 850.5C677.4 842.5 676.5 833.4 672.5 832.5C668.5 831.6 660.4 844.6 655 845C649.6 845.4 644.2 836.2 640 835C635.8 833.8 633.5 834.8 630 837.5C626.5 840.2 622.3 851.9 619 851.5C615.7 851.1 612.8 839.8 610 835C607.2 830.2 605.7 822.9 602.5 822.5C599.3 822.1 594.8 832.1 591 832.5C587.2 832.9 583.9 827.9 580 825C576.1 822.1 571.7 813.8 567.5 815C563.3 816.2 558.8 828.3 555 832.5C551.2 836.7 548.8 840.4 545 840C541.2 839.6 536.7 835.4 532.5 830C528.3 824.6 523.6 814.4 520 807.5C516.4 800.6 514.3 789.2 511 788.5C507.7 787.8 503.5 801.6 500 803.5C496.5 805.4 492.9 805.2 490 800C487.1 794.8 484.6 781.7 482.5 772.5C480.4 763.3 479.2 750.7 477.5 745C475.8 739.3 473.9 737.2 472.5 738.5C471.1 739.8 470.7 739.8 469 752.5C467.3 765.2 464.7 794.2 462.5 815C460.3 835.8 458.1 864.6 456 877.5C453.9 890.4 453.5 889.8 450 892.5C446.5 895.2 439.8 890.8 435 893.5C430.2 896.2 425.6 907.4 421 908.5C416.4 909.6 411.8 899.8 407.5 900C403.2 900.2 399.6 911.2 395 910C390.4 908.8 384.2 893.2 380 892.5C375.8 891.8 373.2 899.2 370 905.5C366.8 911.8 363.9 921.5 361 930.3C358.1 939.1 356 951.6 352.8 958.1C349.6 964.6 345.9 966.2 341.7 969.2C337.5 972.2 332.9 973.6 327.8 976.1C322.7 978.6 316.1 981.3 311 984.5C305.9 987.7 300.7 995.7 297 995.5C293.3 995.3 293.2 988.4 289 983.1C284.8 977.8 277.6 970 272 963.5C266.4 957 260.6 951.1 255.6 944.2C250.5 937.3 246.3 926.5 241.7 921.9C237.1 917.3 232.4 918.4 227.8 916.5C223.2 914.6 218.6 908.7 214 910.5C209.4 912.3 204.2 922.2 200 927.5C195.8 932.8 192.2 941.6 189 942.5C185.8 943.4 183.3 935.5 180.5 933C177.7 930.5 174.8 923.3 172 927.5C169.2 931.7 166.7 943.7 164 958C161.3 972.3 158.6 997.3 155.6 1013.5C152.6 1029.7 148.9 1047.7 145.8 1055.4C142.7 1063.2 140 1058.2 137 1059.9C134 1061.5 131.2 1061 127.8 1065.5C124.4 1069.9 118.5 1083 116.7 1086.5Z" fill="#e3120b" fill-opacity="0.13"/><path d="M116.7 965.5C118.5 966.7 124.4 968.4 127.8 972.5C131.2 976.6 134 984.2 137 990.1C140 996 142.7 1008.2 145.8 1008C148.9 1007.7 152.6 1001 155.6 988.5C158.6 976 161.3 947.3 164 933C166.7 918.7 169.2 906.7 172 902.5C174.8 898.3 177.7 905.5 180.5 908C183.3 910.5 185.8 918.4 189 917.5C192.2 916.6 195.8 907.8 200 902.5C204.2 897.2 209.4 887.3 214 885.5C218.6 883.7 223.2 889.6 227.8 891.5C232.4 893.4 237.1 892.3 241.7 896.9C246.3 901.5 250.5 912.3 255.6 919.2C260.6 926.1 266.4 932 272 938.5C277.6 945 284.8 952.8 289 958.1C293.2 963.4 293.3 970.3 297 970.5C300.7 970.7 305.9 962.7 311 959.5C316.1 956.3 322.7 953.6 327.8 951.1C332.9 948.6 337.5 947.2 341.7 944.2C345.9 941.2 349.6 939.6 352.8 933.1C356 926.6 358.1 914.1 361 905.3C363.9 896.5 366.8 886.8 370 880.5C373.2 874.2 375.8 866.8 380 867.5C384.2 868.2 390.4 883.8 395 885C399.6 886.2 403.2 875.2 407.5 875C411.8 874.8 416.4 884.6 421 883.5C425.6 882.4 430.2 871.2 435 868.5C439.8 865.8 446.5 870.2 450 867.5C453.5 864.8 453.9 865.4 456 852.5C458.1 839.6 460.3 810.8 462.5 790C464.7 769.2 467.3 740.2 469 727.5C470.7 714.8 471.1 714.8 472.5 713.5C473.9 712.2 475.8 714.3 477.5 720C479.2 725.7 480.4 738.3 482.5 747.5C484.6 756.7 487.1 769.8 490 775C492.9 780.2 496.5 780.4 500 778.5C503.5 776.6 507.7 762.8 511 763.5C514.3 764.2 516.4 775.6 520 782.5C523.6 789.4 528.3 799.6 532.5 805C536.7 810.4 541.2 814.6 545 815C548.8 815.4 551.2 811.7 555 807.5C558.8 803.3 563.3 791.2 567.5 790C571.7 788.8 576.1 797.1 580 800C583.9 802.9 587.2 807.9 591 807.5C594.8 807.1 599.3 797.1 602.5 797.5C605.7 797.9 607.2 805.2 610 810C612.8 814.8 615.7 826.1 619 826.5C622.3 826.9 626.5 815.2 630 812.5C633.5 809.8 635.8 808.8 640 810C644.2 811.2 649.6 820.4 655 820C660.4 819.6 668.5 806.6 672.5 807.5C676.5 808.4 677.4 817.5 679 825.5C680.6 833.5 681.5 850.5 682 855.5" fill="none" stroke="#cc2026" stroke-width="2.3" stroke-dasharray="17 8"/><path d="M116.7 1086.5C118.5 1083 124.4 1069.9 127.8 1065.5C131.2 1061 134 1061.5 137 1059.9C140 1058.2 142.7 1063.2 145.8 1055.4C148.9 1047.7 152.6 1029.7 155.6 1013.5C158.6 997.3 161.3 972.3 164 958C166.7 943.7 169.2 931.7 172 927.5C174.8 923.3 177.7 930.5 180.5 933C183.3 935.5 185.8 943.4 189 942.5C192.2 941.6 195.8 932.8 200 927.5C204.2 922.2 209.4 912.3 214 910.5C218.6 908.7 223.2 914.6 227.8 916.5C232.4 918.4 237.1 917.3 241.7 921.9C246.3 926.5 250.5 937.3 255.6 944.2C260.6 951.1 266.4 957 272 963.5C277.6 970 284.8 977.8 289 983.1C293.2 988.4 293.3 995.3 297 995.5C300.7 995.7 305.9 987.7 311 984.5C316.1 981.3 322.7 978.6 327.8 976.1C332.9 973.6 337.5 972.2 341.7 969.2C345.9 966.2 349.6 964.6 352.8 958.1C356 951.6 358.1 939.1 361 930.3C363.9 921.5 366.8 911.8 370 905.5C373.2 899.2 375.8 891.8 380 892.5C384.2 893.2 390.4 908.8 395 910C399.6 911.2 403.2 900.2 407.5 900C411.8 899.8 416.4 909.6 421 908.5C425.6 907.4 430.2 896.2 435 893.5C439.8 890.8 446.5 895.2 450 892.5C453.5 889.8 453.9 890.4 456 877.5C458.1 864.6 460.3 835.8 462.5 815C464.7 794.2 467.3 765.2 469 752.5C470.7 739.8 471.1 739.8 472.5 738.5C473.9 737.2 475.8 739.3 477.5 745C479.2 750.7 480.4 763.3 482.5 772.5C484.6 781.7 487.1 794.8 490 800C492.9 805.2 496.5 805.4 500 803.5C503.5 801.6 507.7 787.8 511 788.5C514.3 789.2 516.4 800.6 520 807.5C523.6 814.4 528.3 824.6 532.5 830C536.7 835.4 541.2 839.6 545 840C548.8 840.4 551.2 836.7 555 832.5C558.8 828.3 563.3 816.2 567.5 815C571.7 813.8 576.1 822.1 580 825C583.9 827.9 587.2 832.9 591 832.5C594.8 832.1 599.3 822.1 602.5 822.5C605.7 822.9 607.2 830.2 610 835C612.8 839.8 615.7 851.1 619 851.5C622.3 851.9 626.5 840.2 630 837.5C633.5 834.8 635.8 833.8 640 835C644.2 836.2 649.6 845.4 655 845C660.4 844.6 668.5 831.6 672.5 832.5C676.5 833.4 677.4 842.5 679 850.5C680.6 858.5 681.5 875.5 682 880.5" fill="none" stroke="#cc2026" stroke-width="2.3" stroke-dasharray="17 8"/><path d="M697.2 885.2C697.7 890.7 698.9 906.3 700 918C701.1 929.6 702.5 944.4 704 955.1C705.5 965.8 706.9 974.4 708.9 982.1C710.9 989.9 713.4 995 716 1001.5C718.6 1008.1 720.4 1013.6 724.4 1021.5C728.4 1029.4 734.8 1041.8 740 1049C745.2 1056.2 751.3 1059.3 755.6 1064.5C759.9 1069.7 761.7 1075.8 766 1080.1C770.3 1084.4 776.3 1087.9 781.5 1090.5C786.7 1093.1 792.7 1093.8 797 1095.5C801.3 1097.2 804.4 1099 807.4 1100.8C810.4 1102.5 812.2 1102.5 815.2 1106C818.2 1109.5 821.7 1117.2 825.6 1121.5C829.5 1125.8 834.8 1129.4 838.5 1132C842.2 1134.6 846.1 1136.2 847.6 1137.1L847.6 1162.1C846.1 1161.2 842.2 1159.6 838.5 1157C834.8 1154.4 829.5 1150.8 825.6 1146.5C821.7 1142.2 818.2 1134.5 815.2 1131C812.2 1127.5 810.4 1127.5 807.4 1125.8C804.4 1124 801.3 1122.2 797 1120.5C792.7 1118.8 786.7 1118.1 781.5 1115.5C776.3 1112.9 770.3 1109.4 766 1105.1C761.7 1100.8 759.9 1094.7 755.6 1089.5C751.3 1084.3 745.2 1080.7 740 1074C734.8 1067.3 728.4 1055.4 724.4 1049.5C720.4 1043.6 718.6 1042.3 716 1038.5C713.4 1034.7 710.9 1032.3 708.9 1026.7C706.9 1021.1 705.5 1014 704 1004.9C702.5 995.8 701.1 982.5 700 972C698.9 961.6 697.7 947.2 697.2 942.2Z" fill="#e3120b" fill-opacity="0.13"/><path d="M697.2 885.2C697.7 890.7 698.9 906.3 700 918C701.1 929.6 702.5 944.4 704 955.1C705.5 965.8 706.9 974.4 708.9 982.1C710.9 989.9 713.4 995 716 1001.5C718.6 1008.1 720.4 1013.6 724.4 1021.5C728.4 1029.4 734.8 1041.8 740 1049C745.2 1056.2 751.3 1059.3 755.6 1064.5C759.9 1069.7 761.7 1075.8 766 1080.1C770.3 1084.4 776.3 1087.9 781.5 1090.5C786.7 1093.1 792.7 1093.8 797 1095.5C801.3 1097.2 804.4 1099 807.4 1100.8C810.4 1102.5 812.2 1102.5 815.2 1106C818.2 1109.5 821.7 1117.2 825.6 1121.5C829.5 1125.8 834.8 1129.4 838.5 1132C842.2 1134.6 846.1 1136.2 847.6 1137.1" fill="none" stroke="#cc2026" stroke-width="2.3" stroke-dasharray="17 8"/><path d="M697.2 942.2C697.7 947.2 698.9 961.6 700 972C701.1 982.5 702.5 995.8 704 1004.9C705.5 1014 706.9 1021.1 708.9 1026.7C710.9 1032.3 713.4 1034.7 716 1038.5C718.6 1042.3 720.4 1043.6 724.4 1049.5C728.4 1055.4 734.8 1067.3 740 1074C745.2 1080.7 751.3 1084.3 755.6 1089.5C759.9 1094.7 761.7 1100.8 766 1105.1C770.3 1109.4 776.3 1112.9 781.5 1115.5C786.7 1118.1 792.7 1118.8 797 1120.5C801.3 1122.2 804.4 1124 807.4 1125.8C810.4 1127.5 812.2 1127.5 815.2 1131C818.2 1134.5 821.7 1142.2 825.6 1146.5C829.5 1150.8 834.8 1154.4 838.5 1157C842.2 1159.6 846.1 1161.2 847.6 1162.1" fill="none" stroke="#cc2026" stroke-width="2.3" stroke-dasharray="17 8"/><path d="M118.8 1383.8C124 1383.9 140.6 1384.5 150 1384.5C159.4 1384.5 166.7 1384.5 175 1383.8C183.3 1383 191.7 1381.5 200 1380C208.3 1378.5 216.7 1376.9 225 1375C233.3 1373.1 241.7 1370.8 250 1368.8C258.3 1366.7 266.7 1364.6 275 1362.5C283.3 1360.4 291.7 1357.6 300 1356C308.3 1354.4 316.7 1353.6 325 1353C333.3 1352.4 342.5 1352.2 350 1352.5C357.5 1352.8 358.3 1353.8 370 1355C381.7 1356.2 403.3 1358.2 420 1360C436.7 1361.8 453.3 1364.8 470 1366C486.7 1367.2 503.3 1367.8 520 1367.5C536.7 1367.2 553.3 1365.7 570 1364C586.7 1362.3 601.7 1359 620 1357.5C638.3 1356 670 1355.4 680 1355" fill="none" stroke="#64c832" stroke-width="5.5" stroke-linejoin="round" stroke-linecap="round"/><path d="M697.2 1343C699.2 1342.3 703.9 1340.8 708.9 1339C713.9 1337.2 721 1334.2 727 1332C733 1329.8 738.9 1328.2 745.2 1326C751.5 1323.8 759 1321.2 765 1319C771 1316.8 773.6 1315.3 781.5 1313C789.4 1310.7 804.5 1307 812.6 1305C820.7 1303 824.2 1302.2 830 1301C835.8 1299.8 844.7 1298.1 847.6 1297.5" fill="none" stroke="#64c832" stroke-width="5.5" stroke-linejoin="round" stroke-linecap="round"/><path d="M118.8 1305C121 1307.1 127.3 1312.9 132.5 1317.5C137.7 1322.1 143.8 1329 150 1332.5C156.2 1336 161.7 1337.3 170 1338.8C178.3 1340.2 188.8 1340.1 200 1341C211.2 1341.9 227.1 1344 237.5 1344C247.9 1344 255.4 1342.5 262.5 1341C269.6 1339.5 273.8 1338.5 280 1335C286.2 1331.5 293.3 1323.8 300 1320C306.7 1316.2 313.3 1314 320 1312.5C326.7 1311 333.8 1312.2 340 1311C346.2 1309.8 352.5 1307 357.5 1305C362.5 1303 364.6 1299.8 370 1299C375.4 1298.2 383.8 1301.1 390 1300C396.2 1298.9 402.5 1296.2 407.5 1292.5C412.5 1288.8 415.4 1281.1 420 1277.5C424.6 1273.9 430 1271 435 1271C440 1271 445 1273.5 450 1277.5C455 1281.5 460.4 1289.6 465 1295C469.6 1300.4 472.5 1306.7 477.5 1310C482.5 1313.3 488.8 1314.6 495 1315C501.2 1315.4 508.8 1315 515 1312.5C521.2 1310 526.7 1303.8 532.5 1300C538.3 1296.2 543.8 1292.1 550 1290C556.2 1287.9 562.5 1287.8 570 1287.5C577.5 1287.2 587.5 1287.4 595 1288C602.5 1288.6 609.2 1289.4 615 1291C620.8 1292.6 625.8 1296 630 1297.5C634.2 1299 635 1299.1 640 1300C645 1300.9 653.3 1302.5 660 1303C666.7 1303.5 676.7 1303 680 1303" fill="none" stroke="#f7891f" stroke-width="5.5" stroke-linejoin="round" stroke-linecap="round"/><path d="M697.2 1268C699.2 1267.7 702.6 1266.6 708.9 1266.3C715.2 1266 727 1265.9 734.8 1266.3C742.6 1266.7 748.7 1270.6 755.6 1268.9C762.5 1267.2 770.2 1259.9 776.3 1256C782.3 1252.1 786.7 1247.3 791.9 1245.6C797.1 1243.9 801.3 1244.7 807.4 1245.6C813.5 1246.5 821.5 1249.5 828.2 1250.8C834.9 1252.1 844.4 1253 847.6 1253.4" fill="none" stroke="#f7891f" stroke-width="5.5" stroke-linejoin="round" stroke-linecap="round"/><path d="M118.8 1397.5C121 1399.6 128.1 1407.2 132.5 1410C136.9 1412.8 140 1414 145 1414.5C150 1415 156.2 1413.6 162.5 1413C168.8 1412.4 176.2 1412.5 182.5 1411C188.8 1409.5 195 1406.2 200 1404C205 1401.8 208.3 1399.2 212.5 1397.5C216.7 1395.8 220.8 1394 225 1394C229.2 1394 233.3 1396.1 237.5 1397.5C241.7 1398.9 244.6 1401.4 250 1402.5C255.4 1403.6 262.9 1403.4 270 1404C277.1 1404.6 285.4 1406.7 292.5 1406C299.6 1405.3 305 1402.5 312.5 1400C320 1397.5 331.2 1392.8 337.5 1391C343.8 1389.2 345.8 1390.7 350 1389C354.2 1387.3 359.2 1381.2 362.5 1381C365.8 1380.8 366.2 1386.1 370 1388C373.8 1389.9 380 1392.2 385 1392.5C390 1392.8 394.2 1389.8 400 1390C405.8 1390.2 413.8 1393.6 420 1394C426.2 1394.4 431.7 1391.7 437.5 1392.5C443.3 1393.3 450.4 1398.6 455 1399C459.6 1399.4 461.7 1399.8 465 1395C468.3 1390.2 471.2 1377.1 475 1370C478.8 1362.9 482.5 1355.4 487.5 1352.5C492.5 1349.6 498.8 1351.9 505 1352.5C511.2 1353.1 518.3 1355.2 525 1356C531.7 1356.8 539.2 1358.1 545 1357.5C550.8 1356.9 555.3 1354.1 560 1352.6C564.7 1351.1 567.6 1350 573 1348.7C578.4 1347.4 587 1348.2 592.4 1344.8C597.8 1341.3 601.1 1334 605.4 1328C609.7 1322 614 1314.3 618.3 1308.5C622.6 1302.7 627 1298.4 631.3 1293C635.6 1287.6 640.2 1280.8 644.3 1276C648.4 1271.2 652.8 1265.7 656 1264.4C659.2 1263.1 661.1 1266.1 663.7 1268.3C666.3 1270.5 668.8 1277.1 671.5 1277.4C674.2 1277.7 678.6 1271.2 680 1270" fill="none" stroke="#3bb9d3" stroke-width="5.5" stroke-linejoin="round" stroke-linecap="round"/><path d="M697.2 1191C699.2 1189.9 704.4 1186.7 708.9 1184.6C713.4 1182.5 720.1 1180.6 724.4 1178.2C728.7 1175.8 731.3 1176 734.8 1170.4C738.3 1164.8 741.7 1154 745.2 1144.5C748.7 1135 752 1120.7 755.6 1113.3C759.2 1105.9 763.1 1103.2 767 1100C770.9 1096.8 775.8 1096.5 779 1094C782.2 1091.5 783.8 1091.2 786 1085C788.2 1078.8 790.2 1066.1 792.5 1057C794.8 1047.9 797.1 1035.3 799.6 1030.4C802.1 1025.5 804.4 1027.8 807.4 1027.8C810.4 1027.8 814.3 1031.7 817.8 1030.4C821.3 1029.1 824.8 1022.9 828.2 1020C831.6 1017.1 834.8 1015.5 838 1013C841.2 1010.5 846 1006.3 847.6 1005" fill="none" stroke="#3bb9d3" stroke-width="5.5" stroke-linejoin="round" stroke-linecap="round"/><path d="M116.7 808C118.9 802.5 126.1 785.5 130 775C133.9 764.5 136.9 752.9 140 745C143.1 737.1 146.1 728.3 148.6 727.5C151.1 726.7 153.2 733.8 155 740C156.8 746.2 157.8 752 159.7 765C161.6 778 164.6 804.4 166.7 817.8C168.8 831.2 169.3 841.8 172 845.5C174.7 849.2 178.8 837.8 183 840C187.2 842.2 192.3 852.5 197 859C201.7 865.5 206.3 873.3 211 879C215.7 884.7 220.8 889.8 225 893C229.2 896.2 232.3 899 236 898C239.7 897 243.3 893 247 887C250.7 881 254.3 868.5 258 862C261.7 855.5 265.2 850 269 848C272.8 846 276.3 851.6 280.5 850C284.7 848.4 289.8 837.9 294 838.6C298.2 839.3 301.7 848.3 305.5 854C309.3 859.7 313 867.5 316.7 873C320.4 878.5 324.1 884.2 327.8 887C331.5 889.8 335.3 886.7 339 890C342.7 893.3 346.8 899.4 350 906.7C353.2 914 355.2 923 358 934C360.8 945 364.2 963.2 366.7 973C369.2 982.8 370.3 992.7 373 993C375.7 993.3 379.2 981.5 383 975C386.8 968.5 391.5 954.7 396 954C400.5 953.3 405.2 965.8 410 971C414.8 976.2 419.8 981.2 425 985C430.2 988.8 436.4 993.8 441 994C445.6 994.2 449.8 985 452.5 986C455.2 987 455.6 986.8 457.5 1000C459.4 1013.2 461.9 1046.7 464 1065C466.1 1083.3 467.8 1106.2 470 1110C472.2 1113.8 475 1094.3 477.5 1087.5C480 1080.7 481.7 1071.1 485 1069C488.3 1066.9 493.3 1073.2 497.5 1075C501.7 1076.8 505.8 1083.3 510 1080C514.2 1076.7 518.3 1061.7 522.5 1055C526.7 1048.3 530.4 1040.8 535 1040C539.6 1039.2 544.6 1044.2 550 1050C555.4 1055.8 562.1 1071.2 567.5 1075C572.9 1078.8 577.9 1074.6 582.5 1072.5C587.1 1070.4 590.8 1059.2 595 1062.5C599.2 1065.8 603.3 1087.9 607.5 1092.5C611.7 1097.1 615.8 1087.9 620 1090C624.2 1092.1 629.2 1102 632.5 1105C635.8 1108 637.1 1107.2 640 1108C642.9 1108.8 646.7 1108.4 650 1110C653.3 1111.6 656.7 1117.5 660 1117.5C663.3 1117.5 667.1 1110.8 670 1110C672.9 1109.2 675.5 1109.2 677.5 1112.5C679.5 1115.8 681.2 1127.1 682 1130" fill="none" stroke="#3a4fb4" stroke-width="5.5" stroke-linejoin="round" stroke-linecap="round"/><path d="M697.2 1130C698.2 1128 701 1121.7 703 1118C705 1114.3 706.1 1112.7 708.9 1108C711.7 1103.3 715.7 1096 720 1090C724.3 1084 730.6 1071.5 734.8 1071.9C739 1072.3 740.9 1084 745.2 1092.6C749.5 1101.2 756.4 1117.2 760.7 1123.7C765 1130.2 767.6 1131.5 771.1 1131.5C774.6 1131.5 778.5 1122.4 781.5 1123.7C784.5 1125 786.7 1130.2 789.3 1139.3C791.9 1148.4 794.4 1170 797 1178.2C799.6 1186.4 801.3 1186.4 804.8 1188.5C808.3 1190.6 813.9 1190.1 817.8 1191C821.7 1191.9 823.2 1192.4 828.2 1193.7C833.2 1195 844.4 1198 847.6 1198.9" fill="none" stroke="#3a4fb4" stroke-width="5.5" stroke-linejoin="round" stroke-linecap="round"/><path d="M116.7 1026C118.5 1024.8 124.4 1019.2 127.8 1019C131.2 1018.8 134 1022.9 137 1025C140 1027.1 142.7 1035.7 145.8 1031.7C148.9 1027.7 152.6 1015.4 155.6 1001C158.6 986.6 161.3 959.8 164 945.5C166.7 931.2 169.2 919.2 172 915C174.8 910.8 177.7 918 180.5 920.5C183.3 923 185.8 930.9 189 930C192.2 929.1 195.8 920.3 200 915C204.2 909.7 209.4 899.8 214 898C218.6 896.2 223.2 902.1 227.8 904C232.4 905.9 237.1 904.8 241.7 909.4C246.3 914 250.5 924.8 255.6 931.7C260.6 938.6 266.4 944.5 272 951C277.6 957.5 284.8 965.3 289 970.6C293.2 975.9 293.3 982.8 297 983C300.7 983.2 305.9 975.2 311 972C316.1 968.8 322.7 966.1 327.8 963.6C332.9 961.1 337.5 959.7 341.7 956.7C345.9 953.7 349.6 952.1 352.8 945.6C356 939.1 358.1 926.6 361 917.8C363.9 909 366.8 899.3 370 893C373.2 886.7 375.8 879.2 380 880C384.2 880.8 390.4 896.2 395 897.5C399.6 898.8 403.2 887.8 407.5 887.5C411.8 887.2 416.4 897.1 421 896C425.6 894.9 430.2 883.7 435 881C439.8 878.3 446.5 882.7 450 880C453.5 877.3 453.9 877.9 456 865C458.1 852.1 460.3 823.3 462.5 802.5C464.7 781.7 467.3 752.8 469 740C470.7 727.2 471.1 727.2 472.5 726C473.9 724.8 475.8 726.8 477.5 732.5C479.2 738.2 480.4 750.8 482.5 760C484.6 769.2 487.1 782.3 490 787.5C492.9 792.7 496.5 792.9 500 791C503.5 789.1 507.7 775.3 511 776C514.3 776.7 516.4 788.1 520 795C523.6 801.9 528.3 812.1 532.5 817.5C536.7 822.9 541.2 827.1 545 827.5C548.8 827.9 551.2 824.2 555 820C558.8 815.8 563.3 803.8 567.5 802.5C571.7 801.2 576.1 809.6 580 812.5C583.9 815.4 587.2 820.4 591 820C594.8 819.6 599.3 809.6 602.5 810C605.7 810.4 607.2 817.7 610 822.5C612.8 827.3 615.7 838.6 619 839C622.3 839.4 626.5 827.8 630 825C633.5 822.2 635.8 821.2 640 822.5C644.2 823.8 649.6 832.9 655 832.5C660.4 832.1 668.5 819.1 672.5 820C676.5 820.9 677.4 830 679 838C680.6 846 681.5 863 682 868" fill="none" stroke="#e3120b" stroke-width="5.5" stroke-linejoin="round" stroke-linecap="round"/><path d="M697.2 913.7C697.7 918.9 698.9 934 700 945C701.1 956 702.5 970.1 704 980C705.5 989.9 706.9 997.7 708.9 1004.4C710.9 1011.1 713.4 1014.8 716 1020C718.6 1025.2 720.4 1028.6 724.4 1035.5C728.4 1042.4 734.8 1054.6 740 1061.5C745.2 1068.4 751.3 1071.8 755.6 1077C759.9 1082.2 761.7 1088.3 766 1092.6C770.3 1096.9 776.3 1100.4 781.5 1103C786.7 1105.6 792.7 1106.3 797 1108C801.3 1109.7 804.4 1111.5 807.4 1113.3C810.4 1115 812.2 1115 815.2 1118.5C818.2 1122 821.7 1129.7 825.6 1134C829.5 1138.3 834.8 1141.9 838.5 1144.5C842.2 1147.1 846.1 1148.8 847.6 1149.6" fill="none" stroke="#e3120b" stroke-width="5.5" stroke-linejoin="round" stroke-linecap="round"/></g>
<rect x="683" y="538" width="14" height="900" fill="#fff"/>
<line x1="690" y1="538" x2="690" y2="1438" stroke="#000" stroke-width="2.8"/>
<line x1="849.5" y1="482" x2="849.5" y2="1460.5" stroke="#000" stroke-width="2.6"/>
<circle cx="690" cy="971" r="19" fill="#fff"/>
<circle cx="690" cy="1110" r="19" fill="#fff"/>
<circle cx="690" cy="1240" r="19" fill="#fff"/>
<circle cx="690" cy="1268.8" r="19" fill="#fff"/>
<circle cx="690" cy="1344.5" r="19" fill="#fff"/>
<circle cx="690" cy="971" r="10.9" fill="#e3120b" stroke="#000" stroke-width="5.4"/>
<circle cx="690" cy="1110" r="10.9" fill="#3a4fb4" stroke="#000" stroke-width="5.4"/>
<circle cx="690" cy="1240" r="10.9" fill="#3bb9d3" stroke="#000" stroke-width="5.4"/>
<circle cx="690" cy="1268.8" r="10.9" fill="#f7891f" stroke="#000" stroke-width="5.4"/>
<circle cx="690" cy="1344.5" r="10.9" fill="#64c832" stroke="#000" stroke-width="5.4"/>
<line x1="34" y1="1438.3" x2="849" y2="1438.3" stroke="#000" stroke-width="3"/>
<line x1="849" y1="1438.3" x2="1045" y2="1438.3" stroke="#000" stroke-width="2"/>
<line x1="115.5" y1="1438" x2="115.5" y2="1460.5" stroke="#000" stroke-width="3"/>
<line x1="243" y1="1438" x2="243" y2="1460.5" stroke="#000" stroke-width="3"/>
<line x1="370" y1="1438" x2="370" y2="1460.5" stroke="#000" stroke-width="3"/>
<line x1="497.8" y1="1438" x2="497.8" y2="1460.5" stroke="#000" stroke-width="3"/>
<line x1="625" y1="1438" x2="625" y2="1460.5" stroke="#000" stroke-width="3"/>
<line x1="752.8" y1="1438" x2="752.8" y2="1460.5" stroke="#000" stroke-width="3"/>
<text x="178.5" y="1499.3" font-size="38.5" textLength="41.5" lengthAdjust="spacingAndGlyphs" text-anchor="middle">20</text>
<text x="307.2" y="1499.3" font-size="38.5" textLength="41.5" lengthAdjust="spacingAndGlyphs" text-anchor="middle">21</text>
<text x="433.6" y="1499.3" font-size="38.5" textLength="41.5" lengthAdjust="spacingAndGlyphs" text-anchor="middle">22</text>
<text x="560.8" y="1499.3" font-size="38.5" textLength="41.5" lengthAdjust="spacingAndGlyphs" text-anchor="middle">23</text>
<text x="688.6" y="1499.3" font-size="38.5" textLength="41.5" lengthAdjust="spacingAndGlyphs" text-anchor="middle">24</text>
<text x="800.8" y="1499.3" font-size="38.5" textLength="41.5" lengthAdjust="spacingAndGlyphs" text-anchor="middle">25</text>
<text x="-7" y="1499.3" font-size="38.5" textLength="80" lengthAdjust="spacingAndGlyphs">2018</text>
<rect x="852" y="1158" width="144" height="6" fill="#fff"/><rect x="852" y="1296.5" width="180" height="6" fill="#fff"/>
<circle cx="872.2" cy="1005" r="14" fill="#3bb9d3"/>
<text x="888.5" y="1018.7" font-size="38.5" textLength="166.5" lengthAdjust="spacingAndGlyphs">Reform 31</text>
<circle cx="872.2" cy="1150.7" r="14" fill="#e3120b"/>
<text x="888.5" y="1164.4" font-size="38.5" textLength="105.5" lengthAdjust="spacingAndGlyphs">Lab 21</text>
<circle cx="872.2" cy="1201" r="14" fill="#3a4fb4"/>
<text x="888.5" y="1214.7" font-size="38.5" textLength="106" lengthAdjust="spacingAndGlyphs">Con 17</text>
<circle cx="872.2" cy="1252" r="14" fill="#f7891f"/>
<text x="888.5" y="1265.7" font-size="38.5" textLength="94" lengthAdjust="spacingAndGlyphs">Lib 13</text>
<circle cx="872.2" cy="1302.3" r="14" fill="#64c832"/>
<text x="888.5" y="1316" font-size="38.5" textLength="142" lengthAdjust="spacingAndGlyphs">Green 10</text>
<text x="44" y="1765.2" font-size="178" font-family="'Liberation Serif', 'Times New Roman', serif" textLength="113" lengthAdjust="spacingAndGlyphs" stroke="#0d0d0d" stroke-width="0.7">A</text>
<text x="168" y="1680" font-size="46" font-family="'Liberation Serif', 'Times New Roman', serif" textLength="545" lengthAdjust="spacingAndGlyphs" stroke="#0d0d0d" stroke-width="0.7">LTHOUGH A GENERAL</text>
<text x="727" y="1680" font-size="58.5" font-family="'Liberation Serif', 'Times New Roman', serif" textLength="241" lengthAdjust="spacingAndGlyphs" stroke="#0d0d0d" stroke-width="0.7">election is</text>
<text x="168.9" y="1759.6" font-size="58.5" font-family="'Liberation Serif', 'Times New Roman', serif" textLength="806" lengthAdjust="spacingAndGlyphs" stroke="#0d0d0d" stroke-width="0.7">not likely until 2029—a lifetime in</text>
<text x="35.5" y="1838.8" font-size="58.5" font-family="'Liberation Serif', 'Times New Roman', serif" textLength="941" lengthAdjust="spacingAndGlyphs" stroke="#0d0d0d" stroke-width="0.7">political terms—the latest opinion polls</text>
<text x="35.5" y="1917.5" font-size="58.5" font-family="'Liberation Serif', 'Times New Roman', serif" textLength="929" lengthAdjust="spacingAndGlyphs" stroke="#0d0d0d" stroke-width="0.7">show that British politics are becoming</text>
<text x="35.5" y="1995.3" font-size="58.5" font-family="'Liberation Serif', 'Times New Roman', serif" textLength="982" lengthAdjust="spacingAndGlyphs" stroke="#0d0d0d" stroke-width="0.7">ever more fragmented. Over the past year</text>
<text x="35.5" y="2074" font-size="58.5" font-family="'Liberation Serif', 'Times New Roman', serif" textLength="897" lengthAdjust="spacingAndGlyphs" stroke="#0d0d0d" stroke-width="0.7">support has haemorrhaged away from</text>
<rect x="0" y="2058" width="1080" height="206.5" fill="#1f2c79"/>
<text x="540" y="2140.5" font-size="43" fill="#fff" textLength="747" lengthAdjust="spacingAndGlyphs" text-anchor="middle" stroke="#fff" stroke-width="0.9">Explore all of our independent journalism</text>
<text x="311" y="2207.7" font-size="43" fill="#fff" textLength="282" lengthAdjust="spacingAndGlyphs" stroke="#fff" stroke-width="0.9">with a free trial.</text>
<text x="607.5" y="2207.7" font-size="43" fill="#fff" textLength="165" lengthAdjust="spacingAndGlyphs" stroke="#fff" stroke-width="0.9">Free trial</text>
<rect x="606.2" y="2226.3" width="165.5" height="4" fill="#fff"/>
<rect x="965.3" y="2077" width="83.6" height="84.4" fill="none" stroke="#35d3bd" stroke-width="5.6"/>
<path d="M989.5 2125.5l17.2-17.2 17.2 17.2" fill="none" stroke="#fff" stroke-width="5"/>
<g stroke="#939393" fill="none" stroke-linecap="round"><path d="M224.1 2313v36M241 2313v36M257.8 2313v36" stroke-width="5.5"/><rect x="523.5" y="2311.5" width="39.2" height="39" rx="12" stroke-width="5"/><path d="M855 2312.5l-19 18.5 19 18.5" stroke-width="5" stroke-linejoin="round"/></g>
</svg>
</body></html>
